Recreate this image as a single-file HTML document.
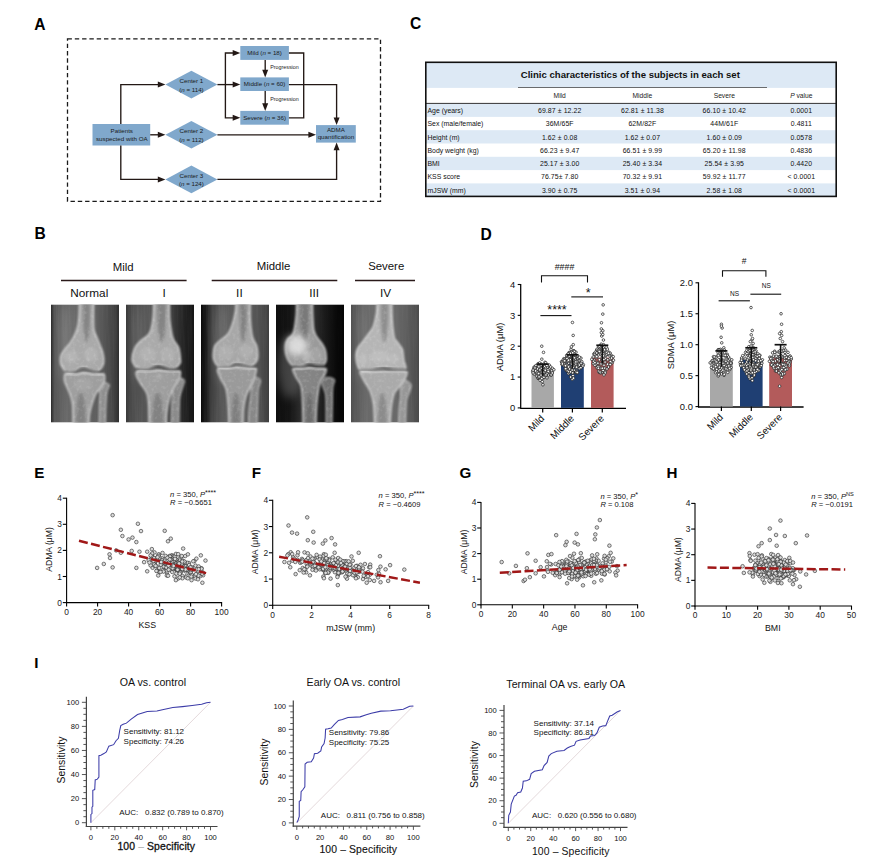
<!DOCTYPE html>
<html><head><meta charset="utf-8"><style>
html,body{margin:0;padding:0;background:#fff;}
svg{display:block;font-family:"Liberation Sans",sans-serif;}
</style></head><body>
<svg width="874" height="868" viewBox="0 0 874 868">
<text x="34.20" y="29.77" font-size="15.6" text-anchor="start" font-weight="bold" fill="#000" >A</text>
<text x="410.00" y="29.37" font-size="15.6" text-anchor="start" font-weight="bold" fill="#000" >C</text>
<text x="34.60" y="239.47" font-size="15.6" text-anchor="start" font-weight="bold" fill="#000" >B</text>
<text x="480.40" y="239.57" font-size="15.6" text-anchor="start" font-weight="bold" fill="#000" >D</text>
<rect x="67.5" y="38.8" width="313" height="162.5" fill="none" stroke="#1a1a1a" stroke-width="1.3" stroke-dasharray="4.4 2.9"/>
<rect x="92.5" y="124" width="57.69999999999999" height="21.5" fill="#80a8cc"/>
<polygon points="165.4,84.6 191.4,70.8 217.4,84.6 191.4,98.39999999999999" fill="#80a8cc"/>
<polygon points="165.4,134.8 191.4,121.00000000000001 217.4,134.8 191.4,148.60000000000002" fill="#80a8cc"/>
<polygon points="165.4,179.4 191.4,165.6 217.4,179.4 191.4,193.20000000000002" fill="#80a8cc"/>
<rect x="240.3" y="46" width="48.599999999999966" height="13.899999999999999" fill="#80a8cc"/>
<rect x="240.3" y="77.4" width="48.599999999999966" height="13.599999999999994" fill="#80a8cc"/>
<rect x="240.3" y="110.9" width="48.599999999999966" height="13.799999999999997" fill="#80a8cc"/>
<rect x="316" y="125.1" width="39.80000000000001" height="17.5" fill="#80a8cc"/>
<polyline points="120.8,124 120.8,84.6 160,84.6" fill="none" stroke="#231815" stroke-width="1.35"/>
<polygon points="165.40,84.60 157.80,81.60 157.80,87.60" fill="#231815"/>
<polyline points="150.2,134.8 160,134.8" fill="none" stroke="#231815" stroke-width="1.35"/>
<polygon points="165.40,134.80 157.80,131.80 157.80,137.80" fill="#231815"/>
<polyline points="120.8,145.5 120.8,179.4 160,179.4" fill="none" stroke="#231815" stroke-width="1.35"/>
<polygon points="165.40,179.40 157.80,176.40 157.80,182.40" fill="#231815"/>
<polyline points="217.4,84.6 235,84.6" fill="none" stroke="#231815" stroke-width="1.35"/>
<polygon points="240.30,84.60 232.70,81.60 232.70,87.60" fill="#231815"/>
<polyline points="225.4,84.6 225.4,53 235,53" fill="none" stroke="#231815" stroke-width="1.35"/>
<polygon points="240.30,53.00 232.70,50.00 232.70,56.00" fill="#231815"/>
<polyline points="225.4,84.6 225.4,117.8 235,117.8" fill="none" stroke="#231815" stroke-width="1.35"/>
<polygon points="240.30,117.80 232.70,114.80 232.70,120.80" fill="#231815"/>
<polyline points="265.2,59.9 265.2,72" fill="none" stroke="#231815" stroke-width="1.35"/>
<polygon points="265.20,77.40 262.20,69.80 268.20,69.80" fill="#231815"/>
<polyline points="265.2,91 265.2,105.5" fill="none" stroke="#231815" stroke-width="1.35"/>
<polygon points="265.20,110.90 262.20,103.30 268.20,103.30" fill="#231815"/>
<polyline points="288.9,53 303.7,53 303.7,117.8 288.9,117.8" fill="none" stroke="#231815" stroke-width="1.35"/>
<polyline points="288.9,84.6 336.6,84.6 336.6,119.5" fill="none" stroke="#231815" stroke-width="1.35"/>
<polygon points="336.60,125.10 333.60,117.50 339.60,117.50" fill="#231815"/>
<polyline points="217.4,134.8 310.5,134.8" fill="none" stroke="#231815" stroke-width="1.35"/>
<polygon points="316.00,134.80 308.40,131.80 308.40,137.80" fill="#231815"/>
<polyline points="217.4,179.4 336.6,179.4 336.6,148" fill="none" stroke="#231815" stroke-width="1.35"/>
<polygon points="336.60,142.60 333.60,150.20 339.60,150.20" fill="#231815"/>
<text x="121.80" y="133.10" font-size="6.2" text-anchor="middle" font-weight="normal" fill="#1a1a1a" >Patients</text>
<text x="121.80" y="141.00" font-size="6.2" text-anchor="middle" font-weight="normal" fill="#1a1a1a" >suspected with OA</text>
<text x="191.40" y="82.80" font-size="6.2" text-anchor="middle" font-weight="normal" fill="#1a1a1a" >Center 1</text>
<text x="191.40" y="91.60" font-size="6.2" text-anchor="middle" font-weight="normal" fill="#1a1a1a" >(<tspan font-style="italic">n</tspan> = 114)</text>
<text x="191.40" y="133.00" font-size="6.2" text-anchor="middle" font-weight="normal" fill="#1a1a1a" >Center 2</text>
<text x="191.40" y="141.80" font-size="6.2" text-anchor="middle" font-weight="normal" fill="#1a1a1a" >(<tspan font-style="italic">n</tspan> = 112)</text>
<text x="191.40" y="177.60" font-size="6.2" text-anchor="middle" font-weight="normal" fill="#1a1a1a" >Center 3</text>
<text x="191.40" y="186.40" font-size="6.2" text-anchor="middle" font-weight="normal" fill="#1a1a1a" >(<tspan font-style="italic">n</tspan> = 124)</text>
<text x="264.60" y="54.80" font-size="6.2" text-anchor="middle" font-weight="normal" fill="#1a1a1a" >Mild (<tspan font-style="italic">n</tspan> = 18)</text>
<text x="264.60" y="86.00" font-size="6.2" text-anchor="middle" font-weight="normal" fill="#1a1a1a" >Middle (<tspan font-style="italic">n</tspan> = 60)</text>
<text x="264.60" y="119.60" font-size="6.2" text-anchor="middle" font-weight="normal" fill="#1a1a1a" >Severe (<tspan font-style="italic">n</tspan> = 36)</text>
<text x="270.20" y="68.90" font-size="5.35" text-anchor="start" font-weight="normal" fill="#1a1a1a" >Progression</text>
<text x="270.20" y="101.20" font-size="5.35" text-anchor="start" font-weight="normal" fill="#1a1a1a" >Progression</text>
<text x="335.90" y="131.80" font-size="6.2" text-anchor="middle" font-weight="normal" fill="#1a1a1a" >ADMA</text>
<text x="335.90" y="139.40" font-size="6.2" text-anchor="middle" font-weight="normal" fill="#1a1a1a" >quantification</text>
<rect x="425.8" y="62.3" width="410.40000000000003" height="25.6" fill="#dde9f5"/>
<rect x="425.8" y="103.60" width="410.40000000000003" height="13.30" fill="#dde9f5"/>
<text x="427.50" y="112.95" font-size="6.9" text-anchor="start" font-weight="normal" fill="#111" >Age (years)</text>
<text x="559.70" y="112.95" font-size="6.9" text-anchor="middle" font-weight="normal" fill="#111" letter-spacing="0.1">69.87 ± 12.22</text>
<text x="642.40" y="112.95" font-size="6.9" text-anchor="middle" font-weight="normal" fill="#111" letter-spacing="0.1">62.81 ± 11.38</text>
<text x="724.30" y="112.95" font-size="6.9" text-anchor="middle" font-weight="normal" fill="#111" letter-spacing="0.1">66.10 ± 10.42</text>
<text x="801.30" y="112.95" font-size="6.9" text-anchor="middle" font-weight="normal" fill="#111" letter-spacing="0.1">0.0001</text>
<text x="427.50" y="126.25" font-size="6.9" text-anchor="start" font-weight="normal" fill="#111" >Sex (male/female)</text>
<text x="559.70" y="126.25" font-size="6.9" text-anchor="middle" font-weight="normal" fill="#111" letter-spacing="0.1">36M/65F</text>
<text x="642.40" y="126.25" font-size="6.9" text-anchor="middle" font-weight="normal" fill="#111" letter-spacing="0.1">62M/82F</text>
<text x="724.30" y="126.25" font-size="6.9" text-anchor="middle" font-weight="normal" fill="#111" letter-spacing="0.1">44M/61F</text>
<text x="801.30" y="126.25" font-size="6.9" text-anchor="middle" font-weight="normal" fill="#111" letter-spacing="0.1">0.4811</text>
<rect x="425.8" y="130.20" width="410.40000000000003" height="13.30" fill="#dde9f5"/>
<text x="427.50" y="139.55" font-size="6.9" text-anchor="start" font-weight="normal" fill="#111" >Height (m)</text>
<text x="559.70" y="139.55" font-size="6.9" text-anchor="middle" font-weight="normal" fill="#111" letter-spacing="0.1">1.62 ± 0.08</text>
<text x="642.40" y="139.55" font-size="6.9" text-anchor="middle" font-weight="normal" fill="#111" letter-spacing="0.1">1.62 ± 0.07</text>
<text x="724.30" y="139.55" font-size="6.9" text-anchor="middle" font-weight="normal" fill="#111" letter-spacing="0.1">1.60 ± 0.09</text>
<text x="801.30" y="139.55" font-size="6.9" text-anchor="middle" font-weight="normal" fill="#111" letter-spacing="0.1">0.0578</text>
<text x="427.50" y="152.85" font-size="6.9" text-anchor="start" font-weight="normal" fill="#111" >Body weight (kg)</text>
<text x="559.70" y="152.85" font-size="6.9" text-anchor="middle" font-weight="normal" fill="#111" letter-spacing="0.1">66.23 ± 9.47</text>
<text x="642.40" y="152.85" font-size="6.9" text-anchor="middle" font-weight="normal" fill="#111" letter-spacing="0.1">66.51 ± 9.99</text>
<text x="724.30" y="152.85" font-size="6.9" text-anchor="middle" font-weight="normal" fill="#111" letter-spacing="0.1">65.20 ± 11.98</text>
<text x="801.30" y="152.85" font-size="6.9" text-anchor="middle" font-weight="normal" fill="#111" letter-spacing="0.1">0.4836</text>
<rect x="425.8" y="156.80" width="410.40000000000003" height="13.30" fill="#dde9f5"/>
<text x="427.50" y="166.15" font-size="6.9" text-anchor="start" font-weight="normal" fill="#111" >BMI</text>
<text x="559.70" y="166.15" font-size="6.9" text-anchor="middle" font-weight="normal" fill="#111" letter-spacing="0.1">25.17 ± 3.00</text>
<text x="642.40" y="166.15" font-size="6.9" text-anchor="middle" font-weight="normal" fill="#111" letter-spacing="0.1">25.40 ± 3.34</text>
<text x="724.30" y="166.15" font-size="6.9" text-anchor="middle" font-weight="normal" fill="#111" letter-spacing="0.1">25.54 ± 3.95</text>
<text x="801.30" y="166.15" font-size="6.9" text-anchor="middle" font-weight="normal" fill="#111" letter-spacing="0.1">0.4420</text>
<text x="427.50" y="179.45" font-size="6.9" text-anchor="start" font-weight="normal" fill="#111" >KSS score</text>
<text x="559.70" y="179.45" font-size="6.9" text-anchor="middle" font-weight="normal" fill="#111" letter-spacing="0.1">76.75± 7.80</text>
<text x="642.40" y="179.45" font-size="6.9" text-anchor="middle" font-weight="normal" fill="#111" letter-spacing="0.1">70.32 ± 9.91</text>
<text x="724.30" y="179.45" font-size="6.9" text-anchor="middle" font-weight="normal" fill="#111" letter-spacing="0.1">59.92 ± 11.77</text>
<text x="801.30" y="179.45" font-size="6.9" text-anchor="middle" font-weight="normal" fill="#111" letter-spacing="0.1">&lt; 0.0001</text>
<rect x="425.8" y="183.40" width="410.40000000000003" height="13.30" fill="#dde9f5"/>
<text x="427.50" y="192.75" font-size="6.9" text-anchor="start" font-weight="normal" fill="#111" >mJSW (mm)</text>
<text x="559.70" y="192.75" font-size="6.9" text-anchor="middle" font-weight="normal" fill="#111" letter-spacing="0.1">3.90 ± 0.75</text>
<text x="642.40" y="192.75" font-size="6.9" text-anchor="middle" font-weight="normal" fill="#111" letter-spacing="0.1">3.51 ± 0.94</text>
<text x="724.30" y="192.75" font-size="6.9" text-anchor="middle" font-weight="normal" fill="#111" letter-spacing="0.1">2.58 ± 1.08</text>
<text x="801.30" y="192.75" font-size="6.9" text-anchor="middle" font-weight="normal" fill="#111" letter-spacing="0.1">&lt; 0.0001</text>
<line x1="425.8" y1="103.4" x2="836.2" y2="103.4" stroke="#333" stroke-width="1"/>
<line x1="518" y1="87.5" x2="767" y2="87.5" stroke="#4a4a4a" stroke-width="0.8"/>
<text x="630.30" y="77.80" font-size="9.6" text-anchor="middle" font-weight="bold" fill="#111" >Clinic characteristics of the subjects in each set</text>
<text x="559.70" y="98.20" font-size="6.7" text-anchor="middle" font-weight="normal" fill="#222" >Mild</text>
<text x="642.40" y="98.20" font-size="6.7" text-anchor="middle" font-weight="normal" fill="#222" >Middle</text>
<text x="724.30" y="98.20" font-size="6.7" text-anchor="middle" font-weight="normal" fill="#222" >Severe</text>
<text x="801.30" y="98.20" font-size="6.7" text-anchor="middle" font-weight="normal" fill="#222" ><tspan font-style="italic">P</tspan> value</text>
<rect x="425.8" y="62.3" width="410.40000000000003" height="134.10000000000002" fill="none" stroke="#111" stroke-width="1.6"/>
<defs><filter id="xb" x="-10%" y="-10%" width="120%" height="120%"><feGaussianBlur stdDeviation="0.9"/></filter><filter id="xb2" x="-50%" y="-50%" width="200%" height="200%"><feGaussianBlur stdDeviation="3"/></filter></defs>
<defs><filter id="xb3" x="-50%" y="-50%" width="200%" height="200%"><feGaussianBlur stdDeviation="1.6"/></filter><filter id="xb4" x="-50%" y="-50%" width="200%" height="200%"><feGaussianBlur stdDeviation="5"/></filter><filter id="xb5" x="-50%" y="-50%" width="200%" height="200%"><feGaussianBlur stdDeviation="3"/></filter><filter id="xnoise" x="0" y="0" width="100%" height="100%"><feTurbulence type="fractalNoise" baseFrequency="0.28" numOctaves="2" seed="4" result="n"/><feColorMatrix in="n" type="matrix" values="0 0 0 0 1  0 0 0 0 1  0 0 0 0 1  0 0 0 1.6 -0.75" result="m"/><feComposite in="m" in2="SourceGraphic" operator="in" result="c"/><feGaussianBlur in="c" stdDeviation="0.5"/></filter><filter id="xnoise2" x="0" y="0" width="100%" height="100%"><feTurbulence type="fractalNoise" baseFrequency="0.45 0.02" numOctaves="2" seed="9" result="n"/><feColorMatrix in="n" type="matrix" values="0 0 0 0 1  0 0 0 0 1  0 0 0 0 1  0 0 0 1.2 -0.45" result="m"/><feComposite in="m" in2="SourceGraphic" operator="in" result="c"/><feGaussianBlur in="c" stdDeviation="0.6"/></filter></defs>
<defs><linearGradient id="xg0" x1="0" y1="0" x2="1" y2="0"><stop offset="0" stop-color="#2a2a2a"/><stop offset="0.05" stop-color="#555555"/><stop offset="0.2" stop-color="#666666"/><stop offset="0.45" stop-color="#6a6a6a"/><stop offset="0.75" stop-color="#585858"/><stop offset="0.92" stop-color="#444444"/><stop offset="1" stop-color="#2e2e2e"/></linearGradient><clipPath id="xc0"><rect x="0" y="0" width="68.0" height="118.2"/></clipPath><clipPath id="xbc0"><path d="M28.40,-3.00 C28.33,-0.83 28.28,5.83 28.00,10.00 C27.72,14.17 27.60,18.22 26.70,22.00 C25.80,25.78 23.93,29.88 22.60,32.70 C21.27,35.52 20.13,36.95 18.70,38.90 C17.27,40.85 15.43,42.45 14.00,44.40 C12.57,46.35 10.88,48.67 10.10,50.60 C9.32,52.53 9.28,54.27 9.30,56.00 C9.32,57.73 9.25,59.20 10.20,61.00 C11.15,62.80 12.87,65.75 15.00,66.80 C17.13,67.85 20.67,67.85 23.00,67.30 C25.33,66.75 27.33,64.25 29.00,63.50 C30.67,62.75 31.50,62.63 33.00,62.80 C34.50,62.97 35.67,63.83 38.00,64.50 C40.33,65.17 44.70,67.35 47.00,66.80 C49.30,66.25 50.82,63.00 51.80,61.20 C52.78,59.40 52.90,58.17 52.90,56.00 C52.90,53.83 52.45,50.78 51.80,48.20 C51.15,45.62 49.98,43.08 49.00,40.50 C48.02,37.92 46.87,35.17 45.90,32.70 C44.93,30.23 43.75,29.15 43.20,25.70 C42.65,22.25 42.67,16.78 42.60,12.00 C42.53,7.22 42.77,-0.50 42.80,-3.00Z"/><path d="M22.00,121.00 C21.92,117.50 22.00,105.17 21.50,100.00 C21.00,94.83 20.00,93.00 19.00,90.00 C18.00,87.00 16.43,84.33 15.50,82.00 C14.57,79.67 13.72,77.83 13.40,76.00 C13.08,74.17 13.33,72.13 13.60,71.00 C13.87,69.87 13.10,69.43 15.00,69.20 C16.90,68.97 22.00,69.80 25.00,69.60 C28.00,69.40 30.17,68.00 33.00,68.00 C35.83,68.00 38.83,69.35 42.00,69.60 C45.17,69.85 50.07,69.27 52.00,69.50 C53.93,69.73 53.37,69.72 53.60,71.00 C53.83,72.28 54.10,75.10 53.40,77.20 C52.70,79.30 50.88,81.47 49.40,83.60 C47.92,85.73 45.90,87.27 44.50,90.00 C43.10,92.73 42.00,96.67 41.00,100.00 C40.00,103.33 39.05,106.50 38.50,110.00 C37.95,113.50 37.83,119.17 37.70,121.00Z"/><path d="M48.00,121.00 C48.05,117.50 48.17,105.50 48.30,100.00 C48.43,94.50 49.18,91.17 48.80,88.00 C48.42,84.83 46.05,82.58 46.00,81.00 C45.95,79.42 47.25,79.00 48.50,78.50 C49.75,78.00 51.87,77.68 53.50,78.00 C55.13,78.32 57.80,79.07 58.30,80.40 C58.80,81.73 56.97,84.07 56.50,86.00 C56.03,87.93 55.78,88.83 55.50,92.00 C55.22,95.17 54.97,100.17 54.80,105.00 C54.63,109.83 54.55,118.33 54.50,121.00Z"/></clipPath></defs>
<g transform="translate(51.0,304.4)"><g clip-path="url(#xc0)">
<rect x="0" y="0" width="68.0" height="118.2" fill="url(#xg0)"/>
<rect x="0" y="0" width="68.0" height="118.2" fill="#fff" opacity="0.08" filter="url(#xnoise2)"/>
<ellipse cx="14" cy="40" rx="6" ry="40" fill="#fff" opacity="0.12" filter="url(#xb4)"/>
<g filter="url(#xb)" opacity="0.92">
<path d="M48.00,121.00 C48.05,117.50 48.17,105.50 48.30,100.00 C48.43,94.50 49.18,91.17 48.80,88.00 C48.42,84.83 46.05,82.58 46.00,81.00 C45.95,79.42 47.25,79.00 48.50,78.50 C49.75,78.00 51.87,77.68 53.50,78.00 C55.13,78.32 57.80,79.07 58.30,80.40 C58.80,81.73 56.97,84.07 56.50,86.00 C56.03,87.93 55.78,88.83 55.50,92.00 C55.22,95.17 54.97,100.17 54.80,105.00 C54.63,109.83 54.55,118.33 54.50,121.00Z" fill="#949494" stroke="#d0d0d0" stroke-width="1.0"/>
<path d="M22.00,121.00 C21.92,117.50 22.00,105.17 21.50,100.00 C21.00,94.83 20.00,93.00 19.00,90.00 C18.00,87.00 16.43,84.33 15.50,82.00 C14.57,79.67 13.72,77.83 13.40,76.00 C13.08,74.17 13.33,72.13 13.60,71.00 C13.87,69.87 13.10,69.43 15.00,69.20 C16.90,68.97 22.00,69.80 25.00,69.60 C28.00,69.40 30.17,68.00 33.00,68.00 C35.83,68.00 38.83,69.35 42.00,69.60 C45.17,69.85 50.07,69.27 52.00,69.50 C53.93,69.73 53.37,69.72 53.60,71.00 C53.83,72.28 54.10,75.10 53.40,77.20 C52.70,79.30 50.88,81.47 49.40,83.60 C47.92,85.73 45.90,87.27 44.50,90.00 C43.10,92.73 42.00,96.67 41.00,100.00 C40.00,103.33 39.05,106.50 38.50,110.00 C37.95,113.50 37.83,119.17 37.70,121.00Z" fill="#a4a4a4" stroke="#e4e4e4" stroke-width="1.15"/>
<path d="M28.40,-3.00 C28.33,-0.83 28.28,5.83 28.00,10.00 C27.72,14.17 27.60,18.22 26.70,22.00 C25.80,25.78 23.93,29.88 22.60,32.70 C21.27,35.52 20.13,36.95 18.70,38.90 C17.27,40.85 15.43,42.45 14.00,44.40 C12.57,46.35 10.88,48.67 10.10,50.60 C9.32,52.53 9.28,54.27 9.30,56.00 C9.32,57.73 9.25,59.20 10.20,61.00 C11.15,62.80 12.87,65.75 15.00,66.80 C17.13,67.85 20.67,67.85 23.00,67.30 C25.33,66.75 27.33,64.25 29.00,63.50 C30.67,62.75 31.50,62.63 33.00,62.80 C34.50,62.97 35.67,63.83 38.00,64.50 C40.33,65.17 44.70,67.35 47.00,66.80 C49.30,66.25 50.82,63.00 51.80,61.20 C52.78,59.40 52.90,58.17 52.90,56.00 C52.90,53.83 52.45,50.78 51.80,48.20 C51.15,45.62 49.98,43.08 49.00,40.50 C48.02,37.92 46.87,35.17 45.90,32.70 C44.93,30.23 43.75,29.15 43.20,25.70 C42.65,22.25 42.67,16.78 42.60,12.00 C42.53,7.22 42.77,-0.50 42.80,-3.00Z" fill="#b0b0b0" stroke="#e8e8e8" stroke-width="1.15"/>
</g>
<g clip-path="url(#xbc0)">
<ellipse cx="20" cy="52" rx="7" ry="6" fill="#fff" opacity="0.12" filter="url(#xb3)"/>
<ellipse cx="40" cy="50" rx="7" ry="7" fill="#fff" opacity="0.12" filter="url(#xb3)"/>
<ellipse cx="32" cy="80" rx="9" ry="6" fill="#fff" opacity="0.08" filter="url(#xb3)"/>
<ellipse cx="35.60" cy="6" rx="3.70" ry="32" fill="#000" opacity="0.22" filter="url(#xb3)"/>
<ellipse cx="29.85" cy="118" rx="4.85" ry="30" fill="#000" opacity="0.18" filter="url(#xb3)"/>
<rect x="0" y="0" width="68.0" height="118.2" fill="#fff" opacity="0.22" filter="url(#xnoise)"/>
</g>
<path d="M14.00,67.00 C15.67,67.10 21.17,68.18 24.00,67.60 C26.83,67.02 28.67,63.93 31.00,63.50 C33.33,63.07 35.33,64.37 38.00,65.00 C40.67,65.63 44.67,67.00 47.00,67.30 C49.33,67.60 51.17,66.88 52.00,66.80" fill="none" stroke="#505050" stroke-width="1.4" opacity="0.85" filter="url(#xb)"/>
<path d="M15.00,70.00 C16.67,70.07 22.00,70.65 25.00,70.40 C28.00,70.15 30.17,68.57 33.00,68.50 C35.83,68.43 38.67,69.70 42.00,70.00 C45.33,70.30 51.17,70.25 53.00,70.30" fill="none" stroke="#e6e6e6" stroke-width="1.0" opacity="0.8" filter="url(#xb)"/>
</g></g>
<defs><linearGradient id="xg1" x1="0" y1="0" x2="1" y2="0"><stop offset="0" stop-color="#3a3a3a"/><stop offset="0.1" stop-color="#4e4e4e"/><stop offset="0.35" stop-color="#585858"/><stop offset="0.7" stop-color="#3a3a3a"/><stop offset="0.88" stop-color="#202020"/><stop offset="1" stop-color="#141414"/></linearGradient><clipPath id="xc1"><rect x="0" y="0" width="68.0" height="118.2"/></clipPath><clipPath id="xbc1"><path d="M27.60,-3.00 C27.53,-0.83 27.52,5.83 27.20,10.00 C26.88,14.17 26.45,18.70 25.70,22.00 C24.95,25.30 24.65,27.30 22.70,29.80 C20.75,32.30 16.37,34.63 14.00,37.00 C11.63,39.37 9.83,41.00 8.50,44.00 C7.17,47.00 6.08,52.33 6.00,55.00 C5.92,57.67 7.17,58.57 8.00,60.00 C8.83,61.43 8.67,62.85 11.00,63.60 C13.33,64.35 19.00,64.93 22.00,64.50 C25.00,64.07 27.17,61.67 29.00,61.00 C30.83,60.33 31.50,60.33 33.00,60.50 C34.50,60.67 36.00,61.38 38.00,62.00 C40.00,62.62 43.00,63.93 45.00,64.20 C47.00,64.47 48.50,64.47 50.00,63.60 C51.50,62.73 53.23,60.17 54.00,59.00 C54.77,57.83 54.77,59.10 54.60,56.60 C54.43,54.10 54.10,47.43 53.00,44.00 C51.90,40.57 49.17,38.33 48.00,36.00 C46.83,33.67 46.70,33.50 46.00,30.00 C45.30,26.50 44.22,20.50 43.80,15.00 C43.38,9.50 43.55,0.00 43.50,-3.00Z"/><path d="M23.00,121.00 C22.92,117.50 22.87,105.33 22.50,100.00 C22.13,94.67 22.05,92.33 20.80,89.00 C19.55,85.67 16.72,82.83 15.00,80.00 C13.28,77.17 11.33,74.08 10.50,72.00 C9.67,69.92 9.75,68.43 10.00,67.50 C10.25,66.57 10.00,66.52 12.00,66.40 C14.00,66.28 18.67,67.00 22.00,66.80 C25.33,66.60 28.33,65.20 32.00,65.20 C35.67,65.20 40.50,66.60 44.00,66.80 C47.50,67.00 51.23,66.20 53.00,66.40 C54.77,66.60 54.52,66.73 54.60,68.00 C54.68,69.27 54.77,71.22 53.50,74.00 C52.23,76.78 48.75,81.03 47.00,84.70 C45.25,88.37 44.00,92.12 43.00,96.00 C42.00,99.88 41.42,103.83 41.00,108.00 C40.58,112.17 40.58,118.83 40.50,121.00Z"/><path d="M45.00,121.00 C45.08,117.50 45.25,105.50 45.50,100.00 C45.75,94.50 46.67,91.83 46.50,88.00 C46.33,84.17 44.17,79.42 44.50,77.00 C44.83,74.58 46.83,74.08 48.50,73.50 C50.17,72.92 52.83,73.08 54.50,73.50 C56.17,73.92 58.08,74.58 58.50,76.00 C58.92,77.42 57.75,79.33 57.00,82.00 C56.25,84.67 54.63,88.17 54.00,92.00 C53.37,95.83 53.37,100.17 53.20,105.00 C53.03,109.83 53.03,118.33 53.00,121.00Z"/></clipPath></defs>
<g transform="translate(126.0,304.4)"><g clip-path="url(#xc1)">
<rect x="0" y="0" width="68.0" height="118.2" fill="url(#xg1)"/>
<rect x="0" y="0" width="68.0" height="118.2" fill="#fff" opacity="0.08" filter="url(#xnoise2)"/>
<ellipse cx="12" cy="40" rx="7" ry="40" fill="#fff" opacity="0.08" filter="url(#xb4)"/>
<g filter="url(#xb)" opacity="0.92">
<path d="M45.00,121.00 C45.08,117.50 45.25,105.50 45.50,100.00 C45.75,94.50 46.67,91.83 46.50,88.00 C46.33,84.17 44.17,79.42 44.50,77.00 C44.83,74.58 46.83,74.08 48.50,73.50 C50.17,72.92 52.83,73.08 54.50,73.50 C56.17,73.92 58.08,74.58 58.50,76.00 C58.92,77.42 57.75,79.33 57.00,82.00 C56.25,84.67 54.63,88.17 54.00,92.00 C53.37,95.83 53.37,100.17 53.20,105.00 C53.03,109.83 53.03,118.33 53.00,121.00Z" fill="#929292" stroke="#d0d0d0" stroke-width="1.0"/>
<path d="M23.00,121.00 C22.92,117.50 22.87,105.33 22.50,100.00 C22.13,94.67 22.05,92.33 20.80,89.00 C19.55,85.67 16.72,82.83 15.00,80.00 C13.28,77.17 11.33,74.08 10.50,72.00 C9.67,69.92 9.75,68.43 10.00,67.50 C10.25,66.57 10.00,66.52 12.00,66.40 C14.00,66.28 18.67,67.00 22.00,66.80 C25.33,66.60 28.33,65.20 32.00,65.20 C35.67,65.20 40.50,66.60 44.00,66.80 C47.50,67.00 51.23,66.20 53.00,66.40 C54.77,66.60 54.52,66.73 54.60,68.00 C54.68,69.27 54.77,71.22 53.50,74.00 C52.23,76.78 48.75,81.03 47.00,84.70 C45.25,88.37 44.00,92.12 43.00,96.00 C42.00,99.88 41.42,103.83 41.00,108.00 C40.58,112.17 40.58,118.83 40.50,121.00Z" fill="#a6a6a6" stroke="#e4e4e4" stroke-width="1.15"/>
<path d="M27.60,-3.00 C27.53,-0.83 27.52,5.83 27.20,10.00 C26.88,14.17 26.45,18.70 25.70,22.00 C24.95,25.30 24.65,27.30 22.70,29.80 C20.75,32.30 16.37,34.63 14.00,37.00 C11.63,39.37 9.83,41.00 8.50,44.00 C7.17,47.00 6.08,52.33 6.00,55.00 C5.92,57.67 7.17,58.57 8.00,60.00 C8.83,61.43 8.67,62.85 11.00,63.60 C13.33,64.35 19.00,64.93 22.00,64.50 C25.00,64.07 27.17,61.67 29.00,61.00 C30.83,60.33 31.50,60.33 33.00,60.50 C34.50,60.67 36.00,61.38 38.00,62.00 C40.00,62.62 43.00,63.93 45.00,64.20 C47.00,64.47 48.50,64.47 50.00,63.60 C51.50,62.73 53.23,60.17 54.00,59.00 C54.77,57.83 54.77,59.10 54.60,56.60 C54.43,54.10 54.10,47.43 53.00,44.00 C51.90,40.57 49.17,38.33 48.00,36.00 C46.83,33.67 46.70,33.50 46.00,30.00 C45.30,26.50 44.22,20.50 43.80,15.00 C43.38,9.50 43.55,0.00 43.50,-3.00Z" fill="#b2b2b2" stroke="#e8e8e8" stroke-width="1.15"/>
</g>
<g clip-path="url(#xbc1)">
<ellipse cx="22" cy="50" rx="8" ry="7" fill="#fff" opacity="0.1" filter="url(#xb3)"/>
<ellipse cx="42" cy="50" rx="7" ry="7" fill="#fff" opacity="0.1" filter="url(#xb3)"/>
<ellipse cx="33" cy="72" rx="4" ry="2" fill="#fff" opacity="0.15" filter="url(#xb3)"/>
<ellipse cx="35.55" cy="6" rx="4.45" ry="32" fill="#000" opacity="0.22" filter="url(#xb3)"/>
<ellipse cx="31.75" cy="118" rx="5.75" ry="30" fill="#000" opacity="0.18" filter="url(#xb3)"/>
<rect x="0" y="0" width="68.0" height="118.2" fill="#fff" opacity="0.22" filter="url(#xnoise)"/>
</g>
<path d="M10.00,64.50 C12.00,64.58 18.67,65.50 22.00,65.00 C25.33,64.50 27.50,61.92 30.00,61.50 C32.50,61.08 34.33,61.95 37.00,62.50 C39.67,63.05 43.17,64.52 46.00,64.80 C48.83,65.08 52.67,64.30 54.00,64.20" fill="none" stroke="#505050" stroke-width="1.4" opacity="0.85" filter="url(#xb)"/>
<path d="M11.00,67.50 C12.83,67.52 18.50,67.85 22.00,67.60 C25.50,67.35 28.33,66.03 32.00,66.00 C35.67,65.97 40.33,67.15 44.00,67.40 C47.67,67.65 52.33,67.48 54.00,67.50" fill="none" stroke="#e6e6e6" stroke-width="1.0" opacity="0.8" filter="url(#xb)"/>
</g></g>
<defs><linearGradient id="xg2" x1="0" y1="0" x2="1" y2="0"><stop offset="0" stop-color="#0a0a0a"/><stop offset="0.08" stop-color="#1c1c1c"/><stop offset="0.15" stop-color="#3e3e3e"/><stop offset="0.3" stop-color="#585858"/><stop offset="0.6" stop-color="#5e5e5e"/><stop offset="0.85" stop-color="#525252"/><stop offset="1" stop-color="#3e3e3e"/></linearGradient><clipPath id="xc2"><rect x="0" y="0" width="68.0" height="118.2"/></clipPath><clipPath id="xbc2"><path d="M35.20,-3.00 C35.03,-1.17 34.87,4.17 34.20,8.00 C33.53,11.83 32.48,16.33 31.20,20.00 C29.92,23.67 28.53,27.33 26.50,30.00 C24.47,32.67 21.08,34.17 19.00,36.00 C16.92,37.83 15.10,39.00 14.00,41.00 C12.90,43.00 12.67,45.83 12.40,48.00 C12.13,50.17 12.05,52.17 12.40,54.00 C12.75,55.83 13.57,57.67 14.50,59.00 C15.43,60.33 15.92,61.45 18.00,62.00 C20.08,62.55 24.50,62.80 27.00,62.30 C29.50,61.80 31.33,59.63 33.00,59.00 C34.67,58.37 35.50,58.33 37.00,58.50 C38.50,58.67 39.83,59.50 42.00,60.00 C44.17,60.50 48.00,61.67 50.00,61.50 C52.00,61.33 52.88,60.30 54.00,59.00 C55.12,57.70 56.37,56.45 56.70,53.70 C57.03,50.95 56.62,45.45 56.00,42.50 C55.38,39.55 53.83,38.08 53.00,36.00 C52.17,33.92 51.60,33.50 51.00,30.00 C50.40,26.50 49.70,20.50 49.40,15.00 C49.10,9.50 49.23,0.00 49.20,-3.00Z"/><path d="M27.90,121.00 C27.75,117.50 27.48,106.05 27.00,100.00 C26.52,93.95 26.17,88.87 25.00,84.70 C23.83,80.53 21.42,77.95 20.00,75.00 C18.58,72.05 17.00,68.83 16.50,67.00 C16.00,65.17 16.67,64.67 17.00,64.00 C17.33,63.33 16.67,63.08 18.50,63.00 C20.33,62.92 25.08,63.63 28.00,63.50 C30.92,63.37 33.00,62.20 36.00,62.20 C39.00,62.20 43.00,63.27 46.00,63.50 C49.00,63.73 52.42,63.35 54.00,63.60 C55.58,63.85 55.42,63.93 55.50,65.00 C55.58,66.07 54.92,68.33 54.50,70.00 C54.08,71.67 54.08,72.50 53.00,75.00 C51.92,77.50 49.38,82.00 48.00,85.00 C46.62,88.00 45.62,89.67 44.70,93.00 C43.78,96.33 42.95,100.33 42.50,105.00 C42.05,109.67 42.08,118.33 42.00,121.00Z"/><path d="M47.50,121.00 C47.58,118.33 47.58,110.17 48.00,105.00 C48.42,99.83 49.67,94.17 50.00,90.00 C50.33,85.83 49.75,82.67 50.00,80.00 C50.25,77.33 50.58,75.17 51.50,74.00 C52.42,72.83 54.17,72.67 55.50,73.00 C56.83,73.33 59.17,74.17 59.50,76.00 C59.83,77.83 57.95,80.83 57.50,84.00 C57.05,87.17 57.05,88.83 56.80,95.00 C56.55,101.17 56.13,116.67 56.00,121.00Z"/></clipPath></defs>
<g transform="translate(201.0,304.4)"><g clip-path="url(#xc2)">
<rect x="0" y="0" width="68.0" height="118.2" fill="url(#xg2)"/>
<rect x="0" y="0" width="68.0" height="118.2" fill="#fff" opacity="0.08" filter="url(#xnoise2)"/>
<ellipse cx="20" cy="40" rx="8" ry="40" fill="#fff" opacity="0.1" filter="url(#xb4)"/>
<g filter="url(#xb)" opacity="0.92">
<path d="M47.50,121.00 C47.58,118.33 47.58,110.17 48.00,105.00 C48.42,99.83 49.67,94.17 50.00,90.00 C50.33,85.83 49.75,82.67 50.00,80.00 C50.25,77.33 50.58,75.17 51.50,74.00 C52.42,72.83 54.17,72.67 55.50,73.00 C56.83,73.33 59.17,74.17 59.50,76.00 C59.83,77.83 57.95,80.83 57.50,84.00 C57.05,87.17 57.05,88.83 56.80,95.00 C56.55,101.17 56.13,116.67 56.00,121.00Z" fill="#8c8c8c" stroke="#d0d0d0" stroke-width="1.0"/>
<path d="M27.90,121.00 C27.75,117.50 27.48,106.05 27.00,100.00 C26.52,93.95 26.17,88.87 25.00,84.70 C23.83,80.53 21.42,77.95 20.00,75.00 C18.58,72.05 17.00,68.83 16.50,67.00 C16.00,65.17 16.67,64.67 17.00,64.00 C17.33,63.33 16.67,63.08 18.50,63.00 C20.33,62.92 25.08,63.63 28.00,63.50 C30.92,63.37 33.00,62.20 36.00,62.20 C39.00,62.20 43.00,63.27 46.00,63.50 C49.00,63.73 52.42,63.35 54.00,63.60 C55.58,63.85 55.42,63.93 55.50,65.00 C55.58,66.07 54.92,68.33 54.50,70.00 C54.08,71.67 54.08,72.50 53.00,75.00 C51.92,77.50 49.38,82.00 48.00,85.00 C46.62,88.00 45.62,89.67 44.70,93.00 C43.78,96.33 42.95,100.33 42.50,105.00 C42.05,109.67 42.08,118.33 42.00,121.00Z" fill="#a0a0a0" stroke="#e4e4e4" stroke-width="1.15"/>
<path d="M35.20,-3.00 C35.03,-1.17 34.87,4.17 34.20,8.00 C33.53,11.83 32.48,16.33 31.20,20.00 C29.92,23.67 28.53,27.33 26.50,30.00 C24.47,32.67 21.08,34.17 19.00,36.00 C16.92,37.83 15.10,39.00 14.00,41.00 C12.90,43.00 12.67,45.83 12.40,48.00 C12.13,50.17 12.05,52.17 12.40,54.00 C12.75,55.83 13.57,57.67 14.50,59.00 C15.43,60.33 15.92,61.45 18.00,62.00 C20.08,62.55 24.50,62.80 27.00,62.30 C29.50,61.80 31.33,59.63 33.00,59.00 C34.67,58.37 35.50,58.33 37.00,58.50 C38.50,58.67 39.83,59.50 42.00,60.00 C44.17,60.50 48.00,61.67 50.00,61.50 C52.00,61.33 52.88,60.30 54.00,59.00 C55.12,57.70 56.37,56.45 56.70,53.70 C57.03,50.95 56.62,45.45 56.00,42.50 C55.38,39.55 53.83,38.08 53.00,36.00 C52.17,33.92 51.60,33.50 51.00,30.00 C50.40,26.50 49.70,20.50 49.40,15.00 C49.10,9.50 49.23,0.00 49.20,-3.00Z" fill="#aeaeae" stroke="#e8e8e8" stroke-width="1.15"/>
</g>
<g clip-path="url(#xbc2)">
<ellipse cx="25" cy="48" rx="8" ry="7" fill="#fff" opacity="0.1" filter="url(#xb3)"/>
<ellipse cx="45" cy="47" rx="7" ry="7" fill="#fff" opacity="0.1" filter="url(#xb3)"/>
<ellipse cx="42.20" cy="6" rx="3.50" ry="32" fill="#000" opacity="0.22" filter="url(#xb3)"/>
<ellipse cx="34.95" cy="118" rx="4.05" ry="30" fill="#000" opacity="0.18" filter="url(#xb3)"/>
<rect x="0" y="0" width="68.0" height="118.2" fill="#fff" opacity="0.22" filter="url(#xnoise)"/>
</g>
<path d="M17.00,62.50 C18.83,62.52 25.00,63.10 28.00,62.60 C31.00,62.10 32.67,59.85 35.00,59.50 C37.33,59.15 39.50,60.00 42.00,60.50 C44.50,61.00 47.67,62.25 50.00,62.50 C52.33,62.75 55.00,62.08 56.00,62.00" fill="none" stroke="#505050" stroke-width="1.4" opacity="0.85" filter="url(#xb)"/>
<path d="M18.00,64.20 C19.67,64.22 25.00,64.50 28.00,64.30 C31.00,64.10 33.00,63.00 36.00,63.00 C39.00,63.00 42.83,64.00 46.00,64.30 C49.17,64.60 53.50,64.72 55.00,64.80" fill="none" stroke="#e6e6e6" stroke-width="1.0" opacity="0.8" filter="url(#xb)"/>
</g></g>
<defs><linearGradient id="xg3" x1="0" y1="0" x2="1" y2="0"><stop offset="0" stop-color="#0e0e0e"/><stop offset="0.2" stop-color="#141414"/><stop offset="0.45" stop-color="#3a3a3a"/><stop offset="0.7" stop-color="#1c1c1c"/><stop offset="0.9" stop-color="#080808"/><stop offset="1" stop-color="#050505"/></linearGradient><clipPath id="xc3"><rect x="0" y="0" width="68.0" height="118.2"/></clipPath><clipPath id="xbc3"><path d="M20.60,-3.00 C20.53,-0.83 20.52,5.83 20.20,10.00 C19.88,14.17 19.30,18.67 18.70,22.00 C18.10,25.33 17.72,28.00 16.60,30.00 C15.48,32.00 13.18,32.33 12.00,34.00 C10.82,35.67 9.92,37.67 9.50,40.00 C9.08,42.33 9.25,45.72 9.50,48.00 C9.75,50.28 10.33,52.03 11.00,53.70 C11.67,55.37 12.57,56.82 13.50,58.00 C14.43,59.18 14.52,60.20 16.60,60.80 C18.68,61.40 23.60,61.90 26.00,61.60 C28.40,61.30 29.50,59.47 31.00,59.00 C32.50,58.53 33.50,58.63 35.00,58.80 C36.50,58.97 37.92,59.72 40.00,60.00 C42.08,60.28 45.83,61.00 47.50,60.50 C49.17,60.00 49.52,58.13 50.00,57.00 C50.48,55.87 50.48,55.53 50.40,53.70 C50.32,51.87 50.23,48.45 49.50,46.00 C48.77,43.55 47.50,41.33 46.00,39.00 C44.50,36.67 41.87,34.33 40.50,32.00 C39.13,29.67 38.42,28.67 37.80,25.00 C37.18,21.33 37.02,14.67 36.80,10.00 C36.58,5.33 36.55,-0.83 36.50,-3.00Z"/><path d="M27.00,121.00 C26.92,117.50 26.83,106.50 26.50,100.00 C26.17,93.50 26.08,86.50 25.00,82.00 C23.92,77.50 21.33,75.58 20.00,73.00 C18.67,70.42 17.42,67.97 17.00,66.50 C16.58,65.03 16.00,64.58 17.50,64.20 C19.00,63.82 23.42,64.40 26.00,64.20 C28.58,64.00 30.33,63.00 33.00,63.00 C35.67,63.00 39.25,64.03 42.00,64.20 C44.75,64.37 48.10,63.70 49.50,64.00 C50.90,64.30 50.57,64.83 50.40,66.00 C50.23,67.17 49.45,69.33 48.50,71.00 C47.55,72.67 45.78,73.00 44.70,76.00 C43.62,79.00 42.70,84.17 42.00,89.00 C41.30,93.83 40.83,99.67 40.50,105.00 C40.17,110.33 40.08,118.33 40.00,121.00Z"/><path d="M50.00,121.00 C50.00,118.33 50.08,110.17 50.00,105.00 C49.92,99.83 50.17,94.17 49.50,90.00 C48.83,85.83 46.42,82.50 46.00,80.00 C45.58,77.50 46.08,76.17 47.00,75.00 C47.92,73.83 49.58,73.00 51.50,73.00 C53.42,73.00 57.58,73.50 58.50,75.00 C59.42,76.50 57.33,79.17 57.00,82.00 C56.67,84.83 56.67,85.50 56.50,92.00 C56.33,98.50 56.08,116.17 56.00,121.00Z"/></clipPath></defs>
<g transform="translate(276.0,304.4)"><g clip-path="url(#xc3)">
<rect x="0" y="0" width="68.0" height="118.2" fill="url(#xg3)"/>
<rect x="0" y="0" width="68.0" height="118.2" fill="#fff" opacity="0.03" filter="url(#xnoise2)"/>
<ellipse cx="14" cy="62" rx="12" ry="32" fill="#fff" opacity="0.2" filter="url(#xb4)"/>
<g filter="url(#xb)" opacity="0.92">
<path d="M50.00,121.00 C50.00,118.33 50.08,110.17 50.00,105.00 C49.92,99.83 50.17,94.17 49.50,90.00 C48.83,85.83 46.42,82.50 46.00,80.00 C45.58,77.50 46.08,76.17 47.00,75.00 C47.92,73.83 49.58,73.00 51.50,73.00 C53.42,73.00 57.58,73.50 58.50,75.00 C59.42,76.50 57.33,79.17 57.00,82.00 C56.67,84.83 56.67,85.50 56.50,92.00 C56.33,98.50 56.08,116.17 56.00,121.00Z" fill="#7a7a7a" stroke="#d0d0d0" stroke-width="1.0"/>
<path d="M27.00,121.00 C26.92,117.50 26.83,106.50 26.50,100.00 C26.17,93.50 26.08,86.50 25.00,82.00 C23.92,77.50 21.33,75.58 20.00,73.00 C18.67,70.42 17.42,67.97 17.00,66.50 C16.58,65.03 16.00,64.58 17.50,64.20 C19.00,63.82 23.42,64.40 26.00,64.20 C28.58,64.00 30.33,63.00 33.00,63.00 C35.67,63.00 39.25,64.03 42.00,64.20 C44.75,64.37 48.10,63.70 49.50,64.00 C50.90,64.30 50.57,64.83 50.40,66.00 C50.23,67.17 49.45,69.33 48.50,71.00 C47.55,72.67 45.78,73.00 44.70,76.00 C43.62,79.00 42.70,84.17 42.00,89.00 C41.30,93.83 40.83,99.67 40.50,105.00 C40.17,110.33 40.08,118.33 40.00,121.00Z" fill="#8c8c8c" stroke="#e4e4e4" stroke-width="1.15"/>
<path d="M20.60,-3.00 C20.53,-0.83 20.52,5.83 20.20,10.00 C19.88,14.17 19.30,18.67 18.70,22.00 C18.10,25.33 17.72,28.00 16.60,30.00 C15.48,32.00 13.18,32.33 12.00,34.00 C10.82,35.67 9.92,37.67 9.50,40.00 C9.08,42.33 9.25,45.72 9.50,48.00 C9.75,50.28 10.33,52.03 11.00,53.70 C11.67,55.37 12.57,56.82 13.50,58.00 C14.43,59.18 14.52,60.20 16.60,60.80 C18.68,61.40 23.60,61.90 26.00,61.60 C28.40,61.30 29.50,59.47 31.00,59.00 C32.50,58.53 33.50,58.63 35.00,58.80 C36.50,58.97 37.92,59.72 40.00,60.00 C42.08,60.28 45.83,61.00 47.50,60.50 C49.17,60.00 49.52,58.13 50.00,57.00 C50.48,55.87 50.48,55.53 50.40,53.70 C50.32,51.87 50.23,48.45 49.50,46.00 C48.77,43.55 47.50,41.33 46.00,39.00 C44.50,36.67 41.87,34.33 40.50,32.00 C39.13,29.67 38.42,28.67 37.80,25.00 C37.18,21.33 37.02,14.67 36.80,10.00 C36.58,5.33 36.55,-0.83 36.50,-3.00Z" fill="#a4a4a4" stroke="#e8e8e8" stroke-width="1.15"/>
</g>
<g clip-path="url(#xbc3)">
<ellipse cx="40" cy="50" rx="7" ry="7" fill="#fff" opacity="0.1" filter="url(#xb3)"/>
<ellipse cx="31" cy="52" rx="4" ry="6" fill="#fff" opacity="0.25" filter="url(#xb3)"/>
<ellipse cx="28.55" cy="6" rx="4.45" ry="32" fill="#000" opacity="0.22" filter="url(#xb3)"/>
<ellipse cx="33.50" cy="118" rx="3.50" ry="30" fill="#000" opacity="0.18" filter="url(#xb3)"/>
<rect x="0" y="0" width="68.0" height="118.2" fill="#fff" opacity="0.22" filter="url(#xnoise)"/>
</g>
<path d="M17.00,62.00 C18.50,62.03 23.50,62.62 26.00,62.20 C28.50,61.78 29.83,59.87 32.00,59.50 C34.17,59.13 36.33,59.75 39.00,60.00 C41.67,60.25 46.50,60.83 48.00,61.00" fill="none" stroke="#505050" stroke-width="1.4" opacity="0.85" filter="url(#xb)"/>
<path d="M18.00,64.50 C19.67,64.52 25.00,64.77 28.00,64.60 C31.00,64.43 32.67,63.52 36.00,63.50 C39.33,63.48 46.00,64.33 48.00,64.50" fill="none" stroke="#e6e6e6" stroke-width="1.0" opacity="0.8" filter="url(#xb)"/>
<circle cx="21" cy="41" r="10.5" fill="#f2f2f2" opacity="0.72" filter="url(#xb5)"/>
</g></g>
<defs><linearGradient id="xg4" x1="0" y1="0" x2="1" y2="0"><stop offset="0" stop-color="#505050"/><stop offset="0.2" stop-color="#686868"/><stop offset="0.5" stop-color="#6e6e6e"/><stop offset="0.8" stop-color="#606060"/><stop offset="1" stop-color="#4a4a4a"/></linearGradient><clipPath id="xc4"><rect x="0" y="0" width="68.0" height="118.2"/></clipPath><clipPath id="xbc4"><path d="M26.20,-3.00 C26.03,-0.83 25.87,5.83 25.20,10.00 C24.53,14.17 23.57,18.67 22.20,22.00 C20.83,25.33 18.87,27.33 17.00,30.00 C15.13,32.67 12.75,35.67 11.00,38.00 C9.25,40.33 7.50,42.00 6.50,44.00 C5.50,46.00 5.20,47.92 5.00,50.00 C4.80,52.08 5.05,54.67 5.30,56.50 C5.55,58.33 5.90,59.58 6.50,61.00 C7.10,62.42 6.65,64.30 8.90,65.00 C11.15,65.70 16.82,65.53 20.00,65.20 C23.18,64.87 25.67,63.45 28.00,63.00 C30.33,62.55 31.67,62.33 34.00,62.50 C36.33,62.67 38.67,63.65 42.00,64.00 C45.33,64.35 51.97,65.27 54.00,64.60 C56.03,63.93 54.37,61.35 54.20,60.00 C54.03,58.65 53.37,58.50 53.00,56.50 C52.63,54.50 52.33,50.08 52.00,48.00 C51.67,45.92 52.00,45.83 51.00,44.00 C50.00,42.17 47.28,38.90 46.00,37.00 C44.72,35.10 44.08,36.27 43.30,32.60 C42.52,28.93 41.72,20.93 41.30,15.00 C40.88,9.07 40.88,0.00 40.80,-3.00Z"/><path d="M23.60,121.00 C23.42,117.50 23.20,105.58 22.50,100.00 C21.80,94.42 20.82,91.17 19.40,87.50 C17.98,83.83 15.63,80.92 14.00,78.00 C12.37,75.08 10.30,71.83 9.60,70.00 C8.90,68.17 8.07,67.42 9.80,67.00 C11.53,66.58 16.63,67.53 20.00,67.50 C23.37,67.47 26.33,66.83 30.00,66.80 C33.67,66.77 37.83,67.18 42.00,67.30 C46.17,67.42 52.67,67.22 55.00,67.50 C57.33,67.78 56.00,68.17 56.00,69.00 C56.00,69.83 55.50,71.33 55.00,72.50 C54.50,73.67 54.33,74.08 53.00,76.00 C51.67,77.92 48.62,81.83 47.00,84.00 C45.38,86.17 44.38,86.00 43.30,89.00 C42.22,92.00 41.22,96.67 40.50,102.00 C39.78,107.33 39.25,117.83 39.00,121.00Z"/><path d="M47.50,121.00 C47.58,118.33 47.67,109.83 48.00,105.00 C48.33,100.17 49.25,95.50 49.50,92.00 C49.75,88.50 49.17,86.50 49.50,84.00 C49.83,81.50 50.42,78.25 51.50,77.00 C52.58,75.75 54.57,75.92 56.00,76.50 C57.43,77.08 59.68,78.58 60.10,80.50 C60.52,82.42 59.27,85.25 58.50,88.00 C57.73,90.75 56.15,91.50 55.50,97.00 C54.85,102.50 54.75,117.00 54.60,121.00Z"/></clipPath></defs>
<g transform="translate(351.0,304.4)"><g clip-path="url(#xc4)">
<rect x="0" y="0" width="68.0" height="118.2" fill="url(#xg4)"/>
<rect x="0" y="0" width="68.0" height="118.2" fill="#fff" opacity="0.08" filter="url(#xnoise2)"/>
<ellipse cx="10" cy="40" rx="6" ry="40" fill="#fff" opacity="0.08" filter="url(#xb4)"/>
<g filter="url(#xb)" opacity="0.92">
<path d="M47.50,121.00 C47.58,118.33 47.67,109.83 48.00,105.00 C48.33,100.17 49.25,95.50 49.50,92.00 C49.75,88.50 49.17,86.50 49.50,84.00 C49.83,81.50 50.42,78.25 51.50,77.00 C52.58,75.75 54.57,75.92 56.00,76.50 C57.43,77.08 59.68,78.58 60.10,80.50 C60.52,82.42 59.27,85.25 58.50,88.00 C57.73,90.75 56.15,91.50 55.50,97.00 C54.85,102.50 54.75,117.00 54.60,121.00Z" fill="#9c9c9c" stroke="#d0d0d0" stroke-width="1.0"/>
<path d="M23.60,121.00 C23.42,117.50 23.20,105.58 22.50,100.00 C21.80,94.42 20.82,91.17 19.40,87.50 C17.98,83.83 15.63,80.92 14.00,78.00 C12.37,75.08 10.30,71.83 9.60,70.00 C8.90,68.17 8.07,67.42 9.80,67.00 C11.53,66.58 16.63,67.53 20.00,67.50 C23.37,67.47 26.33,66.83 30.00,66.80 C33.67,66.77 37.83,67.18 42.00,67.30 C46.17,67.42 52.67,67.22 55.00,67.50 C57.33,67.78 56.00,68.17 56.00,69.00 C56.00,69.83 55.50,71.33 55.00,72.50 C54.50,73.67 54.33,74.08 53.00,76.00 C51.67,77.92 48.62,81.83 47.00,84.00 C45.38,86.17 44.38,86.00 43.30,89.00 C42.22,92.00 41.22,96.67 40.50,102.00 C39.78,107.33 39.25,117.83 39.00,121.00Z" fill="#b0b0b0" stroke="#e4e4e4" stroke-width="1.15"/>
<path d="M26.20,-3.00 C26.03,-0.83 25.87,5.83 25.20,10.00 C24.53,14.17 23.57,18.67 22.20,22.00 C20.83,25.33 18.87,27.33 17.00,30.00 C15.13,32.67 12.75,35.67 11.00,38.00 C9.25,40.33 7.50,42.00 6.50,44.00 C5.50,46.00 5.20,47.92 5.00,50.00 C4.80,52.08 5.05,54.67 5.30,56.50 C5.55,58.33 5.90,59.58 6.50,61.00 C7.10,62.42 6.65,64.30 8.90,65.00 C11.15,65.70 16.82,65.53 20.00,65.20 C23.18,64.87 25.67,63.45 28.00,63.00 C30.33,62.55 31.67,62.33 34.00,62.50 C36.33,62.67 38.67,63.65 42.00,64.00 C45.33,64.35 51.97,65.27 54.00,64.60 C56.03,63.93 54.37,61.35 54.20,60.00 C54.03,58.65 53.37,58.50 53.00,56.50 C52.63,54.50 52.33,50.08 52.00,48.00 C51.67,45.92 52.00,45.83 51.00,44.00 C50.00,42.17 47.28,38.90 46.00,37.00 C44.72,35.10 44.08,36.27 43.30,32.60 C42.52,28.93 41.72,20.93 41.30,15.00 C40.88,9.07 40.88,0.00 40.80,-3.00Z" fill="#bcbcbc" stroke="#e8e8e8" stroke-width="1.15"/>
</g>
<g clip-path="url(#xbc4)">
<ellipse cx="28" cy="52" rx="9" ry="6" fill="#fff" opacity="0.12" filter="url(#xb3)"/>
<ellipse cx="42" cy="54" rx="6" ry="5" fill="#fff" opacity="0.1" filter="url(#xb3)"/>
<ellipse cx="12" cy="55" rx="4" ry="6" fill="#fff" opacity="0.12" filter="url(#xb3)"/>
<ellipse cx="33.50" cy="6" rx="3.80" ry="32" fill="#000" opacity="0.22" filter="url(#xb3)"/>
<ellipse cx="31.30" cy="118" rx="4.70" ry="30" fill="#000" opacity="0.18" filter="url(#xb3)"/>
<rect x="0" y="0" width="68.0" height="118.2" fill="#fff" opacity="0.22" filter="url(#xnoise)"/>
</g>
<path d="M9.00,65.50 C10.83,65.47 16.50,65.68 20.00,65.30 C23.50,64.92 26.67,63.42 30.00,63.20 C33.33,62.98 36.00,63.70 40.00,64.00 C44.00,64.30 51.67,64.83 54.00,65.00" fill="none" stroke="#505050" stroke-width="1.4" opacity="0.85" filter="url(#xb)"/>
<path d="M10.00,67.60 C12.33,67.67 20.00,68.10 24.00,68.00 C28.00,67.90 30.33,67.08 34.00,67.00 C37.67,66.92 42.33,67.30 46.00,67.50 C49.67,67.70 54.33,68.08 56.00,68.20" fill="none" stroke="#e6e6e6" stroke-width="1.0" opacity="0.8" filter="url(#xb)"/>
</g></g>
<text x="123.20" y="271.10" font-size="11.4" text-anchor="middle" font-weight="normal" fill="#111" >Mild</text>
<text x="273.50" y="269.70" font-size="11.4" text-anchor="middle" font-weight="normal" fill="#111" >Middle</text>
<text x="386.20" y="269.70" font-size="11.4" text-anchor="middle" font-weight="normal" fill="#111" >Severe</text>
<line x1="61" y1="280.5" x2="186.6" y2="280.5" stroke="#2a1a1a" stroke-width="1.4"/>
<line x1="211.7" y1="280.5" x2="337.3" y2="280.5" stroke="#2a1a1a" stroke-width="1.4"/>
<line x1="355" y1="280.5" x2="415" y2="280.5" stroke="#2a1a1a" stroke-width="1.4"/>
<text x="89.30" y="296.80" font-size="11.8" text-anchor="middle" font-weight="normal" fill="#111" >Normal</text>
<text x="164.20" y="296.80" font-size="11.8" text-anchor="middle" font-weight="normal" fill="#111" >I</text>
<text x="239.40" y="296.80" font-size="11.8" text-anchor="middle" font-weight="normal" fill="#111" >II</text>
<text x="314.20" y="296.80" font-size="11.8" text-anchor="middle" font-weight="normal" fill="#111" >III</text>
<text x="385.60" y="296.80" font-size="11.8" text-anchor="middle" font-weight="normal" fill="#111" >IV</text>
<line x1="520.7" y1="284.00" x2="520.7" y2="408.50" stroke="#000" stroke-width="1.25"/>
<line x1="520.2" y1="408.29999999999995" x2="626" y2="408.29999999999995" stroke="#000" stroke-width="1.3"/>
<line x1="517.7" y1="407.90" x2="520.7" y2="407.90" stroke="#000" stroke-width="1.1"/>
<text x="515.10" y="411.20" font-size="9.4" text-anchor="end" font-weight="normal" fill="#111" >0</text>
<line x1="517.7" y1="377.05" x2="520.7" y2="377.05" stroke="#000" stroke-width="1.1"/>
<text x="515.10" y="380.35" font-size="9.4" text-anchor="end" font-weight="normal" fill="#111" >1</text>
<line x1="517.7" y1="346.20" x2="520.7" y2="346.20" stroke="#000" stroke-width="1.1"/>
<text x="515.10" y="349.50" font-size="9.4" text-anchor="end" font-weight="normal" fill="#111" >2</text>
<line x1="517.7" y1="315.35" x2="520.7" y2="315.35" stroke="#000" stroke-width="1.1"/>
<text x="515.10" y="318.65" font-size="9.4" text-anchor="end" font-weight="normal" fill="#111" >3</text>
<line x1="517.7" y1="284.50" x2="520.7" y2="284.50" stroke="#000" stroke-width="1.1"/>
<text x="515.10" y="287.80" font-size="9.4" text-anchor="end" font-weight="normal" fill="#111" >4</text>
<rect x="531.5" y="369.95" width="22.399999999999977" height="37.95" fill="#a8a8a8"/>
<line x1="542.7" y1="407.9" x2="542.7" y2="412.4" stroke="#000" stroke-width="1.2"/>
<circle cx="550.94" cy="369.95" r="1.3" fill="#fff" stroke="#1a1a1a" stroke-width="0.7"/>
<circle cx="543.79" cy="365.79" r="1.3" fill="#fff" stroke="#1a1a1a" stroke-width="0.7"/>
<circle cx="545.55" cy="370.14" r="1.3" fill="#fff" stroke="#1a1a1a" stroke-width="0.7"/>
<circle cx="541.13" cy="365.12" r="1.3" fill="#fff" stroke="#1a1a1a" stroke-width="0.7"/>
<circle cx="533.64" cy="368.94" r="1.3" fill="#fff" stroke="#1a1a1a" stroke-width="0.7"/>
<circle cx="549.20" cy="365.05" r="1.3" fill="#fff" stroke="#1a1a1a" stroke-width="0.7"/>
<circle cx="547.94" cy="371.21" r="1.3" fill="#fff" stroke="#1a1a1a" stroke-width="0.7"/>
<circle cx="546.20" cy="365.76" r="1.3" fill="#fff" stroke="#1a1a1a" stroke-width="0.7"/>
<circle cx="544.49" cy="372.39" r="1.3" fill="#fff" stroke="#1a1a1a" stroke-width="0.7"/>
<circle cx="541.36" cy="369.79" r="1.3" fill="#fff" stroke="#1a1a1a" stroke-width="0.7"/>
<circle cx="548.59" cy="374.96" r="1.3" fill="#fff" stroke="#1a1a1a" stroke-width="0.7"/>
<circle cx="536.70" cy="376.20" r="1.3" fill="#fff" stroke="#1a1a1a" stroke-width="0.7"/>
<circle cx="535.80" cy="365.66" r="1.3" fill="#fff" stroke="#1a1a1a" stroke-width="0.7"/>
<circle cx="543.81" cy="377.66" r="1.3" fill="#fff" stroke="#1a1a1a" stroke-width="0.7"/>
<circle cx="536.54" cy="370.21" r="1.3" fill="#fff" stroke="#1a1a1a" stroke-width="0.7"/>
<circle cx="546.75" cy="373.53" r="1.3" fill="#fff" stroke="#1a1a1a" stroke-width="0.7"/>
<circle cx="551.90" cy="372.60" r="1.3" fill="#fff" stroke="#1a1a1a" stroke-width="0.7"/>
<circle cx="538.74" cy="366.30" r="1.3" fill="#fff" stroke="#1a1a1a" stroke-width="0.7"/>
<circle cx="538.05" cy="378.33" r="1.3" fill="#fff" stroke="#1a1a1a" stroke-width="0.7"/>
<circle cx="540.14" cy="376.84" r="1.3" fill="#fff" stroke="#1a1a1a" stroke-width="0.7"/>
<circle cx="545.57" cy="375.52" r="1.3" fill="#fff" stroke="#1a1a1a" stroke-width="0.7"/>
<circle cx="550.68" cy="366.93" r="1.3" fill="#fff" stroke="#1a1a1a" stroke-width="0.7"/>
<circle cx="537.91" cy="367.16" r="1.3" fill="#fff" stroke="#1a1a1a" stroke-width="0.7"/>
<circle cx="544.94" cy="367.78" r="1.3" fill="#fff" stroke="#1a1a1a" stroke-width="0.7"/>
<circle cx="548.11" cy="367.28" r="1.3" fill="#fff" stroke="#1a1a1a" stroke-width="0.7"/>
<circle cx="546.98" cy="377.85" r="1.3" fill="#fff" stroke="#1a1a1a" stroke-width="0.7"/>
<circle cx="539.03" cy="368.22" r="1.3" fill="#fff" stroke="#1a1a1a" stroke-width="0.7"/>
<circle cx="541.59" cy="367.41" r="1.3" fill="#fff" stroke="#1a1a1a" stroke-width="0.7"/>
<circle cx="542.46" cy="374.02" r="1.3" fill="#fff" stroke="#1a1a1a" stroke-width="0.7"/>
<circle cx="541.76" cy="346.20" r="1.3" fill="#fff" stroke="#1a1a1a" stroke-width="0.7"/>
<circle cx="544.96" cy="362.27" r="1.3" fill="#fff" stroke="#1a1a1a" stroke-width="0.7"/>
<circle cx="532.71" cy="371.37" r="1.3" fill="#fff" stroke="#1a1a1a" stroke-width="0.7"/>
<circle cx="538.91" cy="371.13" r="1.3" fill="#fff" stroke="#1a1a1a" stroke-width="0.7"/>
<circle cx="552.43" cy="368.42" r="1.3" fill="#fff" stroke="#1a1a1a" stroke-width="0.7"/>
<circle cx="542.18" cy="372.39" r="1.3" fill="#fff" stroke="#1a1a1a" stroke-width="0.7"/>
<circle cx="538.40" cy="376.16" r="1.3" fill="#fff" stroke="#1a1a1a" stroke-width="0.7"/>
<circle cx="541.60" cy="364.25" r="1.3" fill="#fff" stroke="#1a1a1a" stroke-width="0.7"/>
<circle cx="538.06" cy="377.82" r="1.3" fill="#fff" stroke="#1a1a1a" stroke-width="0.7"/>
<circle cx="543.87" cy="377.30" r="1.3" fill="#fff" stroke="#1a1a1a" stroke-width="0.7"/>
<circle cx="546.38" cy="369.40" r="1.3" fill="#fff" stroke="#1a1a1a" stroke-width="0.7"/>
<circle cx="541.71" cy="378.61" r="1.3" fill="#fff" stroke="#1a1a1a" stroke-width="0.7"/>
<circle cx="547.45" cy="367.20" r="1.3" fill="#fff" stroke="#1a1a1a" stroke-width="0.7"/>
<circle cx="538.05" cy="363.77" r="1.3" fill="#fff" stroke="#1a1a1a" stroke-width="0.7"/>
<circle cx="546.38" cy="365.73" r="1.3" fill="#fff" stroke="#1a1a1a" stroke-width="0.7"/>
<circle cx="541.78" cy="368.37" r="1.3" fill="#fff" stroke="#1a1a1a" stroke-width="0.7"/>
<circle cx="541.83" cy="359.16" r="1.3" fill="#fff" stroke="#1a1a1a" stroke-width="0.7"/>
<circle cx="542.91" cy="384.76" r="1.3" fill="#fff" stroke="#1a1a1a" stroke-width="0.7"/>
<circle cx="538.51" cy="367.18" r="1.3" fill="#fff" stroke="#1a1a1a" stroke-width="0.7"/>
<circle cx="546.11" cy="369.45" r="1.3" fill="#fff" stroke="#1a1a1a" stroke-width="0.7"/>
<circle cx="536.46" cy="372.69" r="1.3" fill="#fff" stroke="#1a1a1a" stroke-width="0.7"/>
<circle cx="540.73" cy="365.64" r="1.3" fill="#fff" stroke="#1a1a1a" stroke-width="0.7"/>
<circle cx="548.11" cy="371.53" r="1.3" fill="#fff" stroke="#1a1a1a" stroke-width="0.7"/>
<circle cx="543.51" cy="352.37" r="1.3" fill="#fff" stroke="#1a1a1a" stroke-width="0.7"/>
<circle cx="551.59" cy="370.34" r="1.3" fill="#fff" stroke="#1a1a1a" stroke-width="0.7"/>
<circle cx="534.13" cy="374.04" r="1.3" fill="#fff" stroke="#1a1a1a" stroke-width="0.7"/>
<circle cx="537.22" cy="371.47" r="1.3" fill="#fff" stroke="#1a1a1a" stroke-width="0.7"/>
<circle cx="539.63" cy="366.72" r="1.3" fill="#fff" stroke="#1a1a1a" stroke-width="0.7"/>
<circle cx="550.38" cy="374.52" r="1.3" fill="#fff" stroke="#1a1a1a" stroke-width="0.7"/>
<circle cx="543.93" cy="367.61" r="1.3" fill="#fff" stroke="#1a1a1a" stroke-width="0.7"/>
<circle cx="545.03" cy="365.03" r="1.3" fill="#fff" stroke="#1a1a1a" stroke-width="0.7"/>
<circle cx="545.14" cy="365.88" r="1.3" fill="#fff" stroke="#1a1a1a" stroke-width="0.7"/>
<circle cx="544.81" cy="366.46" r="1.3" fill="#fff" stroke="#1a1a1a" stroke-width="0.7"/>
<circle cx="536.82" cy="371.78" r="1.3" fill="#fff" stroke="#1a1a1a" stroke-width="0.7"/>
<circle cx="544.22" cy="369.60" r="1.3" fill="#fff" stroke="#1a1a1a" stroke-width="0.7"/>
<circle cx="538.84" cy="368.92" r="1.3" fill="#fff" stroke="#1a1a1a" stroke-width="0.7"/>
<circle cx="541.07" cy="368.39" r="1.3" fill="#fff" stroke="#1a1a1a" stroke-width="0.7"/>
<circle cx="538.61" cy="373.57" r="1.3" fill="#fff" stroke="#1a1a1a" stroke-width="0.7"/>
<circle cx="551.29" cy="375.00" r="1.3" fill="#fff" stroke="#1a1a1a" stroke-width="0.7"/>
<circle cx="545.93" cy="367.97" r="1.3" fill="#fff" stroke="#1a1a1a" stroke-width="0.7"/>
<circle cx="551.83" cy="370.87" r="1.3" fill="#fff" stroke="#1a1a1a" stroke-width="0.7"/>
<circle cx="547.49" cy="366.85" r="1.3" fill="#fff" stroke="#1a1a1a" stroke-width="0.7"/>
<circle cx="538.11" cy="366.83" r="1.3" fill="#fff" stroke="#1a1a1a" stroke-width="0.7"/>
<circle cx="539.66" cy="362.95" r="1.3" fill="#fff" stroke="#1a1a1a" stroke-width="0.7"/>
<circle cx="541.05" cy="375.14" r="1.3" fill="#fff" stroke="#1a1a1a" stroke-width="0.7"/>
<circle cx="538.75" cy="365.13" r="1.3" fill="#fff" stroke="#1a1a1a" stroke-width="0.7"/>
<circle cx="540.10" cy="380.27" r="1.3" fill="#fff" stroke="#1a1a1a" stroke-width="0.7"/>
<circle cx="533.12" cy="372.86" r="1.3" fill="#fff" stroke="#1a1a1a" stroke-width="0.7"/>
<circle cx="542.23" cy="381.68" r="1.3" fill="#fff" stroke="#1a1a1a" stroke-width="0.7"/>
<circle cx="533.96" cy="367.22" r="1.3" fill="#fff" stroke="#1a1a1a" stroke-width="0.7"/>
<circle cx="538.74" cy="377.26" r="1.3" fill="#fff" stroke="#1a1a1a" stroke-width="0.7"/>
<circle cx="537.57" cy="368.90" r="1.3" fill="#fff" stroke="#1a1a1a" stroke-width="0.7"/>
<circle cx="535.63" cy="370.87" r="1.3" fill="#fff" stroke="#1a1a1a" stroke-width="0.7"/>
<circle cx="542.49" cy="371.22" r="1.3" fill="#fff" stroke="#1a1a1a" stroke-width="0.7"/>
<circle cx="546.83" cy="365.36" r="1.3" fill="#fff" stroke="#1a1a1a" stroke-width="0.7"/>
<circle cx="545.96" cy="374.97" r="1.3" fill="#fff" stroke="#1a1a1a" stroke-width="0.7"/>
<circle cx="551.18" cy="374.87" r="1.3" fill="#fff" stroke="#1a1a1a" stroke-width="0.7"/>
<circle cx="533.10" cy="370.12" r="1.3" fill="#fff" stroke="#1a1a1a" stroke-width="0.7"/>
<circle cx="539.51" cy="369.92" r="1.3" fill="#fff" stroke="#1a1a1a" stroke-width="0.7"/>
<circle cx="540.14" cy="370.57" r="1.3" fill="#fff" stroke="#1a1a1a" stroke-width="0.7"/>
<circle cx="543.52" cy="372.32" r="1.3" fill="#fff" stroke="#1a1a1a" stroke-width="0.7"/>
<circle cx="545.36" cy="370.38" r="1.3" fill="#fff" stroke="#1a1a1a" stroke-width="0.7"/>
<circle cx="548.06" cy="369.78" r="1.3" fill="#fff" stroke="#1a1a1a" stroke-width="0.7"/>
<circle cx="538.86" cy="366.80" r="1.3" fill="#fff" stroke="#1a1a1a" stroke-width="0.7"/>
<circle cx="534.80" cy="367.25" r="1.3" fill="#fff" stroke="#1a1a1a" stroke-width="0.7"/>
<circle cx="553.84" cy="369.76" r="1.3" fill="#fff" stroke="#1a1a1a" stroke-width="0.7"/>
<circle cx="548.27" cy="371.41" r="1.3" fill="#fff" stroke="#1a1a1a" stroke-width="0.7"/>
<circle cx="539.86" cy="369.92" r="1.3" fill="#fff" stroke="#1a1a1a" stroke-width="0.7"/>
<circle cx="539.08" cy="376.85" r="1.3" fill="#fff" stroke="#1a1a1a" stroke-width="0.7"/>
<circle cx="534.98" cy="367.92" r="1.3" fill="#fff" stroke="#1a1a1a" stroke-width="0.7"/>
<circle cx="545.73" cy="362.84" r="1.3" fill="#fff" stroke="#1a1a1a" stroke-width="0.7"/>
<circle cx="552.25" cy="372.96" r="1.3" fill="#fff" stroke="#1a1a1a" stroke-width="0.7"/>
<line x1="542.7" y1="375.95" x2="542.7" y2="364.09" stroke="#111" stroke-width="1.6"/>
<line x1="536.7" y1="364.09" x2="548.7" y2="364.09" stroke="#111" stroke-width="1.7"/>
<text transform="translate(545.00,419.09999999999997) rotate(-45)" font-size="9.9" text-anchor="end" fill="#111">Mild</text>
<rect x="561" y="362.55" width="22.799999999999955" height="45.35" fill="#1f3f73"/>
<line x1="572.4" y1="407.9" x2="572.4" y2="412.4" stroke="#000" stroke-width="1.2"/>
<circle cx="573.99" cy="350.83" r="1.3" fill="#fff" stroke="#1a1a1a" stroke-width="0.7"/>
<circle cx="580.47" cy="364.66" r="1.3" fill="#fff" stroke="#1a1a1a" stroke-width="0.7"/>
<circle cx="568.42" cy="366.13" r="1.3" fill="#fff" stroke="#1a1a1a" stroke-width="0.7"/>
<circle cx="577.35" cy="355.68" r="1.3" fill="#fff" stroke="#1a1a1a" stroke-width="0.7"/>
<circle cx="578.63" cy="357.84" r="1.3" fill="#fff" stroke="#1a1a1a" stroke-width="0.7"/>
<circle cx="573.62" cy="360.99" r="1.3" fill="#fff" stroke="#1a1a1a" stroke-width="0.7"/>
<circle cx="562.06" cy="364.49" r="1.3" fill="#fff" stroke="#1a1a1a" stroke-width="0.7"/>
<circle cx="579.09" cy="360.62" r="1.3" fill="#fff" stroke="#1a1a1a" stroke-width="0.7"/>
<circle cx="571.03" cy="349.28" r="1.3" fill="#fff" stroke="#1a1a1a" stroke-width="0.7"/>
<circle cx="569.68" cy="353.18" r="1.3" fill="#fff" stroke="#1a1a1a" stroke-width="0.7"/>
<circle cx="580.96" cy="358.09" r="1.3" fill="#fff" stroke="#1a1a1a" stroke-width="0.7"/>
<circle cx="561.57" cy="361.92" r="1.3" fill="#fff" stroke="#1a1a1a" stroke-width="0.7"/>
<circle cx="569.92" cy="358.39" r="1.3" fill="#fff" stroke="#1a1a1a" stroke-width="0.7"/>
<circle cx="572.37" cy="368.42" r="1.3" fill="#fff" stroke="#1a1a1a" stroke-width="0.7"/>
<circle cx="572.27" cy="353.75" r="1.3" fill="#fff" stroke="#1a1a1a" stroke-width="0.7"/>
<circle cx="570.06" cy="371.74" r="1.3" fill="#fff" stroke="#1a1a1a" stroke-width="0.7"/>
<circle cx="573.52" cy="350.93" r="1.3" fill="#fff" stroke="#1a1a1a" stroke-width="0.7"/>
<circle cx="575.99" cy="352.18" r="1.3" fill="#fff" stroke="#1a1a1a" stroke-width="0.7"/>
<circle cx="573.75" cy="356.31" r="1.3" fill="#fff" stroke="#1a1a1a" stroke-width="0.7"/>
<circle cx="573.25" cy="372.62" r="1.3" fill="#fff" stroke="#1a1a1a" stroke-width="0.7"/>
<circle cx="576.46" cy="370.60" r="1.3" fill="#fff" stroke="#1a1a1a" stroke-width="0.7"/>
<circle cx="575.02" cy="366.71" r="1.3" fill="#fff" stroke="#1a1a1a" stroke-width="0.7"/>
<circle cx="575.24" cy="358.76" r="1.3" fill="#fff" stroke="#1a1a1a" stroke-width="0.7"/>
<circle cx="566.49" cy="370.60" r="1.3" fill="#fff" stroke="#1a1a1a" stroke-width="0.7"/>
<circle cx="576.61" cy="364.30" r="1.3" fill="#fff" stroke="#1a1a1a" stroke-width="0.7"/>
<circle cx="583.37" cy="364.65" r="1.3" fill="#fff" stroke="#1a1a1a" stroke-width="0.7"/>
<circle cx="566.50" cy="357.38" r="1.3" fill="#fff" stroke="#1a1a1a" stroke-width="0.7"/>
<circle cx="568.91" cy="357.02" r="1.3" fill="#fff" stroke="#1a1a1a" stroke-width="0.7"/>
<circle cx="564.17" cy="365.65" r="1.3" fill="#fff" stroke="#1a1a1a" stroke-width="0.7"/>
<circle cx="574.40" cy="363.33" r="1.3" fill="#fff" stroke="#1a1a1a" stroke-width="0.7"/>
<circle cx="570.23" cy="369.32" r="1.3" fill="#fff" stroke="#1a1a1a" stroke-width="0.7"/>
<circle cx="579.47" cy="368.47" r="1.3" fill="#fff" stroke="#1a1a1a" stroke-width="0.7"/>
<circle cx="581.73" cy="361.59" r="1.3" fill="#fff" stroke="#1a1a1a" stroke-width="0.7"/>
<circle cx="574.16" cy="370.21" r="1.3" fill="#fff" stroke="#1a1a1a" stroke-width="0.7"/>
<circle cx="563.84" cy="358.64" r="1.3" fill="#fff" stroke="#1a1a1a" stroke-width="0.7"/>
<circle cx="572.95" cy="365.66" r="1.3" fill="#fff" stroke="#1a1a1a" stroke-width="0.7"/>
<circle cx="564.75" cy="362.10" r="1.3" fill="#fff" stroke="#1a1a1a" stroke-width="0.7"/>
<circle cx="566.76" cy="359.99" r="1.3" fill="#fff" stroke="#1a1a1a" stroke-width="0.7"/>
<circle cx="568.99" cy="352.55" r="1.3" fill="#fff" stroke="#1a1a1a" stroke-width="0.7"/>
<circle cx="566.19" cy="366.76" r="1.3" fill="#fff" stroke="#1a1a1a" stroke-width="0.7"/>
<circle cx="573.24" cy="344.66" r="1.3" fill="#fff" stroke="#1a1a1a" stroke-width="0.7"/>
<circle cx="573.05" cy="356.11" r="1.3" fill="#fff" stroke="#1a1a1a" stroke-width="0.7"/>
<circle cx="577.69" cy="366.52" r="1.3" fill="#fff" stroke="#1a1a1a" stroke-width="0.7"/>
<circle cx="565.68" cy="369.53" r="1.3" fill="#fff" stroke="#1a1a1a" stroke-width="0.7"/>
<circle cx="566.79" cy="364.49" r="1.3" fill="#fff" stroke="#1a1a1a" stroke-width="0.7"/>
<circle cx="581.14" cy="365.03" r="1.3" fill="#fff" stroke="#1a1a1a" stroke-width="0.7"/>
<circle cx="568.73" cy="363.12" r="1.3" fill="#fff" stroke="#1a1a1a" stroke-width="0.7"/>
<circle cx="576.90" cy="372.98" r="1.3" fill="#fff" stroke="#1a1a1a" stroke-width="0.7"/>
<circle cx="567.79" cy="367.59" r="1.3" fill="#fff" stroke="#1a1a1a" stroke-width="0.7"/>
<circle cx="582.86" cy="366.05" r="1.3" fill="#fff" stroke="#1a1a1a" stroke-width="0.7"/>
<circle cx="576.06" cy="365.97" r="1.3" fill="#fff" stroke="#1a1a1a" stroke-width="0.7"/>
<circle cx="568.40" cy="373.59" r="1.3" fill="#fff" stroke="#1a1a1a" stroke-width="0.7"/>
<circle cx="572.60" cy="358.59" r="1.3" fill="#fff" stroke="#1a1a1a" stroke-width="0.7"/>
<circle cx="569.41" cy="357.85" r="1.3" fill="#fff" stroke="#1a1a1a" stroke-width="0.7"/>
<circle cx="567.08" cy="355.15" r="1.3" fill="#fff" stroke="#1a1a1a" stroke-width="0.7"/>
<circle cx="573.18" cy="335.40" r="1.3" fill="#fff" stroke="#1a1a1a" stroke-width="0.7"/>
<circle cx="571.23" cy="363.31" r="1.3" fill="#fff" stroke="#1a1a1a" stroke-width="0.7"/>
<circle cx="578.78" cy="362.02" r="1.3" fill="#fff" stroke="#1a1a1a" stroke-width="0.7"/>
<circle cx="577.88" cy="362.71" r="1.3" fill="#fff" stroke="#1a1a1a" stroke-width="0.7"/>
<circle cx="572.36" cy="366.74" r="1.3" fill="#fff" stroke="#1a1a1a" stroke-width="0.7"/>
<circle cx="568.92" cy="354.03" r="1.3" fill="#fff" stroke="#1a1a1a" stroke-width="0.7"/>
<circle cx="572.40" cy="358.54" r="1.3" fill="#fff" stroke="#1a1a1a" stroke-width="0.7"/>
<circle cx="576.73" cy="367.42" r="1.3" fill="#fff" stroke="#1a1a1a" stroke-width="0.7"/>
<circle cx="576.75" cy="362.72" r="1.3" fill="#fff" stroke="#1a1a1a" stroke-width="0.7"/>
<circle cx="572.27" cy="355.63" r="1.3" fill="#fff" stroke="#1a1a1a" stroke-width="0.7"/>
<circle cx="569.95" cy="352.44" r="1.3" fill="#fff" stroke="#1a1a1a" stroke-width="0.7"/>
<circle cx="568.41" cy="357.83" r="1.3" fill="#fff" stroke="#1a1a1a" stroke-width="0.7"/>
<circle cx="572.12" cy="362.05" r="1.3" fill="#fff" stroke="#1a1a1a" stroke-width="0.7"/>
<circle cx="570.61" cy="353.26" r="1.3" fill="#fff" stroke="#1a1a1a" stroke-width="0.7"/>
<circle cx="572.68" cy="362.45" r="1.3" fill="#fff" stroke="#1a1a1a" stroke-width="0.7"/>
<circle cx="572.30" cy="379.21" r="1.3" fill="#fff" stroke="#1a1a1a" stroke-width="0.7"/>
<circle cx="566.49" cy="358.01" r="1.3" fill="#fff" stroke="#1a1a1a" stroke-width="0.7"/>
<circle cx="572.24" cy="362.28" r="1.3" fill="#fff" stroke="#1a1a1a" stroke-width="0.7"/>
<circle cx="572.97" cy="375.57" r="1.3" fill="#fff" stroke="#1a1a1a" stroke-width="0.7"/>
<circle cx="565.65" cy="368.56" r="1.3" fill="#fff" stroke="#1a1a1a" stroke-width="0.7"/>
<circle cx="562.25" cy="364.43" r="1.3" fill="#fff" stroke="#1a1a1a" stroke-width="0.7"/>
<circle cx="563.70" cy="359.91" r="1.3" fill="#fff" stroke="#1a1a1a" stroke-width="0.7"/>
<circle cx="569.01" cy="360.75" r="1.3" fill="#fff" stroke="#1a1a1a" stroke-width="0.7"/>
<circle cx="576.80" cy="358.70" r="1.3" fill="#fff" stroke="#1a1a1a" stroke-width="0.7"/>
<circle cx="573.97" cy="353.59" r="1.3" fill="#fff" stroke="#1a1a1a" stroke-width="0.7"/>
<circle cx="567.89" cy="360.95" r="1.3" fill="#fff" stroke="#1a1a1a" stroke-width="0.7"/>
<circle cx="572.48" cy="372.71" r="1.3" fill="#fff" stroke="#1a1a1a" stroke-width="0.7"/>
<circle cx="570.15" cy="359.68" r="1.3" fill="#fff" stroke="#1a1a1a" stroke-width="0.7"/>
<circle cx="564.67" cy="362.94" r="1.3" fill="#fff" stroke="#1a1a1a" stroke-width="0.7"/>
<circle cx="567.03" cy="359.28" r="1.3" fill="#fff" stroke="#1a1a1a" stroke-width="0.7"/>
<circle cx="579.74" cy="364.48" r="1.3" fill="#fff" stroke="#1a1a1a" stroke-width="0.7"/>
<circle cx="575.83" cy="363.94" r="1.3" fill="#fff" stroke="#1a1a1a" stroke-width="0.7"/>
<circle cx="575.24" cy="357.75" r="1.3" fill="#fff" stroke="#1a1a1a" stroke-width="0.7"/>
<circle cx="571.73" cy="364.16" r="1.3" fill="#fff" stroke="#1a1a1a" stroke-width="0.7"/>
<circle cx="577.07" cy="361.82" r="1.3" fill="#fff" stroke="#1a1a1a" stroke-width="0.7"/>
<circle cx="572.45" cy="322.45" r="1.3" fill="#fff" stroke="#1a1a1a" stroke-width="0.7"/>
<circle cx="567.62" cy="357.26" r="1.3" fill="#fff" stroke="#1a1a1a" stroke-width="0.7"/>
<circle cx="572.91" cy="356.61" r="1.3" fill="#fff" stroke="#1a1a1a" stroke-width="0.7"/>
<circle cx="567.42" cy="370.87" r="1.3" fill="#fff" stroke="#1a1a1a" stroke-width="0.7"/>
<circle cx="578.85" cy="364.27" r="1.3" fill="#fff" stroke="#1a1a1a" stroke-width="0.7"/>
<circle cx="573.34" cy="359.42" r="1.3" fill="#fff" stroke="#1a1a1a" stroke-width="0.7"/>
<circle cx="579.43" cy="357.24" r="1.3" fill="#fff" stroke="#1a1a1a" stroke-width="0.7"/>
<circle cx="575.85" cy="361.91" r="1.3" fill="#fff" stroke="#1a1a1a" stroke-width="0.7"/>
<circle cx="566.70" cy="355.53" r="1.3" fill="#fff" stroke="#1a1a1a" stroke-width="0.7"/>
<circle cx="570.62" cy="377.05" r="1.3" fill="#fff" stroke="#1a1a1a" stroke-width="0.7"/>
<circle cx="569.53" cy="372.60" r="1.3" fill="#fff" stroke="#1a1a1a" stroke-width="0.7"/>
<circle cx="576.23" cy="372.00" r="1.3" fill="#fff" stroke="#1a1a1a" stroke-width="0.7"/>
<circle cx="571.94" cy="366.90" r="1.3" fill="#fff" stroke="#1a1a1a" stroke-width="0.7"/>
<circle cx="576.10" cy="371.84" r="1.3" fill="#fff" stroke="#1a1a1a" stroke-width="0.7"/>
<circle cx="568.76" cy="371.54" r="1.3" fill="#fff" stroke="#1a1a1a" stroke-width="0.7"/>
<circle cx="567.01" cy="358.49" r="1.3" fill="#fff" stroke="#1a1a1a" stroke-width="0.7"/>
<circle cx="571.33" cy="346.82" r="1.3" fill="#fff" stroke="#1a1a1a" stroke-width="0.7"/>
<circle cx="569.26" cy="355.44" r="1.3" fill="#fff" stroke="#1a1a1a" stroke-width="0.7"/>
<circle cx="575.40" cy="359.03" r="1.3" fill="#fff" stroke="#1a1a1a" stroke-width="0.7"/>
<circle cx="572.87" cy="358.11" r="1.3" fill="#fff" stroke="#1a1a1a" stroke-width="0.7"/>
<circle cx="561.58" cy="361.75" r="1.3" fill="#fff" stroke="#1a1a1a" stroke-width="0.7"/>
<circle cx="565.04" cy="361.15" r="1.3" fill="#fff" stroke="#1a1a1a" stroke-width="0.7"/>
<circle cx="573.97" cy="366.06" r="1.3" fill="#fff" stroke="#1a1a1a" stroke-width="0.7"/>
<circle cx="570.64" cy="371.87" r="1.3" fill="#fff" stroke="#1a1a1a" stroke-width="0.7"/>
<circle cx="574.30" cy="351.47" r="1.3" fill="#fff" stroke="#1a1a1a" stroke-width="0.7"/>
<circle cx="573.46" cy="378.13" r="1.3" fill="#fff" stroke="#1a1a1a" stroke-width="0.7"/>
<circle cx="580.88" cy="367.69" r="1.3" fill="#fff" stroke="#1a1a1a" stroke-width="0.7"/>
<circle cx="567.05" cy="366.10" r="1.3" fill="#fff" stroke="#1a1a1a" stroke-width="0.7"/>
<circle cx="562.47" cy="362.36" r="1.3" fill="#fff" stroke="#1a1a1a" stroke-width="0.7"/>
<circle cx="569.06" cy="366.42" r="1.3" fill="#fff" stroke="#1a1a1a" stroke-width="0.7"/>
<circle cx="572.64" cy="352.74" r="1.3" fill="#fff" stroke="#1a1a1a" stroke-width="0.7"/>
<circle cx="573.32" cy="366.66" r="1.3" fill="#fff" stroke="#1a1a1a" stroke-width="0.7"/>
<circle cx="565.05" cy="365.25" r="1.3" fill="#fff" stroke="#1a1a1a" stroke-width="0.7"/>
<circle cx="563.18" cy="359.86" r="1.3" fill="#fff" stroke="#1a1a1a" stroke-width="0.7"/>
<circle cx="579.38" cy="365.06" r="1.3" fill="#fff" stroke="#1a1a1a" stroke-width="0.7"/>
<circle cx="562.42" cy="363.89" r="1.3" fill="#fff" stroke="#1a1a1a" stroke-width="0.7"/>
<circle cx="569.48" cy="368.90" r="1.3" fill="#fff" stroke="#1a1a1a" stroke-width="0.7"/>
<circle cx="576.34" cy="371.60" r="1.3" fill="#fff" stroke="#1a1a1a" stroke-width="0.7"/>
<circle cx="572.19" cy="370.06" r="1.3" fill="#fff" stroke="#1a1a1a" stroke-width="0.7"/>
<circle cx="568.43" cy="360.22" r="1.3" fill="#fff" stroke="#1a1a1a" stroke-width="0.7"/>
<circle cx="581.07" cy="363.20" r="1.3" fill="#fff" stroke="#1a1a1a" stroke-width="0.7"/>
<circle cx="576.58" cy="367.16" r="1.3" fill="#fff" stroke="#1a1a1a" stroke-width="0.7"/>
<circle cx="575.21" cy="357.55" r="1.3" fill="#fff" stroke="#1a1a1a" stroke-width="0.7"/>
<circle cx="563.76" cy="360.75" r="1.3" fill="#fff" stroke="#1a1a1a" stroke-width="0.7"/>
<circle cx="576.17" cy="372.08" r="1.3" fill="#fff" stroke="#1a1a1a" stroke-width="0.7"/>
<circle cx="569.25" cy="356.04" r="1.3" fill="#fff" stroke="#1a1a1a" stroke-width="0.7"/>
<circle cx="573.14" cy="367.55" r="1.3" fill="#fff" stroke="#1a1a1a" stroke-width="0.7"/>
<circle cx="574.27" cy="357.81" r="1.3" fill="#fff" stroke="#1a1a1a" stroke-width="0.7"/>
<circle cx="568.23" cy="353.94" r="1.3" fill="#fff" stroke="#1a1a1a" stroke-width="0.7"/>
<circle cx="564.71" cy="360.82" r="1.3" fill="#fff" stroke="#1a1a1a" stroke-width="0.7"/>
<circle cx="565.53" cy="365.80" r="1.3" fill="#fff" stroke="#1a1a1a" stroke-width="0.7"/>
<circle cx="568.53" cy="366.91" r="1.3" fill="#fff" stroke="#1a1a1a" stroke-width="0.7"/>
<circle cx="575.17" cy="354.93" r="1.3" fill="#fff" stroke="#1a1a1a" stroke-width="0.7"/>
<circle cx="577.24" cy="372.49" r="1.3" fill="#fff" stroke="#1a1a1a" stroke-width="0.7"/>
<line x1="572.4" y1="368.55" x2="572.4" y2="354.84" stroke="#111" stroke-width="1.6"/>
<line x1="566.4" y1="354.84" x2="578.4" y2="354.84" stroke="#111" stroke-width="1.7"/>
<text transform="translate(574.70,419.09999999999997) rotate(-45)" font-size="9.9" text-anchor="end" fill="#111">Middle</text>
<rect x="591" y="357.61" width="22.600000000000023" height="50.29" fill="#b35b5b"/>
<line x1="602.3" y1="407.9" x2="602.3" y2="412.4" stroke="#000" stroke-width="1.2"/>
<circle cx="596.43" cy="353.27" r="1.3" fill="#fff" stroke="#1a1a1a" stroke-width="0.7"/>
<circle cx="605.20" cy="371.66" r="1.3" fill="#fff" stroke="#1a1a1a" stroke-width="0.7"/>
<circle cx="607.79" cy="359.82" r="1.3" fill="#fff" stroke="#1a1a1a" stroke-width="0.7"/>
<circle cx="607.53" cy="350.47" r="1.3" fill="#fff" stroke="#1a1a1a" stroke-width="0.7"/>
<circle cx="603.45" cy="340.03" r="1.3" fill="#fff" stroke="#1a1a1a" stroke-width="0.7"/>
<circle cx="604.14" cy="348.66" r="1.3" fill="#fff" stroke="#1a1a1a" stroke-width="0.7"/>
<circle cx="593.21" cy="356.96" r="1.3" fill="#fff" stroke="#1a1a1a" stroke-width="0.7"/>
<circle cx="608.48" cy="367.05" r="1.3" fill="#fff" stroke="#1a1a1a" stroke-width="0.7"/>
<circle cx="593.73" cy="363.44" r="1.3" fill="#fff" stroke="#1a1a1a" stroke-width="0.7"/>
<circle cx="608.66" cy="354.76" r="1.3" fill="#fff" stroke="#1a1a1a" stroke-width="0.7"/>
<circle cx="596.62" cy="350.19" r="1.3" fill="#fff" stroke="#1a1a1a" stroke-width="0.7"/>
<circle cx="601.72" cy="336.02" r="1.3" fill="#fff" stroke="#1a1a1a" stroke-width="0.7"/>
<circle cx="600.77" cy="351.28" r="1.3" fill="#fff" stroke="#1a1a1a" stroke-width="0.7"/>
<circle cx="594.13" cy="353.74" r="1.3" fill="#fff" stroke="#1a1a1a" stroke-width="0.7"/>
<circle cx="599.71" cy="349.11" r="1.3" fill="#fff" stroke="#1a1a1a" stroke-width="0.7"/>
<circle cx="599.38" cy="359.79" r="1.3" fill="#fff" stroke="#1a1a1a" stroke-width="0.7"/>
<circle cx="611.01" cy="355.05" r="1.3" fill="#fff" stroke="#1a1a1a" stroke-width="0.7"/>
<circle cx="604.24" cy="351.82" r="1.3" fill="#fff" stroke="#1a1a1a" stroke-width="0.7"/>
<circle cx="612.32" cy="362.66" r="1.3" fill="#fff" stroke="#1a1a1a" stroke-width="0.7"/>
<circle cx="605.93" cy="355.58" r="1.3" fill="#fff" stroke="#1a1a1a" stroke-width="0.7"/>
<circle cx="604.80" cy="368.17" r="1.3" fill="#fff" stroke="#1a1a1a" stroke-width="0.7"/>
<circle cx="606.97" cy="368.99" r="1.3" fill="#fff" stroke="#1a1a1a" stroke-width="0.7"/>
<circle cx="602.75" cy="334.48" r="1.3" fill="#fff" stroke="#1a1a1a" stroke-width="0.7"/>
<circle cx="601.92" cy="355.61" r="1.3" fill="#fff" stroke="#1a1a1a" stroke-width="0.7"/>
<circle cx="598.25" cy="354.96" r="1.3" fill="#fff" stroke="#1a1a1a" stroke-width="0.7"/>
<circle cx="601.82" cy="372.45" r="1.3" fill="#fff" stroke="#1a1a1a" stroke-width="0.7"/>
<circle cx="602.80" cy="314.12" r="1.3" fill="#fff" stroke="#1a1a1a" stroke-width="0.7"/>
<circle cx="598.98" cy="372.15" r="1.3" fill="#fff" stroke="#1a1a1a" stroke-width="0.7"/>
<circle cx="597.00" cy="367.80" r="1.3" fill="#fff" stroke="#1a1a1a" stroke-width="0.7"/>
<circle cx="602.39" cy="360.66" r="1.3" fill="#fff" stroke="#1a1a1a" stroke-width="0.7"/>
<circle cx="606.87" cy="354.49" r="1.3" fill="#fff" stroke="#1a1a1a" stroke-width="0.7"/>
<circle cx="598.78" cy="371.23" r="1.3" fill="#fff" stroke="#1a1a1a" stroke-width="0.7"/>
<circle cx="596.68" cy="357.48" r="1.3" fill="#fff" stroke="#1a1a1a" stroke-width="0.7"/>
<circle cx="601.30" cy="328.92" r="1.3" fill="#fff" stroke="#1a1a1a" stroke-width="0.7"/>
<circle cx="613.48" cy="360.20" r="1.3" fill="#fff" stroke="#1a1a1a" stroke-width="0.7"/>
<circle cx="600.66" cy="353.63" r="1.3" fill="#fff" stroke="#1a1a1a" stroke-width="0.7"/>
<circle cx="602.04" cy="363.45" r="1.3" fill="#fff" stroke="#1a1a1a" stroke-width="0.7"/>
<circle cx="604.64" cy="354.04" r="1.3" fill="#fff" stroke="#1a1a1a" stroke-width="0.7"/>
<circle cx="602.14" cy="358.01" r="1.3" fill="#fff" stroke="#1a1a1a" stroke-width="0.7"/>
<circle cx="604.01" cy="365.20" r="1.3" fill="#fff" stroke="#1a1a1a" stroke-width="0.7"/>
<circle cx="597.98" cy="351.13" r="1.3" fill="#fff" stroke="#1a1a1a" stroke-width="0.7"/>
<circle cx="609.27" cy="354.76" r="1.3" fill="#fff" stroke="#1a1a1a" stroke-width="0.7"/>
<circle cx="607.58" cy="364.18" r="1.3" fill="#fff" stroke="#1a1a1a" stroke-width="0.7"/>
<circle cx="591.80" cy="359.33" r="1.3" fill="#fff" stroke="#1a1a1a" stroke-width="0.7"/>
<circle cx="597.55" cy="362.65" r="1.3" fill="#fff" stroke="#1a1a1a" stroke-width="0.7"/>
<circle cx="601.35" cy="332.63" r="1.3" fill="#fff" stroke="#1a1a1a" stroke-width="0.7"/>
<circle cx="598.64" cy="346.71" r="1.3" fill="#fff" stroke="#1a1a1a" stroke-width="0.7"/>
<circle cx="600.97" cy="368.16" r="1.3" fill="#fff" stroke="#1a1a1a" stroke-width="0.7"/>
<circle cx="605.07" cy="362.08" r="1.3" fill="#fff" stroke="#1a1a1a" stroke-width="0.7"/>
<circle cx="601.46" cy="322.75" r="1.3" fill="#fff" stroke="#1a1a1a" stroke-width="0.7"/>
<circle cx="596.79" cy="353.53" r="1.3" fill="#fff" stroke="#1a1a1a" stroke-width="0.7"/>
<circle cx="604.97" cy="350.60" r="1.3" fill="#fff" stroke="#1a1a1a" stroke-width="0.7"/>
<circle cx="611.23" cy="362.36" r="1.3" fill="#fff" stroke="#1a1a1a" stroke-width="0.7"/>
<circle cx="605.15" cy="372.89" r="1.3" fill="#fff" stroke="#1a1a1a" stroke-width="0.7"/>
<circle cx="601.84" cy="353.05" r="1.3" fill="#fff" stroke="#1a1a1a" stroke-width="0.7"/>
<circle cx="597.14" cy="349.10" r="1.3" fill="#fff" stroke="#1a1a1a" stroke-width="0.7"/>
<circle cx="601.04" cy="363.92" r="1.3" fill="#fff" stroke="#1a1a1a" stroke-width="0.7"/>
<circle cx="594.13" cy="354.08" r="1.3" fill="#fff" stroke="#1a1a1a" stroke-width="0.7"/>
<circle cx="594.49" cy="360.22" r="1.3" fill="#fff" stroke="#1a1a1a" stroke-width="0.7"/>
<circle cx="610.44" cy="361.43" r="1.3" fill="#fff" stroke="#1a1a1a" stroke-width="0.7"/>
<circle cx="599.29" cy="349.54" r="1.3" fill="#fff" stroke="#1a1a1a" stroke-width="0.7"/>
<circle cx="602.27" cy="348.78" r="1.3" fill="#fff" stroke="#1a1a1a" stroke-width="0.7"/>
<circle cx="603.57" cy="354.18" r="1.3" fill="#fff" stroke="#1a1a1a" stroke-width="0.7"/>
<circle cx="612.30" cy="356.61" r="1.3" fill="#fff" stroke="#1a1a1a" stroke-width="0.7"/>
<circle cx="605.37" cy="358.60" r="1.3" fill="#fff" stroke="#1a1a1a" stroke-width="0.7"/>
<circle cx="593.36" cy="363.66" r="1.3" fill="#fff" stroke="#1a1a1a" stroke-width="0.7"/>
<circle cx="603.11" cy="370.46" r="1.3" fill="#fff" stroke="#1a1a1a" stroke-width="0.7"/>
<circle cx="603.79" cy="359.57" r="1.3" fill="#fff" stroke="#1a1a1a" stroke-width="0.7"/>
<circle cx="595.87" cy="364.40" r="1.3" fill="#fff" stroke="#1a1a1a" stroke-width="0.7"/>
<circle cx="610.17" cy="358.64" r="1.3" fill="#fff" stroke="#1a1a1a" stroke-width="0.7"/>
<circle cx="606.50" cy="347.39" r="1.3" fill="#fff" stroke="#1a1a1a" stroke-width="0.7"/>
<circle cx="603.53" cy="344.69" r="1.3" fill="#fff" stroke="#1a1a1a" stroke-width="0.7"/>
<circle cx="601.19" cy="344.15" r="1.3" fill="#fff" stroke="#1a1a1a" stroke-width="0.7"/>
<circle cx="609.64" cy="352.99" r="1.3" fill="#fff" stroke="#1a1a1a" stroke-width="0.7"/>
<circle cx="604.63" cy="349.72" r="1.3" fill="#fff" stroke="#1a1a1a" stroke-width="0.7"/>
<circle cx="600.42" cy="345.76" r="1.3" fill="#fff" stroke="#1a1a1a" stroke-width="0.7"/>
<circle cx="598.66" cy="350.48" r="1.3" fill="#fff" stroke="#1a1a1a" stroke-width="0.7"/>
<circle cx="607.32" cy="349.13" r="1.3" fill="#fff" stroke="#1a1a1a" stroke-width="0.7"/>
<circle cx="593.77" cy="361.36" r="1.3" fill="#fff" stroke="#1a1a1a" stroke-width="0.7"/>
<circle cx="596.88" cy="352.59" r="1.3" fill="#fff" stroke="#1a1a1a" stroke-width="0.7"/>
<circle cx="597.90" cy="363.21" r="1.3" fill="#fff" stroke="#1a1a1a" stroke-width="0.7"/>
<circle cx="610.27" cy="364.53" r="1.3" fill="#fff" stroke="#1a1a1a" stroke-width="0.7"/>
<circle cx="599.14" cy="366.67" r="1.3" fill="#fff" stroke="#1a1a1a" stroke-width="0.7"/>
<circle cx="610.08" cy="353.16" r="1.3" fill="#fff" stroke="#1a1a1a" stroke-width="0.7"/>
<circle cx="602.31" cy="368.22" r="1.3" fill="#fff" stroke="#1a1a1a" stroke-width="0.7"/>
<circle cx="608.53" cy="353.31" r="1.3" fill="#fff" stroke="#1a1a1a" stroke-width="0.7"/>
<circle cx="613.22" cy="356.64" r="1.3" fill="#fff" stroke="#1a1a1a" stroke-width="0.7"/>
<circle cx="594.90" cy="365.26" r="1.3" fill="#fff" stroke="#1a1a1a" stroke-width="0.7"/>
<circle cx="603.94" cy="374.89" r="1.3" fill="#fff" stroke="#1a1a1a" stroke-width="0.7"/>
<circle cx="598.12" cy="366.64" r="1.3" fill="#fff" stroke="#1a1a1a" stroke-width="0.7"/>
<circle cx="600.44" cy="372.97" r="1.3" fill="#fff" stroke="#1a1a1a" stroke-width="0.7"/>
<circle cx="594.89" cy="362.64" r="1.3" fill="#fff" stroke="#1a1a1a" stroke-width="0.7"/>
<circle cx="599.40" cy="346.14" r="1.3" fill="#fff" stroke="#1a1a1a" stroke-width="0.7"/>
<circle cx="600.03" cy="372.05" r="1.3" fill="#fff" stroke="#1a1a1a" stroke-width="0.7"/>
<circle cx="599.35" cy="351.48" r="1.3" fill="#fff" stroke="#1a1a1a" stroke-width="0.7"/>
<circle cx="594.86" cy="354.02" r="1.3" fill="#fff" stroke="#1a1a1a" stroke-width="0.7"/>
<circle cx="611.61" cy="358.08" r="1.3" fill="#fff" stroke="#1a1a1a" stroke-width="0.7"/>
<circle cx="603.43" cy="355.84" r="1.3" fill="#fff" stroke="#1a1a1a" stroke-width="0.7"/>
<circle cx="603.18" cy="304.86" r="1.3" fill="#fff" stroke="#1a1a1a" stroke-width="0.7"/>
<circle cx="595.39" cy="352.23" r="1.3" fill="#fff" stroke="#1a1a1a" stroke-width="0.7"/>
<circle cx="603.10" cy="347.45" r="1.3" fill="#fff" stroke="#1a1a1a" stroke-width="0.7"/>
<circle cx="598.41" cy="368.27" r="1.3" fill="#fff" stroke="#1a1a1a" stroke-width="0.7"/>
<circle cx="596.74" cy="353.00" r="1.3" fill="#fff" stroke="#1a1a1a" stroke-width="0.7"/>
<circle cx="596.73" cy="356.41" r="1.3" fill="#fff" stroke="#1a1a1a" stroke-width="0.7"/>
<circle cx="602.83" cy="330.77" r="1.3" fill="#fff" stroke="#1a1a1a" stroke-width="0.7"/>
<line x1="602.3" y1="363.61" x2="602.3" y2="345.27" stroke="#111" stroke-width="1.6"/>
<line x1="596.3" y1="345.27" x2="608.3" y2="345.27" stroke="#111" stroke-width="1.7"/>
<text transform="translate(604.60,419.09999999999997) rotate(-45)" font-size="9.9" text-anchor="end" fill="#111">Severe</text>
<text transform="translate(502.5,347) rotate(-90)" font-size="9.4" text-anchor="middle" fill="#111">ADMA (μM)</text>
<polyline points="541.5,282.5 541.5,275.8 587.5,275.8 587.5,282.5" fill="none" stroke="#111" stroke-width="1.1"/>
<text x="564.50" y="269.80" font-size="8.9" text-anchor="middle" font-weight="normal" fill="#111" >####</text>
<line x1="571.3" y1="296.9" x2="603" y2="296.9" stroke="#111" stroke-width="1.1"/>
<text x="588.30" y="297.10" font-size="12.5" text-anchor="middle" font-weight="normal" fill="#111" >*</text>
<line x1="540.4" y1="315.6" x2="571.5" y2="315.6" stroke="#111" stroke-width="1.1"/>
<text x="557.00" y="313.60" font-size="12.5" text-anchor="middle" font-weight="normal" fill="#111" >****</text>
<line x1="698.5" y1="282.30" x2="698.5" y2="407.20" stroke="#000" stroke-width="1.25"/>
<line x1="698.0" y1="407.0" x2="803.6" y2="407.0" stroke="#000" stroke-width="1.3"/>
<line x1="695.5" y1="406.60" x2="698.5" y2="406.60" stroke="#000" stroke-width="1.1"/>
<text x="692.90" y="409.90" font-size="9.4" text-anchor="end" font-weight="normal" fill="#111" >0.0</text>
<line x1="695.5" y1="375.65" x2="698.5" y2="375.65" stroke="#000" stroke-width="1.1"/>
<text x="692.90" y="378.95" font-size="9.4" text-anchor="end" font-weight="normal" fill="#111" >0.5</text>
<line x1="695.5" y1="344.70" x2="698.5" y2="344.70" stroke="#000" stroke-width="1.1"/>
<text x="692.90" y="348.00" font-size="9.4" text-anchor="end" font-weight="normal" fill="#111" >1.0</text>
<line x1="695.5" y1="313.75" x2="698.5" y2="313.75" stroke="#000" stroke-width="1.1"/>
<text x="692.90" y="317.05" font-size="9.4" text-anchor="end" font-weight="normal" fill="#111" >1.5</text>
<line x1="695.5" y1="282.80" x2="698.5" y2="282.80" stroke="#000" stroke-width="1.1"/>
<text x="692.90" y="286.10" font-size="9.4" text-anchor="end" font-weight="normal" fill="#111" >2.0</text>
<rect x="710" y="360.79" width="22.799999999999955" height="45.81" fill="#a8a8a8"/>
<line x1="721.4" y1="406.6" x2="721.4" y2="411.1" stroke="#000" stroke-width="1.2"/>
<circle cx="714.31" cy="359.35" r="1.3" fill="#fff" stroke="#1a1a1a" stroke-width="0.7"/>
<circle cx="726.00" cy="359.14" r="1.3" fill="#fff" stroke="#1a1a1a" stroke-width="0.7"/>
<circle cx="727.71" cy="372.41" r="1.3" fill="#fff" stroke="#1a1a1a" stroke-width="0.7"/>
<circle cx="721.25" cy="371.08" r="1.3" fill="#fff" stroke="#1a1a1a" stroke-width="0.7"/>
<circle cx="722.97" cy="360.25" r="1.3" fill="#fff" stroke="#1a1a1a" stroke-width="0.7"/>
<circle cx="713.50" cy="369.17" r="1.3" fill="#fff" stroke="#1a1a1a" stroke-width="0.7"/>
<circle cx="717.40" cy="361.95" r="1.3" fill="#fff" stroke="#1a1a1a" stroke-width="0.7"/>
<circle cx="721.57" cy="352.41" r="1.3" fill="#fff" stroke="#1a1a1a" stroke-width="0.7"/>
<circle cx="719.72" cy="359.76" r="1.3" fill="#fff" stroke="#1a1a1a" stroke-width="0.7"/>
<circle cx="722.14" cy="327.99" r="1.3" fill="#fff" stroke="#1a1a1a" stroke-width="0.7"/>
<circle cx="724.30" cy="368.38" r="1.3" fill="#fff" stroke="#1a1a1a" stroke-width="0.7"/>
<circle cx="728.20" cy="360.92" r="1.3" fill="#fff" stroke="#1a1a1a" stroke-width="0.7"/>
<circle cx="729.72" cy="369.53" r="1.3" fill="#fff" stroke="#1a1a1a" stroke-width="0.7"/>
<circle cx="723.75" cy="372.29" r="1.3" fill="#fff" stroke="#1a1a1a" stroke-width="0.7"/>
<circle cx="726.05" cy="361.74" r="1.3" fill="#fff" stroke="#1a1a1a" stroke-width="0.7"/>
<circle cx="721.19" cy="350.09" r="1.3" fill="#fff" stroke="#1a1a1a" stroke-width="0.7"/>
<circle cx="721.43" cy="324.27" r="1.3" fill="#fff" stroke="#1a1a1a" stroke-width="0.7"/>
<circle cx="728.01" cy="357.13" r="1.3" fill="#fff" stroke="#1a1a1a" stroke-width="0.7"/>
<circle cx="717.56" cy="369.74" r="1.3" fill="#fff" stroke="#1a1a1a" stroke-width="0.7"/>
<circle cx="719.44" cy="367.26" r="1.3" fill="#fff" stroke="#1a1a1a" stroke-width="0.7"/>
<circle cx="729.77" cy="359.00" r="1.3" fill="#fff" stroke="#1a1a1a" stroke-width="0.7"/>
<circle cx="718.17" cy="349.76" r="1.3" fill="#fff" stroke="#1a1a1a" stroke-width="0.7"/>
<circle cx="713.88" cy="363.01" r="1.3" fill="#fff" stroke="#1a1a1a" stroke-width="0.7"/>
<circle cx="715.71" cy="367.67" r="1.3" fill="#fff" stroke="#1a1a1a" stroke-width="0.7"/>
<circle cx="731.78" cy="359.84" r="1.3" fill="#fff" stroke="#1a1a1a" stroke-width="0.7"/>
<circle cx="721.69" cy="368.04" r="1.3" fill="#fff" stroke="#1a1a1a" stroke-width="0.7"/>
<circle cx="727.29" cy="354.36" r="1.3" fill="#fff" stroke="#1a1a1a" stroke-width="0.7"/>
<circle cx="723.82" cy="347.80" r="1.3" fill="#fff" stroke="#1a1a1a" stroke-width="0.7"/>
<circle cx="731.05" cy="367.43" r="1.3" fill="#fff" stroke="#1a1a1a" stroke-width="0.7"/>
<circle cx="718.01" cy="373.03" r="1.3" fill="#fff" stroke="#1a1a1a" stroke-width="0.7"/>
<circle cx="720.06" cy="362.42" r="1.3" fill="#fff" stroke="#1a1a1a" stroke-width="0.7"/>
<circle cx="711.39" cy="367.57" r="1.3" fill="#fff" stroke="#1a1a1a" stroke-width="0.7"/>
<circle cx="727.37" cy="369.46" r="1.3" fill="#fff" stroke="#1a1a1a" stroke-width="0.7"/>
<circle cx="711.97" cy="360.88" r="1.3" fill="#fff" stroke="#1a1a1a" stroke-width="0.7"/>
<circle cx="720.49" cy="354.91" r="1.3" fill="#fff" stroke="#1a1a1a" stroke-width="0.7"/>
<circle cx="721.37" cy="373.93" r="1.3" fill="#fff" stroke="#1a1a1a" stroke-width="0.7"/>
<circle cx="710.13" cy="362.86" r="1.3" fill="#fff" stroke="#1a1a1a" stroke-width="0.7"/>
<circle cx="724.06" cy="375.33" r="1.3" fill="#fff" stroke="#1a1a1a" stroke-width="0.7"/>
<circle cx="718.05" cy="352.67" r="1.3" fill="#fff" stroke="#1a1a1a" stroke-width="0.7"/>
<circle cx="718.62" cy="359.86" r="1.3" fill="#fff" stroke="#1a1a1a" stroke-width="0.7"/>
<circle cx="719.89" cy="369.60" r="1.3" fill="#fff" stroke="#1a1a1a" stroke-width="0.7"/>
<circle cx="716.96" cy="356.25" r="1.3" fill="#fff" stroke="#1a1a1a" stroke-width="0.7"/>
<circle cx="723.89" cy="370.85" r="1.3" fill="#fff" stroke="#1a1a1a" stroke-width="0.7"/>
<circle cx="715.64" cy="372.63" r="1.3" fill="#fff" stroke="#1a1a1a" stroke-width="0.7"/>
<circle cx="720.45" cy="349.32" r="1.3" fill="#fff" stroke="#1a1a1a" stroke-width="0.7"/>
<circle cx="721.30" cy="358.81" r="1.3" fill="#fff" stroke="#1a1a1a" stroke-width="0.7"/>
<circle cx="713.47" cy="356.70" r="1.3" fill="#fff" stroke="#1a1a1a" stroke-width="0.7"/>
<circle cx="724.33" cy="350.07" r="1.3" fill="#fff" stroke="#1a1a1a" stroke-width="0.7"/>
<circle cx="722.82" cy="370.16" r="1.3" fill="#fff" stroke="#1a1a1a" stroke-width="0.7"/>
<circle cx="725.48" cy="356.33" r="1.3" fill="#fff" stroke="#1a1a1a" stroke-width="0.7"/>
<circle cx="713.82" cy="365.85" r="1.3" fill="#fff" stroke="#1a1a1a" stroke-width="0.7"/>
<circle cx="729.63" cy="368.31" r="1.3" fill="#fff" stroke="#1a1a1a" stroke-width="0.7"/>
<circle cx="728.59" cy="363.47" r="1.3" fill="#fff" stroke="#1a1a1a" stroke-width="0.7"/>
<circle cx="724.74" cy="352.83" r="1.3" fill="#fff" stroke="#1a1a1a" stroke-width="0.7"/>
<circle cx="713.93" cy="367.17" r="1.3" fill="#fff" stroke="#1a1a1a" stroke-width="0.7"/>
<circle cx="723.28" cy="355.40" r="1.3" fill="#fff" stroke="#1a1a1a" stroke-width="0.7"/>
<circle cx="719.12" cy="373.80" r="1.3" fill="#fff" stroke="#1a1a1a" stroke-width="0.7"/>
<circle cx="714.97" cy="361.20" r="1.3" fill="#fff" stroke="#1a1a1a" stroke-width="0.7"/>
<circle cx="731.26" cy="363.46" r="1.3" fill="#fff" stroke="#1a1a1a" stroke-width="0.7"/>
<circle cx="727.16" cy="355.54" r="1.3" fill="#fff" stroke="#1a1a1a" stroke-width="0.7"/>
<circle cx="714.03" cy="361.68" r="1.3" fill="#fff" stroke="#1a1a1a" stroke-width="0.7"/>
<circle cx="726.32" cy="366.63" r="1.3" fill="#fff" stroke="#1a1a1a" stroke-width="0.7"/>
<circle cx="730.61" cy="362.67" r="1.3" fill="#fff" stroke="#1a1a1a" stroke-width="0.7"/>
<circle cx="722.66" cy="364.58" r="1.3" fill="#fff" stroke="#1a1a1a" stroke-width="0.7"/>
<circle cx="718.41" cy="355.52" r="1.3" fill="#fff" stroke="#1a1a1a" stroke-width="0.7"/>
<circle cx="715.66" cy="366.59" r="1.3" fill="#fff" stroke="#1a1a1a" stroke-width="0.7"/>
<circle cx="721.41" cy="326.13" r="1.3" fill="#fff" stroke="#1a1a1a" stroke-width="0.7"/>
<circle cx="722.06" cy="361.34" r="1.3" fill="#fff" stroke="#1a1a1a" stroke-width="0.7"/>
<circle cx="718.42" cy="351.00" r="1.3" fill="#fff" stroke="#1a1a1a" stroke-width="0.7"/>
<circle cx="718.24" cy="375.97" r="1.3" fill="#fff" stroke="#1a1a1a" stroke-width="0.7"/>
<circle cx="719.56" cy="349.93" r="1.3" fill="#fff" stroke="#1a1a1a" stroke-width="0.7"/>
<circle cx="713.14" cy="360.31" r="1.3" fill="#fff" stroke="#1a1a1a" stroke-width="0.7"/>
<circle cx="714.90" cy="359.75" r="1.3" fill="#fff" stroke="#1a1a1a" stroke-width="0.7"/>
<circle cx="726.98" cy="363.53" r="1.3" fill="#fff" stroke="#1a1a1a" stroke-width="0.7"/>
<circle cx="715.36" cy="360.76" r="1.3" fill="#fff" stroke="#1a1a1a" stroke-width="0.7"/>
<circle cx="713.40" cy="368.67" r="1.3" fill="#fff" stroke="#1a1a1a" stroke-width="0.7"/>
<circle cx="724.26" cy="374.31" r="1.3" fill="#fff" stroke="#1a1a1a" stroke-width="0.7"/>
<circle cx="722.74" cy="362.23" r="1.3" fill="#fff" stroke="#1a1a1a" stroke-width="0.7"/>
<circle cx="716.51" cy="371.14" r="1.3" fill="#fff" stroke="#1a1a1a" stroke-width="0.7"/>
<circle cx="721.09" cy="337.27" r="1.3" fill="#fff" stroke="#1a1a1a" stroke-width="0.7"/>
<circle cx="725.73" cy="368.18" r="1.3" fill="#fff" stroke="#1a1a1a" stroke-width="0.7"/>
<circle cx="727.77" cy="363.04" r="1.3" fill="#fff" stroke="#1a1a1a" stroke-width="0.7"/>
<circle cx="730.83" cy="363.12" r="1.3" fill="#fff" stroke="#1a1a1a" stroke-width="0.7"/>
<circle cx="721.54" cy="355.90" r="1.3" fill="#fff" stroke="#1a1a1a" stroke-width="0.7"/>
<circle cx="716.15" cy="361.89" r="1.3" fill="#fff" stroke="#1a1a1a" stroke-width="0.7"/>
<circle cx="725.20" cy="355.32" r="1.3" fill="#fff" stroke="#1a1a1a" stroke-width="0.7"/>
<circle cx="717.57" cy="364.83" r="1.3" fill="#fff" stroke="#1a1a1a" stroke-width="0.7"/>
<circle cx="728.81" cy="365.89" r="1.3" fill="#fff" stroke="#1a1a1a" stroke-width="0.7"/>
<circle cx="715.74" cy="357.36" r="1.3" fill="#fff" stroke="#1a1a1a" stroke-width="0.7"/>
<circle cx="725.88" cy="361.23" r="1.3" fill="#fff" stroke="#1a1a1a" stroke-width="0.7"/>
<circle cx="716.75" cy="369.35" r="1.3" fill="#fff" stroke="#1a1a1a" stroke-width="0.7"/>
<circle cx="718.75" cy="374.65" r="1.3" fill="#fff" stroke="#1a1a1a" stroke-width="0.7"/>
<circle cx="725.98" cy="368.90" r="1.3" fill="#fff" stroke="#1a1a1a" stroke-width="0.7"/>
<circle cx="722.88" cy="363.21" r="1.3" fill="#fff" stroke="#1a1a1a" stroke-width="0.7"/>
<circle cx="714.21" cy="356.90" r="1.3" fill="#fff" stroke="#1a1a1a" stroke-width="0.7"/>
<circle cx="721.75" cy="342.84" r="1.3" fill="#fff" stroke="#1a1a1a" stroke-width="0.7"/>
<circle cx="718.22" cy="350.23" r="1.3" fill="#fff" stroke="#1a1a1a" stroke-width="0.7"/>
<circle cx="718.78" cy="370.96" r="1.3" fill="#fff" stroke="#1a1a1a" stroke-width="0.7"/>
<circle cx="724.15" cy="365.56" r="1.3" fill="#fff" stroke="#1a1a1a" stroke-width="0.7"/>
<circle cx="728.60" cy="357.00" r="1.3" fill="#fff" stroke="#1a1a1a" stroke-width="0.7"/>
<circle cx="719.08" cy="350.21" r="1.3" fill="#fff" stroke="#1a1a1a" stroke-width="0.7"/>
<line x1="721.4" y1="366.79" x2="721.4" y2="350.89" stroke="#111" stroke-width="1.6"/>
<line x1="715.4" y1="350.89" x2="727.4" y2="350.89" stroke="#111" stroke-width="1.7"/>
<text transform="translate(723.70,417.8) rotate(-45)" font-size="9.9" text-anchor="end" fill="#111">Mild</text>
<rect x="740" y="359.56" width="22.600000000000023" height="47.04" fill="#1f3f73"/>
<line x1="751.3" y1="406.6" x2="751.3" y2="411.1" stroke="#000" stroke-width="1.2"/>
<circle cx="750.11" cy="365.20" r="1.3" fill="#fff" stroke="#1a1a1a" stroke-width="0.7"/>
<circle cx="749.42" cy="348.21" r="1.3" fill="#fff" stroke="#1a1a1a" stroke-width="0.7"/>
<circle cx="745.57" cy="364.13" r="1.3" fill="#fff" stroke="#1a1a1a" stroke-width="0.7"/>
<circle cx="745.47" cy="354.85" r="1.3" fill="#fff" stroke="#1a1a1a" stroke-width="0.7"/>
<circle cx="752.04" cy="351.89" r="1.3" fill="#fff" stroke="#1a1a1a" stroke-width="0.7"/>
<circle cx="755.14" cy="364.74" r="1.3" fill="#fff" stroke="#1a1a1a" stroke-width="0.7"/>
<circle cx="743.53" cy="365.75" r="1.3" fill="#fff" stroke="#1a1a1a" stroke-width="0.7"/>
<circle cx="754.43" cy="367.81" r="1.3" fill="#fff" stroke="#1a1a1a" stroke-width="0.7"/>
<circle cx="760.31" cy="360.87" r="1.3" fill="#fff" stroke="#1a1a1a" stroke-width="0.7"/>
<circle cx="750.16" cy="355.16" r="1.3" fill="#fff" stroke="#1a1a1a" stroke-width="0.7"/>
<circle cx="752.08" cy="366.62" r="1.3" fill="#fff" stroke="#1a1a1a" stroke-width="0.7"/>
<circle cx="749.34" cy="367.95" r="1.3" fill="#fff" stroke="#1a1a1a" stroke-width="0.7"/>
<circle cx="750.38" cy="360.02" r="1.3" fill="#fff" stroke="#1a1a1a" stroke-width="0.7"/>
<circle cx="758.84" cy="358.61" r="1.3" fill="#fff" stroke="#1a1a1a" stroke-width="0.7"/>
<circle cx="749.93" cy="362.68" r="1.3" fill="#fff" stroke="#1a1a1a" stroke-width="0.7"/>
<circle cx="746.13" cy="368.53" r="1.3" fill="#fff" stroke="#1a1a1a" stroke-width="0.7"/>
<circle cx="760.00" cy="366.85" r="1.3" fill="#fff" stroke="#1a1a1a" stroke-width="0.7"/>
<circle cx="742.48" cy="362.74" r="1.3" fill="#fff" stroke="#1a1a1a" stroke-width="0.7"/>
<circle cx="753.97" cy="375.80" r="1.3" fill="#fff" stroke="#1a1a1a" stroke-width="0.7"/>
<circle cx="751.99" cy="339.75" r="1.3" fill="#fff" stroke="#1a1a1a" stroke-width="0.7"/>
<circle cx="752.74" cy="363.27" r="1.3" fill="#fff" stroke="#1a1a1a" stroke-width="0.7"/>
<circle cx="757.53" cy="365.45" r="1.3" fill="#fff" stroke="#1a1a1a" stroke-width="0.7"/>
<circle cx="748.22" cy="352.44" r="1.3" fill="#fff" stroke="#1a1a1a" stroke-width="0.7"/>
<circle cx="753.20" cy="347.75" r="1.3" fill="#fff" stroke="#1a1a1a" stroke-width="0.7"/>
<circle cx="757.92" cy="362.36" r="1.3" fill="#fff" stroke="#1a1a1a" stroke-width="0.7"/>
<circle cx="752.03" cy="356.81" r="1.3" fill="#fff" stroke="#1a1a1a" stroke-width="0.7"/>
<circle cx="750.32" cy="341.61" r="1.3" fill="#fff" stroke="#1a1a1a" stroke-width="0.7"/>
<circle cx="755.58" cy="353.38" r="1.3" fill="#fff" stroke="#1a1a1a" stroke-width="0.7"/>
<circle cx="761.26" cy="365.45" r="1.3" fill="#fff" stroke="#1a1a1a" stroke-width="0.7"/>
<circle cx="740.57" cy="364.69" r="1.3" fill="#fff" stroke="#1a1a1a" stroke-width="0.7"/>
<circle cx="759.95" cy="355.31" r="1.3" fill="#fff" stroke="#1a1a1a" stroke-width="0.7"/>
<circle cx="757.54" cy="368.38" r="1.3" fill="#fff" stroke="#1a1a1a" stroke-width="0.7"/>
<circle cx="761.90" cy="363.18" r="1.3" fill="#fff" stroke="#1a1a1a" stroke-width="0.7"/>
<circle cx="751.00" cy="353.87" r="1.3" fill="#fff" stroke="#1a1a1a" stroke-width="0.7"/>
<circle cx="745.09" cy="358.87" r="1.3" fill="#fff" stroke="#1a1a1a" stroke-width="0.7"/>
<circle cx="749.76" cy="366.96" r="1.3" fill="#fff" stroke="#1a1a1a" stroke-width="0.7"/>
<circle cx="757.65" cy="363.75" r="1.3" fill="#fff" stroke="#1a1a1a" stroke-width="0.7"/>
<circle cx="758.13" cy="366.42" r="1.3" fill="#fff" stroke="#1a1a1a" stroke-width="0.7"/>
<circle cx="742.74" cy="355.61" r="1.3" fill="#fff" stroke="#1a1a1a" stroke-width="0.7"/>
<circle cx="753.90" cy="349.97" r="1.3" fill="#fff" stroke="#1a1a1a" stroke-width="0.7"/>
<circle cx="753.48" cy="366.67" r="1.3" fill="#fff" stroke="#1a1a1a" stroke-width="0.7"/>
<circle cx="747.88" cy="364.35" r="1.3" fill="#fff" stroke="#1a1a1a" stroke-width="0.7"/>
<circle cx="750.06" cy="366.06" r="1.3" fill="#fff" stroke="#1a1a1a" stroke-width="0.7"/>
<circle cx="740.05" cy="362.44" r="1.3" fill="#fff" stroke="#1a1a1a" stroke-width="0.7"/>
<circle cx="741.52" cy="365.28" r="1.3" fill="#fff" stroke="#1a1a1a" stroke-width="0.7"/>
<circle cx="745.67" cy="371.44" r="1.3" fill="#fff" stroke="#1a1a1a" stroke-width="0.7"/>
<circle cx="755.73" cy="358.16" r="1.3" fill="#fff" stroke="#1a1a1a" stroke-width="0.7"/>
<circle cx="752.54" cy="338.51" r="1.3" fill="#fff" stroke="#1a1a1a" stroke-width="0.7"/>
<circle cx="746.54" cy="365.88" r="1.3" fill="#fff" stroke="#1a1a1a" stroke-width="0.7"/>
<circle cx="748.95" cy="372.71" r="1.3" fill="#fff" stroke="#1a1a1a" stroke-width="0.7"/>
<circle cx="746.71" cy="361.99" r="1.3" fill="#fff" stroke="#1a1a1a" stroke-width="0.7"/>
<circle cx="746.75" cy="373.96" r="1.3" fill="#fff" stroke="#1a1a1a" stroke-width="0.7"/>
<circle cx="756.34" cy="371.52" r="1.3" fill="#fff" stroke="#1a1a1a" stroke-width="0.7"/>
<circle cx="742.48" cy="358.79" r="1.3" fill="#fff" stroke="#1a1a1a" stroke-width="0.7"/>
<circle cx="753.56" cy="359.28" r="1.3" fill="#fff" stroke="#1a1a1a" stroke-width="0.7"/>
<circle cx="752.76" cy="348.08" r="1.3" fill="#fff" stroke="#1a1a1a" stroke-width="0.7"/>
<circle cx="751.26" cy="373.34" r="1.3" fill="#fff" stroke="#1a1a1a" stroke-width="0.7"/>
<circle cx="753.01" cy="369.88" r="1.3" fill="#fff" stroke="#1a1a1a" stroke-width="0.7"/>
<circle cx="756.06" cy="350.88" r="1.3" fill="#fff" stroke="#1a1a1a" stroke-width="0.7"/>
<circle cx="745.51" cy="352.41" r="1.3" fill="#fff" stroke="#1a1a1a" stroke-width="0.7"/>
<circle cx="754.35" cy="364.50" r="1.3" fill="#fff" stroke="#1a1a1a" stroke-width="0.7"/>
<circle cx="762.44" cy="359.81" r="1.3" fill="#fff" stroke="#1a1a1a" stroke-width="0.7"/>
<circle cx="753.40" cy="359.68" r="1.3" fill="#fff" stroke="#1a1a1a" stroke-width="0.7"/>
<circle cx="743.62" cy="367.71" r="1.3" fill="#fff" stroke="#1a1a1a" stroke-width="0.7"/>
<circle cx="753.06" cy="347.39" r="1.3" fill="#fff" stroke="#1a1a1a" stroke-width="0.7"/>
<circle cx="745.26" cy="369.72" r="1.3" fill="#fff" stroke="#1a1a1a" stroke-width="0.7"/>
<circle cx="748.66" cy="357.38" r="1.3" fill="#fff" stroke="#1a1a1a" stroke-width="0.7"/>
<circle cx="752.31" cy="380.60" r="1.3" fill="#fff" stroke="#1a1a1a" stroke-width="0.7"/>
<circle cx="757.88" cy="353.83" r="1.3" fill="#fff" stroke="#1a1a1a" stroke-width="0.7"/>
<circle cx="756.81" cy="367.71" r="1.3" fill="#fff" stroke="#1a1a1a" stroke-width="0.7"/>
<circle cx="741.59" cy="358.01" r="1.3" fill="#fff" stroke="#1a1a1a" stroke-width="0.7"/>
<circle cx="750.32" cy="363.86" r="1.3" fill="#fff" stroke="#1a1a1a" stroke-width="0.7"/>
<circle cx="757.80" cy="365.57" r="1.3" fill="#fff" stroke="#1a1a1a" stroke-width="0.7"/>
<circle cx="747.04" cy="367.84" r="1.3" fill="#fff" stroke="#1a1a1a" stroke-width="0.7"/>
<circle cx="751.02" cy="307.56" r="1.3" fill="#fff" stroke="#1a1a1a" stroke-width="0.7"/>
<circle cx="756.89" cy="366.11" r="1.3" fill="#fff" stroke="#1a1a1a" stroke-width="0.7"/>
<circle cx="747.65" cy="352.49" r="1.3" fill="#fff" stroke="#1a1a1a" stroke-width="0.7"/>
<circle cx="748.04" cy="353.53" r="1.3" fill="#fff" stroke="#1a1a1a" stroke-width="0.7"/>
<circle cx="753.54" cy="354.67" r="1.3" fill="#fff" stroke="#1a1a1a" stroke-width="0.7"/>
<circle cx="754.98" cy="367.28" r="1.3" fill="#fff" stroke="#1a1a1a" stroke-width="0.7"/>
<circle cx="759.49" cy="359.12" r="1.3" fill="#fff" stroke="#1a1a1a" stroke-width="0.7"/>
<circle cx="753.76" cy="373.39" r="1.3" fill="#fff" stroke="#1a1a1a" stroke-width="0.7"/>
<circle cx="751.36" cy="371.31" r="1.3" fill="#fff" stroke="#1a1a1a" stroke-width="0.7"/>
<circle cx="753.48" cy="362.81" r="1.3" fill="#fff" stroke="#1a1a1a" stroke-width="0.7"/>
<circle cx="759.38" cy="358.06" r="1.3" fill="#fff" stroke="#1a1a1a" stroke-width="0.7"/>
<circle cx="753.14" cy="343.46" r="1.3" fill="#fff" stroke="#1a1a1a" stroke-width="0.7"/>
<circle cx="754.26" cy="370.03" r="1.3" fill="#fff" stroke="#1a1a1a" stroke-width="0.7"/>
<circle cx="756.10" cy="355.73" r="1.3" fill="#fff" stroke="#1a1a1a" stroke-width="0.7"/>
<circle cx="755.69" cy="360.73" r="1.3" fill="#fff" stroke="#1a1a1a" stroke-width="0.7"/>
<circle cx="746.86" cy="350.32" r="1.3" fill="#fff" stroke="#1a1a1a" stroke-width="0.7"/>
<circle cx="758.79" cy="363.01" r="1.3" fill="#fff" stroke="#1a1a1a" stroke-width="0.7"/>
<circle cx="748.81" cy="375.80" r="1.3" fill="#fff" stroke="#1a1a1a" stroke-width="0.7"/>
<circle cx="754.67" cy="372.48" r="1.3" fill="#fff" stroke="#1a1a1a" stroke-width="0.7"/>
<circle cx="749.88" cy="378.75" r="1.3" fill="#fff" stroke="#1a1a1a" stroke-width="0.7"/>
<circle cx="752.73" cy="349.42" r="1.3" fill="#fff" stroke="#1a1a1a" stroke-width="0.7"/>
<circle cx="752.35" cy="372.77" r="1.3" fill="#fff" stroke="#1a1a1a" stroke-width="0.7"/>
<circle cx="752.00" cy="377.71" r="1.3" fill="#fff" stroke="#1a1a1a" stroke-width="0.7"/>
<circle cx="752.96" cy="363.96" r="1.3" fill="#fff" stroke="#1a1a1a" stroke-width="0.7"/>
<circle cx="743.87" cy="365.11" r="1.3" fill="#fff" stroke="#1a1a1a" stroke-width="0.7"/>
<circle cx="753.72" cy="357.19" r="1.3" fill="#fff" stroke="#1a1a1a" stroke-width="0.7"/>
<circle cx="748.12" cy="369.91" r="1.3" fill="#fff" stroke="#1a1a1a" stroke-width="0.7"/>
<circle cx="757.29" cy="356.23" r="1.3" fill="#fff" stroke="#1a1a1a" stroke-width="0.7"/>
<circle cx="748.79" cy="346.72" r="1.3" fill="#fff" stroke="#1a1a1a" stroke-width="0.7"/>
<circle cx="759.34" cy="358.55" r="1.3" fill="#fff" stroke="#1a1a1a" stroke-width="0.7"/>
<circle cx="754.35" cy="375.08" r="1.3" fill="#fff" stroke="#1a1a1a" stroke-width="0.7"/>
<circle cx="758.59" cy="364.78" r="1.3" fill="#fff" stroke="#1a1a1a" stroke-width="0.7"/>
<circle cx="758.52" cy="363.95" r="1.3" fill="#fff" stroke="#1a1a1a" stroke-width="0.7"/>
<circle cx="752.36" cy="352.12" r="1.3" fill="#fff" stroke="#1a1a1a" stroke-width="0.7"/>
<circle cx="749.44" cy="355.76" r="1.3" fill="#fff" stroke="#1a1a1a" stroke-width="0.7"/>
<circle cx="753.28" cy="364.64" r="1.3" fill="#fff" stroke="#1a1a1a" stroke-width="0.7"/>
<circle cx="757.37" cy="364.67" r="1.3" fill="#fff" stroke="#1a1a1a" stroke-width="0.7"/>
<circle cx="748.87" cy="351.16" r="1.3" fill="#fff" stroke="#1a1a1a" stroke-width="0.7"/>
<circle cx="752.75" cy="354.78" r="1.3" fill="#fff" stroke="#1a1a1a" stroke-width="0.7"/>
<circle cx="750.80" cy="360.92" r="1.3" fill="#fff" stroke="#1a1a1a" stroke-width="0.7"/>
<circle cx="751.94" cy="350.31" r="1.3" fill="#fff" stroke="#1a1a1a" stroke-width="0.7"/>
<circle cx="753.84" cy="352.31" r="1.3" fill="#fff" stroke="#1a1a1a" stroke-width="0.7"/>
<circle cx="755.12" cy="351.86" r="1.3" fill="#fff" stroke="#1a1a1a" stroke-width="0.7"/>
<circle cx="755.86" cy="366.67" r="1.3" fill="#fff" stroke="#1a1a1a" stroke-width="0.7"/>
<circle cx="752.47" cy="364.60" r="1.3" fill="#fff" stroke="#1a1a1a" stroke-width="0.7"/>
<circle cx="748.96" cy="377.10" r="1.3" fill="#fff" stroke="#1a1a1a" stroke-width="0.7"/>
<circle cx="759.33" cy="355.53" r="1.3" fill="#fff" stroke="#1a1a1a" stroke-width="0.7"/>
<circle cx="748.05" cy="351.90" r="1.3" fill="#fff" stroke="#1a1a1a" stroke-width="0.7"/>
<circle cx="751.28" cy="368.32" r="1.3" fill="#fff" stroke="#1a1a1a" stroke-width="0.7"/>
<circle cx="744.42" cy="369.81" r="1.3" fill="#fff" stroke="#1a1a1a" stroke-width="0.7"/>
<circle cx="741.49" cy="360.27" r="1.3" fill="#fff" stroke="#1a1a1a" stroke-width="0.7"/>
<circle cx="742.26" cy="365.53" r="1.3" fill="#fff" stroke="#1a1a1a" stroke-width="0.7"/>
<circle cx="758.44" cy="361.17" r="1.3" fill="#fff" stroke="#1a1a1a" stroke-width="0.7"/>
<circle cx="755.83" cy="367.06" r="1.3" fill="#fff" stroke="#1a1a1a" stroke-width="0.7"/>
<circle cx="751.23" cy="334.80" r="1.3" fill="#fff" stroke="#1a1a1a" stroke-width="0.7"/>
<circle cx="750.08" cy="350.59" r="1.3" fill="#fff" stroke="#1a1a1a" stroke-width="0.7"/>
<circle cx="746.86" cy="353.56" r="1.3" fill="#fff" stroke="#1a1a1a" stroke-width="0.7"/>
<circle cx="758.65" cy="370.40" r="1.3" fill="#fff" stroke="#1a1a1a" stroke-width="0.7"/>
<circle cx="740.80" cy="365.83" r="1.3" fill="#fff" stroke="#1a1a1a" stroke-width="0.7"/>
<circle cx="749.51" cy="356.14" r="1.3" fill="#fff" stroke="#1a1a1a" stroke-width="0.7"/>
<circle cx="760.82" cy="360.64" r="1.3" fill="#fff" stroke="#1a1a1a" stroke-width="0.7"/>
<circle cx="746.94" cy="370.93" r="1.3" fill="#fff" stroke="#1a1a1a" stroke-width="0.7"/>
<circle cx="749.78" cy="358.38" r="1.3" fill="#fff" stroke="#1a1a1a" stroke-width="0.7"/>
<circle cx="750.88" cy="370.07" r="1.3" fill="#fff" stroke="#1a1a1a" stroke-width="0.7"/>
<circle cx="752.23" cy="330.46" r="1.3" fill="#fff" stroke="#1a1a1a" stroke-width="0.7"/>
<circle cx="747.59" cy="359.75" r="1.3" fill="#fff" stroke="#1a1a1a" stroke-width="0.7"/>
<circle cx="751.06" cy="345.94" r="1.3" fill="#fff" stroke="#1a1a1a" stroke-width="0.7"/>
<circle cx="757.43" cy="369.48" r="1.3" fill="#fff" stroke="#1a1a1a" stroke-width="0.7"/>
<circle cx="752.56" cy="357.43" r="1.3" fill="#fff" stroke="#1a1a1a" stroke-width="0.7"/>
<circle cx="748.20" cy="357.82" r="1.3" fill="#fff" stroke="#1a1a1a" stroke-width="0.7"/>
<line x1="751.3" y1="365.56" x2="751.3" y2="347.80" stroke="#111" stroke-width="1.6"/>
<line x1="745.3" y1="347.80" x2="757.3" y2="347.80" stroke="#111" stroke-width="1.7"/>
<text transform="translate(753.60,417.8) rotate(-45)" font-size="9.9" text-anchor="end" fill="#111">Middle</text>
<rect x="769.2" y="357.08" width="22.799999999999955" height="49.52" fill="#b35b5b"/>
<line x1="780.6" y1="406.6" x2="780.6" y2="411.1" stroke="#000" stroke-width="1.2"/>
<circle cx="782.49" cy="351.47" r="1.3" fill="#fff" stroke="#1a1a1a" stroke-width="0.7"/>
<circle cx="785.96" cy="365.03" r="1.3" fill="#fff" stroke="#1a1a1a" stroke-width="0.7"/>
<circle cx="774.52" cy="365.13" r="1.3" fill="#fff" stroke="#1a1a1a" stroke-width="0.7"/>
<circle cx="780.80" cy="362.05" r="1.3" fill="#fff" stroke="#1a1a1a" stroke-width="0.7"/>
<circle cx="782.29" cy="367.82" r="1.3" fill="#fff" stroke="#1a1a1a" stroke-width="0.7"/>
<circle cx="778.36" cy="351.92" r="1.3" fill="#fff" stroke="#1a1a1a" stroke-width="0.7"/>
<circle cx="789.43" cy="365.76" r="1.3" fill="#fff" stroke="#1a1a1a" stroke-width="0.7"/>
<circle cx="772.61" cy="352.80" r="1.3" fill="#fff" stroke="#1a1a1a" stroke-width="0.7"/>
<circle cx="771.93" cy="360.67" r="1.3" fill="#fff" stroke="#1a1a1a" stroke-width="0.7"/>
<circle cx="781.67" cy="377.51" r="1.3" fill="#fff" stroke="#1a1a1a" stroke-width="0.7"/>
<circle cx="787.03" cy="369.16" r="1.3" fill="#fff" stroke="#1a1a1a" stroke-width="0.7"/>
<circle cx="772.82" cy="362.99" r="1.3" fill="#fff" stroke="#1a1a1a" stroke-width="0.7"/>
<circle cx="784.79" cy="360.42" r="1.3" fill="#fff" stroke="#1a1a1a" stroke-width="0.7"/>
<circle cx="790.05" cy="356.69" r="1.3" fill="#fff" stroke="#1a1a1a" stroke-width="0.7"/>
<circle cx="778.89" cy="372.83" r="1.3" fill="#fff" stroke="#1a1a1a" stroke-width="0.7"/>
<circle cx="776.04" cy="357.25" r="1.3" fill="#fff" stroke="#1a1a1a" stroke-width="0.7"/>
<circle cx="777.50" cy="363.65" r="1.3" fill="#fff" stroke="#1a1a1a" stroke-width="0.7"/>
<circle cx="773.31" cy="356.18" r="1.3" fill="#fff" stroke="#1a1a1a" stroke-width="0.7"/>
<circle cx="786.13" cy="356.23" r="1.3" fill="#fff" stroke="#1a1a1a" stroke-width="0.7"/>
<circle cx="782.54" cy="357.24" r="1.3" fill="#fff" stroke="#1a1a1a" stroke-width="0.7"/>
<circle cx="776.55" cy="368.33" r="1.3" fill="#fff" stroke="#1a1a1a" stroke-width="0.7"/>
<circle cx="783.92" cy="363.60" r="1.3" fill="#fff" stroke="#1a1a1a" stroke-width="0.7"/>
<circle cx="778.88" cy="357.32" r="1.3" fill="#fff" stroke="#1a1a1a" stroke-width="0.7"/>
<circle cx="779.97" cy="359.73" r="1.3" fill="#fff" stroke="#1a1a1a" stroke-width="0.7"/>
<circle cx="790.20" cy="361.82" r="1.3" fill="#fff" stroke="#1a1a1a" stroke-width="0.7"/>
<circle cx="777.53" cy="359.77" r="1.3" fill="#fff" stroke="#1a1a1a" stroke-width="0.7"/>
<circle cx="781.69" cy="335.42" r="1.3" fill="#fff" stroke="#1a1a1a" stroke-width="0.7"/>
<circle cx="779.59" cy="386.17" r="1.3" fill="#fff" stroke="#1a1a1a" stroke-width="0.7"/>
<circle cx="769.86" cy="357.17" r="1.3" fill="#fff" stroke="#1a1a1a" stroke-width="0.7"/>
<circle cx="779.47" cy="365.27" r="1.3" fill="#fff" stroke="#1a1a1a" stroke-width="0.7"/>
<circle cx="785.01" cy="367.18" r="1.3" fill="#fff" stroke="#1a1a1a" stroke-width="0.7"/>
<circle cx="769.39" cy="361.33" r="1.3" fill="#fff" stroke="#1a1a1a" stroke-width="0.7"/>
<circle cx="781.69" cy="373.16" r="1.3" fill="#fff" stroke="#1a1a1a" stroke-width="0.7"/>
<circle cx="788.04" cy="352.38" r="1.3" fill="#fff" stroke="#1a1a1a" stroke-width="0.7"/>
<circle cx="771.45" cy="365.16" r="1.3" fill="#fff" stroke="#1a1a1a" stroke-width="0.7"/>
<circle cx="782.29" cy="363.84" r="1.3" fill="#fff" stroke="#1a1a1a" stroke-width="0.7"/>
<circle cx="781.29" cy="331.70" r="1.3" fill="#fff" stroke="#1a1a1a" stroke-width="0.7"/>
<circle cx="786.21" cy="356.53" r="1.3" fill="#fff" stroke="#1a1a1a" stroke-width="0.7"/>
<circle cx="774.86" cy="365.18" r="1.3" fill="#fff" stroke="#1a1a1a" stroke-width="0.7"/>
<circle cx="780.97" cy="374.83" r="1.3" fill="#fff" stroke="#1a1a1a" stroke-width="0.7"/>
<circle cx="783.30" cy="365.04" r="1.3" fill="#fff" stroke="#1a1a1a" stroke-width="0.7"/>
<circle cx="772.54" cy="358.36" r="1.3" fill="#fff" stroke="#1a1a1a" stroke-width="0.7"/>
<circle cx="780.85" cy="355.44" r="1.3" fill="#fff" stroke="#1a1a1a" stroke-width="0.7"/>
<circle cx="775.06" cy="352.65" r="1.3" fill="#fff" stroke="#1a1a1a" stroke-width="0.7"/>
<circle cx="790.04" cy="355.93" r="1.3" fill="#fff" stroke="#1a1a1a" stroke-width="0.7"/>
<circle cx="777.62" cy="356.58" r="1.3" fill="#fff" stroke="#1a1a1a" stroke-width="0.7"/>
<circle cx="779.14" cy="368.54" r="1.3" fill="#fff" stroke="#1a1a1a" stroke-width="0.7"/>
<circle cx="780.30" cy="356.46" r="1.3" fill="#fff" stroke="#1a1a1a" stroke-width="0.7"/>
<circle cx="775.36" cy="361.00" r="1.3" fill="#fff" stroke="#1a1a1a" stroke-width="0.7"/>
<circle cx="780.44" cy="370.87" r="1.3" fill="#fff" stroke="#1a1a1a" stroke-width="0.7"/>
<circle cx="788.61" cy="359.61" r="1.3" fill="#fff" stroke="#1a1a1a" stroke-width="0.7"/>
<circle cx="781.59" cy="324.27" r="1.3" fill="#fff" stroke="#1a1a1a" stroke-width="0.7"/>
<circle cx="771.64" cy="364.79" r="1.3" fill="#fff" stroke="#1a1a1a" stroke-width="0.7"/>
<circle cx="784.33" cy="373.62" r="1.3" fill="#fff" stroke="#1a1a1a" stroke-width="0.7"/>
<circle cx="789.47" cy="363.85" r="1.3" fill="#fff" stroke="#1a1a1a" stroke-width="0.7"/>
<circle cx="781.50" cy="356.33" r="1.3" fill="#fff" stroke="#1a1a1a" stroke-width="0.7"/>
<circle cx="787.03" cy="360.51" r="1.3" fill="#fff" stroke="#1a1a1a" stroke-width="0.7"/>
<circle cx="780.27" cy="338.51" r="1.3" fill="#fff" stroke="#1a1a1a" stroke-width="0.7"/>
<circle cx="773.92" cy="368.17" r="1.3" fill="#fff" stroke="#1a1a1a" stroke-width="0.7"/>
<circle cx="776.27" cy="356.21" r="1.3" fill="#fff" stroke="#1a1a1a" stroke-width="0.7"/>
<circle cx="785.67" cy="350.17" r="1.3" fill="#fff" stroke="#1a1a1a" stroke-width="0.7"/>
<circle cx="774.65" cy="351.23" r="1.3" fill="#fff" stroke="#1a1a1a" stroke-width="0.7"/>
<circle cx="789.02" cy="361.06" r="1.3" fill="#fff" stroke="#1a1a1a" stroke-width="0.7"/>
<circle cx="782.52" cy="374.83" r="1.3" fill="#fff" stroke="#1a1a1a" stroke-width="0.7"/>
<circle cx="784.69" cy="370.33" r="1.3" fill="#fff" stroke="#1a1a1a" stroke-width="0.7"/>
<circle cx="778.38" cy="367.85" r="1.3" fill="#fff" stroke="#1a1a1a" stroke-width="0.7"/>
<circle cx="784.63" cy="357.87" r="1.3" fill="#fff" stroke="#1a1a1a" stroke-width="0.7"/>
<circle cx="784.15" cy="364.75" r="1.3" fill="#fff" stroke="#1a1a1a" stroke-width="0.7"/>
<circle cx="782.61" cy="373.97" r="1.3" fill="#fff" stroke="#1a1a1a" stroke-width="0.7"/>
<circle cx="781.82" cy="369.63" r="1.3" fill="#fff" stroke="#1a1a1a" stroke-width="0.7"/>
<circle cx="788.62" cy="361.81" r="1.3" fill="#fff" stroke="#1a1a1a" stroke-width="0.7"/>
<circle cx="784.96" cy="352.40" r="1.3" fill="#fff" stroke="#1a1a1a" stroke-width="0.7"/>
<circle cx="773.13" cy="361.44" r="1.3" fill="#fff" stroke="#1a1a1a" stroke-width="0.7"/>
<circle cx="789.40" cy="356.96" r="1.3" fill="#fff" stroke="#1a1a1a" stroke-width="0.7"/>
<circle cx="771.12" cy="357.83" r="1.3" fill="#fff" stroke="#1a1a1a" stroke-width="0.7"/>
<circle cx="779.74" cy="352.38" r="1.3" fill="#fff" stroke="#1a1a1a" stroke-width="0.7"/>
<circle cx="786.28" cy="357.26" r="1.3" fill="#fff" stroke="#1a1a1a" stroke-width="0.7"/>
<circle cx="784.85" cy="355.60" r="1.3" fill="#fff" stroke="#1a1a1a" stroke-width="0.7"/>
<circle cx="781.06" cy="313.75" r="1.3" fill="#fff" stroke="#1a1a1a" stroke-width="0.7"/>
<circle cx="791.28" cy="359.05" r="1.3" fill="#fff" stroke="#1a1a1a" stroke-width="0.7"/>
<circle cx="774.75" cy="352.28" r="1.3" fill="#fff" stroke="#1a1a1a" stroke-width="0.7"/>
<circle cx="791.18" cy="357.67" r="1.3" fill="#fff" stroke="#1a1a1a" stroke-width="0.7"/>
<circle cx="770.83" cy="358.70" r="1.3" fill="#fff" stroke="#1a1a1a" stroke-width="0.7"/>
<circle cx="785.94" cy="366.16" r="1.3" fill="#fff" stroke="#1a1a1a" stroke-width="0.7"/>
<circle cx="777.50" cy="364.05" r="1.3" fill="#fff" stroke="#1a1a1a" stroke-width="0.7"/>
<circle cx="775.50" cy="371.05" r="1.3" fill="#fff" stroke="#1a1a1a" stroke-width="0.7"/>
<circle cx="783.51" cy="350.49" r="1.3" fill="#fff" stroke="#1a1a1a" stroke-width="0.7"/>
<circle cx="784.46" cy="364.64" r="1.3" fill="#fff" stroke="#1a1a1a" stroke-width="0.7"/>
<circle cx="780.12" cy="356.73" r="1.3" fill="#fff" stroke="#1a1a1a" stroke-width="0.7"/>
<circle cx="788.76" cy="358.34" r="1.3" fill="#fff" stroke="#1a1a1a" stroke-width="0.7"/>
<circle cx="779.85" cy="358.99" r="1.3" fill="#fff" stroke="#1a1a1a" stroke-width="0.7"/>
<circle cx="785.46" cy="369.66" r="1.3" fill="#fff" stroke="#1a1a1a" stroke-width="0.7"/>
<circle cx="773.48" cy="366.65" r="1.3" fill="#fff" stroke="#1a1a1a" stroke-width="0.7"/>
<circle cx="777.53" cy="364.47" r="1.3" fill="#fff" stroke="#1a1a1a" stroke-width="0.7"/>
<circle cx="778.27" cy="367.51" r="1.3" fill="#fff" stroke="#1a1a1a" stroke-width="0.7"/>
<circle cx="779.89" cy="350.78" r="1.3" fill="#fff" stroke="#1a1a1a" stroke-width="0.7"/>
<circle cx="779.29" cy="360.91" r="1.3" fill="#fff" stroke="#1a1a1a" stroke-width="0.7"/>
<circle cx="779.62" cy="333.56" r="1.3" fill="#fff" stroke="#1a1a1a" stroke-width="0.7"/>
<circle cx="782.74" cy="364.53" r="1.3" fill="#fff" stroke="#1a1a1a" stroke-width="0.7"/>
<circle cx="776.45" cy="371.01" r="1.3" fill="#fff" stroke="#1a1a1a" stroke-width="0.7"/>
<circle cx="782.57" cy="341.61" r="1.3" fill="#fff" stroke="#1a1a1a" stroke-width="0.7"/>
<circle cx="784.17" cy="347.86" r="1.3" fill="#fff" stroke="#1a1a1a" stroke-width="0.7"/>
<circle cx="783.75" cy="367.54" r="1.3" fill="#fff" stroke="#1a1a1a" stroke-width="0.7"/>
<circle cx="781.68" cy="351.11" r="1.3" fill="#fff" stroke="#1a1a1a" stroke-width="0.7"/>
<circle cx="787.93" cy="362.96" r="1.3" fill="#fff" stroke="#1a1a1a" stroke-width="0.7"/>
<line x1="780.6" y1="363.08" x2="780.6" y2="344.70" stroke="#111" stroke-width="1.6"/>
<line x1="774.6" y1="344.70" x2="786.6" y2="344.70" stroke="#111" stroke-width="1.7"/>
<text transform="translate(782.90,417.8) rotate(-45)" font-size="9.9" text-anchor="end" fill="#111">Severe</text>
<text transform="translate(673.5,345) rotate(-90)" font-size="9.4" text-anchor="middle" fill="#111">SDMA (μM)</text>
<polyline points="722.5,276.7 722.5,270.8 765.9,270.8 765.9,276.7" fill="none" stroke="#111" stroke-width="1.1"/>
<text x="744.20" y="264.00" font-size="8.5" text-anchor="middle" font-weight="normal" fill="#111" >#</text>
<line x1="718.6" y1="300.8" x2="749.9" y2="300.8" stroke="#111" stroke-width="1.1"/>
<text x="734.60" y="295.50" font-size="6.5" text-anchor="middle" font-weight="normal" fill="#111" >NS</text>
<line x1="750.4" y1="294.2" x2="781.2" y2="294.2" stroke="#111" stroke-width="1.1"/>
<text x="766.30" y="288.00" font-size="6.5" text-anchor="middle" font-weight="normal" fill="#111" >NS</text>
<text x="34.30" y="478.08" font-size="15.2" text-anchor="start" font-weight="bold" fill="#000" >E</text>
<text x="251.80" y="478.08" font-size="15.2" text-anchor="start" font-weight="bold" fill="#000" >F</text>
<text x="459.60" y="478.48" font-size="15.2" text-anchor="start" font-weight="bold" fill="#000" >G</text>
<text x="666.60" y="478.28" font-size="15.2" text-anchor="start" font-weight="bold" fill="#000" >H</text>
<line x1="66.6" y1="497.70" x2="66.6" y2="603.10" stroke="#000" stroke-width="1.1"/>
<line x1="66.1" y1="602.6" x2="222.10" y2="602.6" stroke="#000" stroke-width="1.1"/>
<line x1="62.8" y1="602.60" x2="66.6" y2="602.60" stroke="#000" stroke-width="1.1"/>
<text x="62.00" y="605.60" font-size="8.4" text-anchor="end" font-weight="normal" fill="#222" >0</text>
<line x1="62.8" y1="576.50" x2="66.6" y2="576.50" stroke="#000" stroke-width="1.1"/>
<text x="62.00" y="579.50" font-size="8.4" text-anchor="end" font-weight="normal" fill="#222" >1</text>
<line x1="62.8" y1="550.40" x2="66.6" y2="550.40" stroke="#000" stroke-width="1.1"/>
<text x="62.00" y="553.40" font-size="8.4" text-anchor="end" font-weight="normal" fill="#222" >2</text>
<line x1="62.8" y1="524.30" x2="66.6" y2="524.30" stroke="#000" stroke-width="1.1"/>
<text x="62.00" y="527.30" font-size="8.4" text-anchor="end" font-weight="normal" fill="#222" >3</text>
<line x1="62.8" y1="498.20" x2="66.6" y2="498.20" stroke="#000" stroke-width="1.1"/>
<text x="62.00" y="501.20" font-size="8.4" text-anchor="end" font-weight="normal" fill="#222" >4</text>
<line x1="66.60" y1="602.6" x2="66.60" y2="606.4" stroke="#000" stroke-width="1.1"/>
<text x="66.60" y="614.80" font-size="8.4" text-anchor="middle" font-weight="normal" fill="#222" >0</text>
<line x1="97.60" y1="602.6" x2="97.60" y2="606.4" stroke="#000" stroke-width="1.1"/>
<text x="97.60" y="614.80" font-size="8.4" text-anchor="middle" font-weight="normal" fill="#222" >20</text>
<line x1="128.60" y1="602.6" x2="128.60" y2="606.4" stroke="#000" stroke-width="1.1"/>
<text x="128.60" y="614.80" font-size="8.4" text-anchor="middle" font-weight="normal" fill="#222" >40</text>
<line x1="159.60" y1="602.6" x2="159.60" y2="606.4" stroke="#000" stroke-width="1.1"/>
<text x="159.60" y="614.80" font-size="8.4" text-anchor="middle" font-weight="normal" fill="#222" >60</text>
<line x1="190.60" y1="602.6" x2="190.60" y2="606.4" stroke="#000" stroke-width="1.1"/>
<text x="190.60" y="614.80" font-size="8.4" text-anchor="middle" font-weight="normal" fill="#222" >80</text>
<line x1="221.60" y1="602.6" x2="221.60" y2="606.4" stroke="#000" stroke-width="1.1"/>
<text x="221.60" y="614.80" font-size="8.4" text-anchor="middle" font-weight="normal" fill="#222" >100</text>
<circle cx="165.31" cy="564.46" r="1.8" fill="#dadada" stroke="#2e2e2e" stroke-width="0.62"/>
<circle cx="174.71" cy="567.85" r="1.8" fill="#dadada" stroke="#2e2e2e" stroke-width="0.62"/>
<circle cx="168.97" cy="566.97" r="1.8" fill="#dadada" stroke="#2e2e2e" stroke-width="0.62"/>
<circle cx="177.59" cy="561.09" r="1.8" fill="#dadada" stroke="#2e2e2e" stroke-width="0.62"/>
<circle cx="170.93" cy="567.76" r="1.8" fill="#dadada" stroke="#2e2e2e" stroke-width="0.62"/>
<circle cx="181.51" cy="567.16" r="1.8" fill="#dadada" stroke="#2e2e2e" stroke-width="0.62"/>
<circle cx="177.67" cy="563.46" r="1.8" fill="#dadada" stroke="#2e2e2e" stroke-width="0.62"/>
<circle cx="177.13" cy="571.08" r="1.8" fill="#dadada" stroke="#2e2e2e" stroke-width="0.62"/>
<circle cx="160.19" cy="560.40" r="1.8" fill="#dadada" stroke="#2e2e2e" stroke-width="0.62"/>
<circle cx="163.83" cy="566.68" r="1.8" fill="#dadada" stroke="#2e2e2e" stroke-width="0.62"/>
<circle cx="179.79" cy="560.44" r="1.8" fill="#dadada" stroke="#2e2e2e" stroke-width="0.62"/>
<circle cx="172.34" cy="561.79" r="1.8" fill="#dadada" stroke="#2e2e2e" stroke-width="0.62"/>
<circle cx="186.55" cy="575.82" r="1.8" fill="#dadada" stroke="#2e2e2e" stroke-width="0.62"/>
<circle cx="157.10" cy="570.73" r="1.8" fill="#dadada" stroke="#2e2e2e" stroke-width="0.62"/>
<circle cx="161.97" cy="558.31" r="1.8" fill="#dadada" stroke="#2e2e2e" stroke-width="0.62"/>
<circle cx="159.73" cy="558.47" r="1.8" fill="#dadada" stroke="#2e2e2e" stroke-width="0.62"/>
<circle cx="174.15" cy="565.45" r="1.8" fill="#dadada" stroke="#2e2e2e" stroke-width="0.62"/>
<circle cx="154.53" cy="558.27" r="1.8" fill="#dadada" stroke="#2e2e2e" stroke-width="0.62"/>
<circle cx="173.08" cy="563.61" r="1.8" fill="#dadada" stroke="#2e2e2e" stroke-width="0.62"/>
<circle cx="174.44" cy="565.71" r="1.8" fill="#dadada" stroke="#2e2e2e" stroke-width="0.62"/>
<circle cx="166.06" cy="564.11" r="1.8" fill="#dadada" stroke="#2e2e2e" stroke-width="0.62"/>
<circle cx="185.62" cy="567.03" r="1.8" fill="#dadada" stroke="#2e2e2e" stroke-width="0.62"/>
<circle cx="184.03" cy="566.09" r="1.8" fill="#dadada" stroke="#2e2e2e" stroke-width="0.62"/>
<circle cx="164.15" cy="570.82" r="1.8" fill="#dadada" stroke="#2e2e2e" stroke-width="0.62"/>
<circle cx="158.97" cy="554.65" r="1.8" fill="#dadada" stroke="#2e2e2e" stroke-width="0.62"/>
<circle cx="155.31" cy="559.01" r="1.8" fill="#dadada" stroke="#2e2e2e" stroke-width="0.62"/>
<circle cx="185.57" cy="571.29" r="1.8" fill="#dadada" stroke="#2e2e2e" stroke-width="0.62"/>
<circle cx="192.99" cy="576.12" r="1.8" fill="#dadada" stroke="#2e2e2e" stroke-width="0.62"/>
<circle cx="174.34" cy="565.50" r="1.8" fill="#dadada" stroke="#2e2e2e" stroke-width="0.62"/>
<circle cx="178.86" cy="565.34" r="1.8" fill="#dadada" stroke="#2e2e2e" stroke-width="0.62"/>
<circle cx="151.77" cy="554.84" r="1.8" fill="#dadada" stroke="#2e2e2e" stroke-width="0.62"/>
<circle cx="179.63" cy="568.73" r="1.8" fill="#dadada" stroke="#2e2e2e" stroke-width="0.62"/>
<circle cx="167.02" cy="572.58" r="1.8" fill="#dadada" stroke="#2e2e2e" stroke-width="0.62"/>
<circle cx="186.10" cy="577.42" r="1.8" fill="#dadada" stroke="#2e2e2e" stroke-width="0.62"/>
<circle cx="181.91" cy="564.08" r="1.8" fill="#dadada" stroke="#2e2e2e" stroke-width="0.62"/>
<circle cx="182.48" cy="576.08" r="1.8" fill="#dadada" stroke="#2e2e2e" stroke-width="0.62"/>
<circle cx="189.57" cy="572.73" r="1.8" fill="#dadada" stroke="#2e2e2e" stroke-width="0.62"/>
<circle cx="182.28" cy="568.97" r="1.8" fill="#dadada" stroke="#2e2e2e" stroke-width="0.62"/>
<circle cx="167.08" cy="566.24" r="1.8" fill="#dadada" stroke="#2e2e2e" stroke-width="0.62"/>
<circle cx="194.69" cy="567.15" r="1.8" fill="#dadada" stroke="#2e2e2e" stroke-width="0.62"/>
<circle cx="169.20" cy="568.56" r="1.8" fill="#dadada" stroke="#2e2e2e" stroke-width="0.62"/>
<circle cx="187.99" cy="566.78" r="1.8" fill="#dadada" stroke="#2e2e2e" stroke-width="0.62"/>
<circle cx="178.45" cy="568.21" r="1.8" fill="#dadada" stroke="#2e2e2e" stroke-width="0.62"/>
<circle cx="187.04" cy="569.85" r="1.8" fill="#dadada" stroke="#2e2e2e" stroke-width="0.62"/>
<circle cx="177.45" cy="563.03" r="1.8" fill="#dadada" stroke="#2e2e2e" stroke-width="0.62"/>
<circle cx="166.00" cy="564.26" r="1.8" fill="#dadada" stroke="#2e2e2e" stroke-width="0.62"/>
<circle cx="195.57" cy="565.64" r="1.8" fill="#dadada" stroke="#2e2e2e" stroke-width="0.62"/>
<circle cx="177.12" cy="566.22" r="1.8" fill="#dadada" stroke="#2e2e2e" stroke-width="0.62"/>
<circle cx="152.57" cy="567.75" r="1.8" fill="#dadada" stroke="#2e2e2e" stroke-width="0.62"/>
<circle cx="153.70" cy="557.74" r="1.8" fill="#dadada" stroke="#2e2e2e" stroke-width="0.62"/>
<circle cx="179.31" cy="570.19" r="1.8" fill="#dadada" stroke="#2e2e2e" stroke-width="0.62"/>
<circle cx="171.45" cy="555.84" r="1.8" fill="#dadada" stroke="#2e2e2e" stroke-width="0.62"/>
<circle cx="155.12" cy="562.30" r="1.8" fill="#dadada" stroke="#2e2e2e" stroke-width="0.62"/>
<circle cx="154.83" cy="562.37" r="1.8" fill="#dadada" stroke="#2e2e2e" stroke-width="0.62"/>
<circle cx="159.49" cy="572.10" r="1.8" fill="#dadada" stroke="#2e2e2e" stroke-width="0.62"/>
<circle cx="170.47" cy="562.82" r="1.8" fill="#dadada" stroke="#2e2e2e" stroke-width="0.62"/>
<circle cx="176.27" cy="563.33" r="1.8" fill="#dadada" stroke="#2e2e2e" stroke-width="0.62"/>
<circle cx="180.26" cy="564.11" r="1.8" fill="#dadada" stroke="#2e2e2e" stroke-width="0.62"/>
<circle cx="166.10" cy="558.20" r="1.8" fill="#dadada" stroke="#2e2e2e" stroke-width="0.62"/>
<circle cx="151.25" cy="556.26" r="1.8" fill="#dadada" stroke="#2e2e2e" stroke-width="0.62"/>
<circle cx="163.55" cy="570.01" r="1.8" fill="#dadada" stroke="#2e2e2e" stroke-width="0.62"/>
<circle cx="158.55" cy="554.51" r="1.8" fill="#dadada" stroke="#2e2e2e" stroke-width="0.62"/>
<circle cx="166.63" cy="563.88" r="1.8" fill="#dadada" stroke="#2e2e2e" stroke-width="0.62"/>
<circle cx="160.79" cy="562.89" r="1.8" fill="#dadada" stroke="#2e2e2e" stroke-width="0.62"/>
<circle cx="162.63" cy="570.29" r="1.8" fill="#dadada" stroke="#2e2e2e" stroke-width="0.62"/>
<circle cx="176.16" cy="559.27" r="1.8" fill="#dadada" stroke="#2e2e2e" stroke-width="0.62"/>
<circle cx="161.36" cy="560.26" r="1.8" fill="#dadada" stroke="#2e2e2e" stroke-width="0.62"/>
<circle cx="180.36" cy="566.01" r="1.8" fill="#dadada" stroke="#2e2e2e" stroke-width="0.62"/>
<circle cx="203.05" cy="572.70" r="1.8" fill="#dadada" stroke="#2e2e2e" stroke-width="0.62"/>
<circle cx="151.67" cy="555.93" r="1.8" fill="#dadada" stroke="#2e2e2e" stroke-width="0.62"/>
<circle cx="171.91" cy="555.33" r="1.8" fill="#dadada" stroke="#2e2e2e" stroke-width="0.62"/>
<circle cx="203.08" cy="575.29" r="1.8" fill="#dadada" stroke="#2e2e2e" stroke-width="0.62"/>
<circle cx="201.51" cy="568.31" r="1.8" fill="#dadada" stroke="#2e2e2e" stroke-width="0.62"/>
<circle cx="191.50" cy="567.20" r="1.8" fill="#dadada" stroke="#2e2e2e" stroke-width="0.62"/>
<circle cx="162.07" cy="560.42" r="1.8" fill="#dadada" stroke="#2e2e2e" stroke-width="0.62"/>
<circle cx="168.04" cy="565.45" r="1.8" fill="#dadada" stroke="#2e2e2e" stroke-width="0.62"/>
<circle cx="174.50" cy="576.30" r="1.8" fill="#dadada" stroke="#2e2e2e" stroke-width="0.62"/>
<circle cx="199.34" cy="568.00" r="1.8" fill="#dadada" stroke="#2e2e2e" stroke-width="0.62"/>
<circle cx="172.66" cy="556.35" r="1.8" fill="#dadada" stroke="#2e2e2e" stroke-width="0.62"/>
<circle cx="158.22" cy="575.48" r="1.8" fill="#dadada" stroke="#2e2e2e" stroke-width="0.62"/>
<circle cx="179.71" cy="571.29" r="1.8" fill="#dadada" stroke="#2e2e2e" stroke-width="0.62"/>
<circle cx="173.90" cy="568.02" r="1.8" fill="#dadada" stroke="#2e2e2e" stroke-width="0.62"/>
<circle cx="171.09" cy="569.90" r="1.8" fill="#dadada" stroke="#2e2e2e" stroke-width="0.62"/>
<circle cx="173.90" cy="560.59" r="1.8" fill="#dadada" stroke="#2e2e2e" stroke-width="0.62"/>
<circle cx="181.40" cy="556.71" r="1.8" fill="#dadada" stroke="#2e2e2e" stroke-width="0.62"/>
<circle cx="185.31" cy="565.36" r="1.8" fill="#dadada" stroke="#2e2e2e" stroke-width="0.62"/>
<circle cx="178.65" cy="562.88" r="1.8" fill="#dadada" stroke="#2e2e2e" stroke-width="0.62"/>
<circle cx="172.26" cy="571.97" r="1.8" fill="#dadada" stroke="#2e2e2e" stroke-width="0.62"/>
<circle cx="156.42" cy="570.94" r="1.8" fill="#dadada" stroke="#2e2e2e" stroke-width="0.62"/>
<circle cx="170.61" cy="563.47" r="1.8" fill="#dadada" stroke="#2e2e2e" stroke-width="0.62"/>
<circle cx="182.75" cy="560.65" r="1.8" fill="#dadada" stroke="#2e2e2e" stroke-width="0.62"/>
<circle cx="166.84" cy="575.56" r="1.8" fill="#dadada" stroke="#2e2e2e" stroke-width="0.62"/>
<circle cx="162.90" cy="562.29" r="1.8" fill="#dadada" stroke="#2e2e2e" stroke-width="0.62"/>
<circle cx="166.81" cy="570.38" r="1.8" fill="#dadada" stroke="#2e2e2e" stroke-width="0.62"/>
<circle cx="181.18" cy="571.89" r="1.8" fill="#dadada" stroke="#2e2e2e" stroke-width="0.62"/>
<circle cx="166.21" cy="562.49" r="1.8" fill="#dadada" stroke="#2e2e2e" stroke-width="0.62"/>
<circle cx="178.89" cy="565.03" r="1.8" fill="#dadada" stroke="#2e2e2e" stroke-width="0.62"/>
<circle cx="154.50" cy="565.69" r="1.8" fill="#dadada" stroke="#2e2e2e" stroke-width="0.62"/>
<circle cx="198.24" cy="571.37" r="1.8" fill="#dadada" stroke="#2e2e2e" stroke-width="0.62"/>
<circle cx="192.40" cy="569.78" r="1.8" fill="#dadada" stroke="#2e2e2e" stroke-width="0.62"/>
<circle cx="179.08" cy="564.64" r="1.8" fill="#dadada" stroke="#2e2e2e" stroke-width="0.62"/>
<circle cx="170.11" cy="556.98" r="1.8" fill="#dadada" stroke="#2e2e2e" stroke-width="0.62"/>
<circle cx="189.37" cy="569.19" r="1.8" fill="#dadada" stroke="#2e2e2e" stroke-width="0.62"/>
<circle cx="177.64" cy="556.61" r="1.8" fill="#dadada" stroke="#2e2e2e" stroke-width="0.62"/>
<circle cx="158.44" cy="556.12" r="1.8" fill="#dadada" stroke="#2e2e2e" stroke-width="0.62"/>
<circle cx="194.49" cy="560.92" r="1.8" fill="#dadada" stroke="#2e2e2e" stroke-width="0.62"/>
<circle cx="200.11" cy="576.20" r="1.8" fill="#dadada" stroke="#2e2e2e" stroke-width="0.62"/>
<circle cx="189.20" cy="570.76" r="1.8" fill="#dadada" stroke="#2e2e2e" stroke-width="0.62"/>
<circle cx="189.34" cy="567.77" r="1.8" fill="#dadada" stroke="#2e2e2e" stroke-width="0.62"/>
<circle cx="190.47" cy="572.93" r="1.8" fill="#dadada" stroke="#2e2e2e" stroke-width="0.62"/>
<circle cx="178.09" cy="562.76" r="1.8" fill="#dadada" stroke="#2e2e2e" stroke-width="0.62"/>
<circle cx="184.51" cy="562.23" r="1.8" fill="#dadada" stroke="#2e2e2e" stroke-width="0.62"/>
<circle cx="191.83" cy="574.76" r="1.8" fill="#dadada" stroke="#2e2e2e" stroke-width="0.62"/>
<circle cx="175.53" cy="568.96" r="1.8" fill="#dadada" stroke="#2e2e2e" stroke-width="0.62"/>
<circle cx="177.19" cy="569.68" r="1.8" fill="#dadada" stroke="#2e2e2e" stroke-width="0.62"/>
<circle cx="170.71" cy="564.24" r="1.8" fill="#dadada" stroke="#2e2e2e" stroke-width="0.62"/>
<circle cx="182.07" cy="568.79" r="1.8" fill="#dadada" stroke="#2e2e2e" stroke-width="0.62"/>
<circle cx="154.12" cy="564.40" r="1.8" fill="#dadada" stroke="#2e2e2e" stroke-width="0.62"/>
<circle cx="159.14" cy="567.87" r="1.8" fill="#dadada" stroke="#2e2e2e" stroke-width="0.62"/>
<circle cx="154.50" cy="552.40" r="1.8" fill="#dadada" stroke="#2e2e2e" stroke-width="0.62"/>
<circle cx="196.98" cy="573.72" r="1.8" fill="#dadada" stroke="#2e2e2e" stroke-width="0.62"/>
<circle cx="150.47" cy="560.24" r="1.8" fill="#dadada" stroke="#2e2e2e" stroke-width="0.62"/>
<circle cx="171.57" cy="566.43" r="1.8" fill="#dadada" stroke="#2e2e2e" stroke-width="0.62"/>
<circle cx="166.41" cy="567.59" r="1.8" fill="#dadada" stroke="#2e2e2e" stroke-width="0.62"/>
<circle cx="178.25" cy="567.30" r="1.8" fill="#dadada" stroke="#2e2e2e" stroke-width="0.62"/>
<circle cx="179.90" cy="566.91" r="1.8" fill="#dadada" stroke="#2e2e2e" stroke-width="0.62"/>
<circle cx="176.25" cy="565.27" r="1.8" fill="#dadada" stroke="#2e2e2e" stroke-width="0.62"/>
<circle cx="196.39" cy="558.66" r="1.8" fill="#dadada" stroke="#2e2e2e" stroke-width="0.62"/>
<circle cx="184.59" cy="569.39" r="1.8" fill="#dadada" stroke="#2e2e2e" stroke-width="0.62"/>
<circle cx="163.51" cy="571.61" r="1.8" fill="#dadada" stroke="#2e2e2e" stroke-width="0.62"/>
<circle cx="173.15" cy="569.12" r="1.8" fill="#dadada" stroke="#2e2e2e" stroke-width="0.62"/>
<circle cx="202.16" cy="573.74" r="1.8" fill="#dadada" stroke="#2e2e2e" stroke-width="0.62"/>
<circle cx="169.51" cy="567.99" r="1.8" fill="#dadada" stroke="#2e2e2e" stroke-width="0.62"/>
<circle cx="152.15" cy="553.43" r="1.8" fill="#dadada" stroke="#2e2e2e" stroke-width="0.62"/>
<circle cx="155.48" cy="560.78" r="1.8" fill="#dadada" stroke="#2e2e2e" stroke-width="0.62"/>
<circle cx="190.69" cy="572.01" r="1.8" fill="#dadada" stroke="#2e2e2e" stroke-width="0.62"/>
<circle cx="178.44" cy="567.35" r="1.8" fill="#dadada" stroke="#2e2e2e" stroke-width="0.62"/>
<circle cx="148.65" cy="560.08" r="1.8" fill="#dadada" stroke="#2e2e2e" stroke-width="0.62"/>
<circle cx="201.36" cy="571.25" r="1.8" fill="#dadada" stroke="#2e2e2e" stroke-width="0.62"/>
<circle cx="169.74" cy="555.90" r="1.8" fill="#dadada" stroke="#2e2e2e" stroke-width="0.62"/>
<circle cx="168.50" cy="565.61" r="1.8" fill="#dadada" stroke="#2e2e2e" stroke-width="0.62"/>
<circle cx="187.03" cy="569.65" r="1.8" fill="#dadada" stroke="#2e2e2e" stroke-width="0.62"/>
<circle cx="187.17" cy="563.51" r="1.8" fill="#dadada" stroke="#2e2e2e" stroke-width="0.62"/>
<circle cx="182.35" cy="565.94" r="1.8" fill="#dadada" stroke="#2e2e2e" stroke-width="0.62"/>
<circle cx="175.66" cy="567.86" r="1.8" fill="#dadada" stroke="#2e2e2e" stroke-width="0.62"/>
<circle cx="173.93" cy="567.89" r="1.8" fill="#dadada" stroke="#2e2e2e" stroke-width="0.62"/>
<circle cx="187.75" cy="578.30" r="1.8" fill="#dadada" stroke="#2e2e2e" stroke-width="0.62"/>
<circle cx="178.58" cy="564.04" r="1.8" fill="#dadada" stroke="#2e2e2e" stroke-width="0.62"/>
<circle cx="182.40" cy="578.24" r="1.8" fill="#dadada" stroke="#2e2e2e" stroke-width="0.62"/>
<circle cx="191.36" cy="576.54" r="1.8" fill="#dadada" stroke="#2e2e2e" stroke-width="0.62"/>
<circle cx="190.78" cy="570.03" r="1.8" fill="#dadada" stroke="#2e2e2e" stroke-width="0.62"/>
<circle cx="178.15" cy="578.51" r="1.8" fill="#dadada" stroke="#2e2e2e" stroke-width="0.62"/>
<circle cx="201.51" cy="568.71" r="1.8" fill="#dadada" stroke="#2e2e2e" stroke-width="0.62"/>
<circle cx="172.75" cy="564.98" r="1.8" fill="#dadada" stroke="#2e2e2e" stroke-width="0.62"/>
<circle cx="174.19" cy="555.78" r="1.8" fill="#dadada" stroke="#2e2e2e" stroke-width="0.62"/>
<circle cx="153.55" cy="560.95" r="1.8" fill="#dadada" stroke="#2e2e2e" stroke-width="0.62"/>
<circle cx="169.98" cy="556.58" r="1.8" fill="#dadada" stroke="#2e2e2e" stroke-width="0.62"/>
<circle cx="179.73" cy="577.38" r="1.8" fill="#dadada" stroke="#2e2e2e" stroke-width="0.62"/>
<circle cx="174.24" cy="567.34" r="1.8" fill="#dadada" stroke="#2e2e2e" stroke-width="0.62"/>
<circle cx="188.98" cy="563.00" r="1.8" fill="#dadada" stroke="#2e2e2e" stroke-width="0.62"/>
<circle cx="179.07" cy="568.70" r="1.8" fill="#dadada" stroke="#2e2e2e" stroke-width="0.62"/>
<circle cx="187.16" cy="562.80" r="1.8" fill="#dadada" stroke="#2e2e2e" stroke-width="0.62"/>
<circle cx="171.92" cy="561.33" r="1.8" fill="#dadada" stroke="#2e2e2e" stroke-width="0.62"/>
<circle cx="184.84" cy="562.55" r="1.8" fill="#dadada" stroke="#2e2e2e" stroke-width="0.62"/>
<circle cx="177.87" cy="569.22" r="1.8" fill="#dadada" stroke="#2e2e2e" stroke-width="0.62"/>
<circle cx="177.41" cy="567.84" r="1.8" fill="#dadada" stroke="#2e2e2e" stroke-width="0.62"/>
<circle cx="174.97" cy="556.55" r="1.8" fill="#dadada" stroke="#2e2e2e" stroke-width="0.62"/>
<circle cx="190.12" cy="568.74" r="1.8" fill="#dadada" stroke="#2e2e2e" stroke-width="0.62"/>
<circle cx="182.07" cy="563.48" r="1.8" fill="#dadada" stroke="#2e2e2e" stroke-width="0.62"/>
<circle cx="182.71" cy="569.28" r="1.8" fill="#dadada" stroke="#2e2e2e" stroke-width="0.62"/>
<circle cx="168.08" cy="575.71" r="1.8" fill="#dadada" stroke="#2e2e2e" stroke-width="0.62"/>
<circle cx="175.94" cy="553.90" r="1.8" fill="#dadada" stroke="#2e2e2e" stroke-width="0.62"/>
<circle cx="162.52" cy="552.97" r="1.8" fill="#dadada" stroke="#2e2e2e" stroke-width="0.62"/>
<circle cx="161.26" cy="564.18" r="1.8" fill="#dadada" stroke="#2e2e2e" stroke-width="0.62"/>
<circle cx="194.95" cy="576.01" r="1.8" fill="#dadada" stroke="#2e2e2e" stroke-width="0.62"/>
<circle cx="165.73" cy="555.92" r="1.8" fill="#dadada" stroke="#2e2e2e" stroke-width="0.62"/>
<circle cx="171.25" cy="559.61" r="1.8" fill="#dadada" stroke="#2e2e2e" stroke-width="0.62"/>
<circle cx="156.50" cy="566.27" r="1.8" fill="#dadada" stroke="#2e2e2e" stroke-width="0.62"/>
<circle cx="198.44" cy="575.65" r="1.8" fill="#dadada" stroke="#2e2e2e" stroke-width="0.62"/>
<circle cx="183.24" cy="567.01" r="1.8" fill="#dadada" stroke="#2e2e2e" stroke-width="0.62"/>
<circle cx="198.65" cy="566.44" r="1.8" fill="#dadada" stroke="#2e2e2e" stroke-width="0.62"/>
<circle cx="175.00" cy="558.86" r="1.8" fill="#dadada" stroke="#2e2e2e" stroke-width="0.62"/>
<circle cx="185.53" cy="569.57" r="1.8" fill="#dadada" stroke="#2e2e2e" stroke-width="0.62"/>
<circle cx="189.07" cy="565.06" r="1.8" fill="#dadada" stroke="#2e2e2e" stroke-width="0.62"/>
<circle cx="160.49" cy="571.95" r="1.8" fill="#dadada" stroke="#2e2e2e" stroke-width="0.62"/>
<circle cx="176.96" cy="566.21" r="1.8" fill="#dadada" stroke="#2e2e2e" stroke-width="0.62"/>
<circle cx="179.13" cy="563.47" r="1.8" fill="#dadada" stroke="#2e2e2e" stroke-width="0.62"/>
<circle cx="160.76" cy="564.77" r="1.8" fill="#dadada" stroke="#2e2e2e" stroke-width="0.62"/>
<circle cx="195.92" cy="574.17" r="1.8" fill="#dadada" stroke="#2e2e2e" stroke-width="0.62"/>
<circle cx="155.58" cy="565.90" r="1.8" fill="#dadada" stroke="#2e2e2e" stroke-width="0.62"/>
<circle cx="185.22" cy="556.01" r="1.8" fill="#dadada" stroke="#2e2e2e" stroke-width="0.62"/>
<circle cx="195.49" cy="578.52" r="1.8" fill="#dadada" stroke="#2e2e2e" stroke-width="0.62"/>
<circle cx="177.23" cy="569.12" r="1.8" fill="#dadada" stroke="#2e2e2e" stroke-width="0.62"/>
<circle cx="190.45" cy="567.25" r="1.8" fill="#dadada" stroke="#2e2e2e" stroke-width="0.62"/>
<circle cx="172.74" cy="568.28" r="1.8" fill="#dadada" stroke="#2e2e2e" stroke-width="0.62"/>
<circle cx="197.97" cy="579.29" r="1.8" fill="#dadada" stroke="#2e2e2e" stroke-width="0.62"/>
<circle cx="168.65" cy="569.71" r="1.8" fill="#dadada" stroke="#2e2e2e" stroke-width="0.62"/>
<circle cx="193.28" cy="561.30" r="1.8" fill="#dadada" stroke="#2e2e2e" stroke-width="0.62"/>
<circle cx="184.42" cy="561.56" r="1.8" fill="#dadada" stroke="#2e2e2e" stroke-width="0.62"/>
<circle cx="176.38" cy="573.59" r="1.8" fill="#dadada" stroke="#2e2e2e" stroke-width="0.62"/>
<circle cx="178.20" cy="554.16" r="1.8" fill="#dadada" stroke="#2e2e2e" stroke-width="0.62"/>
<circle cx="167.46" cy="557.75" r="1.8" fill="#dadada" stroke="#2e2e2e" stroke-width="0.62"/>
<circle cx="150.55" cy="555.47" r="1.8" fill="#dadada" stroke="#2e2e2e" stroke-width="0.62"/>
<circle cx="198.70" cy="569.18" r="1.8" fill="#dadada" stroke="#2e2e2e" stroke-width="0.62"/>
<circle cx="168.75" cy="562.70" r="1.8" fill="#dadada" stroke="#2e2e2e" stroke-width="0.62"/>
<circle cx="150.63" cy="565.37" r="1.8" fill="#dadada" stroke="#2e2e2e" stroke-width="0.62"/>
<circle cx="180.11" cy="572.63" r="1.8" fill="#dadada" stroke="#2e2e2e" stroke-width="0.62"/>
<circle cx="170.89" cy="559.67" r="1.8" fill="#dadada" stroke="#2e2e2e" stroke-width="0.62"/>
<circle cx="181.74" cy="555.99" r="1.8" fill="#dadada" stroke="#2e2e2e" stroke-width="0.62"/>
<circle cx="187.91" cy="554.35" r="1.8" fill="#dadada" stroke="#2e2e2e" stroke-width="0.62"/>
<circle cx="161.21" cy="562.05" r="1.8" fill="#dadada" stroke="#2e2e2e" stroke-width="0.62"/>
<circle cx="179.75" cy="573.72" r="1.8" fill="#dadada" stroke="#2e2e2e" stroke-width="0.62"/>
<circle cx="182.21" cy="569.07" r="1.8" fill="#dadada" stroke="#2e2e2e" stroke-width="0.62"/>
<circle cx="173.66" cy="566.03" r="1.8" fill="#dadada" stroke="#2e2e2e" stroke-width="0.62"/>
<circle cx="182.25" cy="561.52" r="1.8" fill="#dadada" stroke="#2e2e2e" stroke-width="0.62"/>
<circle cx="169.73" cy="559.43" r="1.8" fill="#dadada" stroke="#2e2e2e" stroke-width="0.62"/>
<circle cx="149.47" cy="562.58" r="1.8" fill="#dadada" stroke="#2e2e2e" stroke-width="0.62"/>
<circle cx="157.54" cy="557.18" r="1.8" fill="#dadada" stroke="#2e2e2e" stroke-width="0.62"/>
<circle cx="177.53" cy="569.77" r="1.8" fill="#dadada" stroke="#2e2e2e" stroke-width="0.62"/>
<circle cx="112.63" cy="515.16" r="1.8" fill="#dadada" stroke="#2e2e2e" stroke-width="0.62"/>
<circle cx="137.90" cy="523.78" r="1.8" fill="#dadada" stroke="#2e2e2e" stroke-width="0.62"/>
<circle cx="120.85" cy="529.78" r="1.8" fill="#dadada" stroke="#2e2e2e" stroke-width="0.62"/>
<circle cx="141.00" cy="531.09" r="1.8" fill="#dadada" stroke="#2e2e2e" stroke-width="0.62"/>
<circle cx="122.40" cy="536.05" r="1.8" fill="#dadada" stroke="#2e2e2e" stroke-width="0.62"/>
<circle cx="128.60" cy="539.44" r="1.8" fill="#dadada" stroke="#2e2e2e" stroke-width="0.62"/>
<circle cx="132.47" cy="537.61" r="1.8" fill="#dadada" stroke="#2e2e2e" stroke-width="0.62"/>
<circle cx="136.35" cy="542.05" r="1.8" fill="#dadada" stroke="#2e2e2e" stroke-width="0.62"/>
<circle cx="164.71" cy="530.83" r="1.8" fill="#dadada" stroke="#2e2e2e" stroke-width="0.62"/>
<circle cx="170.76" cy="538.65" r="1.8" fill="#dadada" stroke="#2e2e2e" stroke-width="0.62"/>
<circle cx="167.97" cy="541.26" r="1.8" fill="#dadada" stroke="#2e2e2e" stroke-width="0.62"/>
<circle cx="97.13" cy="567.89" r="1.8" fill="#dadada" stroke="#2e2e2e" stroke-width="0.62"/>
<circle cx="103.80" cy="563.97" r="1.8" fill="#dadada" stroke="#2e2e2e" stroke-width="0.62"/>
<circle cx="109.53" cy="554.32" r="1.8" fill="#dadada" stroke="#2e2e2e" stroke-width="0.62"/>
<circle cx="110.00" cy="557.97" r="1.8" fill="#dadada" stroke="#2e2e2e" stroke-width="0.62"/>
<circle cx="112.63" cy="567.37" r="1.8" fill="#dadada" stroke="#2e2e2e" stroke-width="0.62"/>
<circle cx="120.85" cy="552.75" r="1.8" fill="#dadada" stroke="#2e2e2e" stroke-width="0.62"/>
<circle cx="136.35" cy="567.89" r="1.8" fill="#dadada" stroke="#2e2e2e" stroke-width="0.62"/>
<circle cx="183.16" cy="548.57" r="1.8" fill="#dadada" stroke="#2e2e2e" stroke-width="0.62"/>
<circle cx="200.83" cy="555.36" r="1.8" fill="#dadada" stroke="#2e2e2e" stroke-width="0.62"/>
<circle cx="205.48" cy="560.58" r="1.8" fill="#dadada" stroke="#2e2e2e" stroke-width="0.62"/>
<circle cx="175.88" cy="580.15" r="1.8" fill="#dadada" stroke="#2e2e2e" stroke-width="0.62"/>
<circle cx="191.53" cy="580.15" r="1.8" fill="#dadada" stroke="#2e2e2e" stroke-width="0.62"/>
<circle cx="202.38" cy="582.76" r="1.8" fill="#dadada" stroke="#2e2e2e" stroke-width="0.62"/>
<circle cx="131.70" cy="550.92" r="1.8" fill="#dadada" stroke="#2e2e2e" stroke-width="0.62"/>
<circle cx="139.45" cy="551.71" r="1.8" fill="#dadada" stroke="#2e2e2e" stroke-width="0.62"/>
<circle cx="147.20" cy="551.71" r="1.8" fill="#dadada" stroke="#2e2e2e" stroke-width="0.62"/>
<circle cx="151.85" cy="549.10" r="1.8" fill="#dadada" stroke="#2e2e2e" stroke-width="0.62"/>
<circle cx="144.10" cy="562.14" r="1.8" fill="#dadada" stroke="#2e2e2e" stroke-width="0.62"/>
<circle cx="147.20" cy="571.28" r="1.8" fill="#dadada" stroke="#2e2e2e" stroke-width="0.62"/>
<circle cx="116.20" cy="550.40" r="1.8" fill="#dadada" stroke="#2e2e2e" stroke-width="0.62"/>
<line x1="79.00" y1="540.74" x2="206.10" y2="573.11" stroke="#a01818" stroke-width="2.5" stroke-dasharray="9 3.4"/>
<text x="147.20" y="627.60" font-size="8.8" text-anchor="middle" font-weight="normal" fill="#111" >KSS</text>
<text transform="translate(51.6,549.5) rotate(-90)" font-size="8.6" text-anchor="middle" fill="#111">ADMA (μM)</text>
<text x="170.10" y="496.80" font-size="7.6" text-anchor="start" font-weight="normal" fill="#111" ><tspan font-style="italic">n</tspan> = 350, <tspan font-style="italic">P</tspan><tspan font-size="7.2" dy="-2.2">****</tspan></text>
<text x="170.10" y="505.10" font-size="7.6" text-anchor="start" font-weight="normal" fill="#111" ><tspan font-style="italic">R</tspan> = −0.5651</text>
<line x1="272.7" y1="499.80" x2="272.7" y2="605.80" stroke="#000" stroke-width="1.1"/>
<line x1="272.2" y1="605.3" x2="429.20" y2="605.3" stroke="#000" stroke-width="1.1"/>
<line x1="268.9" y1="605.30" x2="272.7" y2="605.30" stroke="#000" stroke-width="1.1"/>
<text x="268.10" y="608.30" font-size="8.4" text-anchor="end" font-weight="normal" fill="#222" >0</text>
<line x1="268.9" y1="579.05" x2="272.7" y2="579.05" stroke="#000" stroke-width="1.1"/>
<text x="268.10" y="582.05" font-size="8.4" text-anchor="end" font-weight="normal" fill="#222" >1</text>
<line x1="268.9" y1="552.80" x2="272.7" y2="552.80" stroke="#000" stroke-width="1.1"/>
<text x="268.10" y="555.80" font-size="8.4" text-anchor="end" font-weight="normal" fill="#222" >2</text>
<line x1="268.9" y1="526.55" x2="272.7" y2="526.55" stroke="#000" stroke-width="1.1"/>
<text x="268.10" y="529.55" font-size="8.4" text-anchor="end" font-weight="normal" fill="#222" >3</text>
<line x1="268.9" y1="500.30" x2="272.7" y2="500.30" stroke="#000" stroke-width="1.1"/>
<text x="268.10" y="503.30" font-size="8.4" text-anchor="end" font-weight="normal" fill="#222" >4</text>
<line x1="272.70" y1="605.3" x2="272.70" y2="609.0999999999999" stroke="#000" stroke-width="1.1"/>
<text x="272.70" y="617.50" font-size="8.4" text-anchor="middle" font-weight="normal" fill="#222" >0</text>
<line x1="311.70" y1="605.3" x2="311.70" y2="609.0999999999999" stroke="#000" stroke-width="1.1"/>
<text x="311.70" y="617.50" font-size="8.4" text-anchor="middle" font-weight="normal" fill="#222" >2</text>
<line x1="350.70" y1="605.3" x2="350.70" y2="609.0999999999999" stroke="#000" stroke-width="1.1"/>
<text x="350.70" y="617.50" font-size="8.4" text-anchor="middle" font-weight="normal" fill="#222" >4</text>
<line x1="389.70" y1="605.3" x2="389.70" y2="609.0999999999999" stroke="#000" stroke-width="1.1"/>
<text x="389.70" y="617.50" font-size="8.4" text-anchor="middle" font-weight="normal" fill="#222" >6</text>
<line x1="428.70" y1="605.3" x2="428.70" y2="609.0999999999999" stroke="#000" stroke-width="1.1"/>
<text x="428.70" y="617.50" font-size="8.4" text-anchor="middle" font-weight="normal" fill="#222" >8</text>
<circle cx="337.79" cy="575.33" r="1.8" fill="#dadada" stroke="#2e2e2e" stroke-width="0.62"/>
<circle cx="323.09" cy="562.75" r="1.8" fill="#dadada" stroke="#2e2e2e" stroke-width="0.62"/>
<circle cx="309.94" cy="575.33" r="1.8" fill="#dadada" stroke="#2e2e2e" stroke-width="0.62"/>
<circle cx="297.49" cy="555.28" r="1.8" fill="#dadada" stroke="#2e2e2e" stroke-width="0.62"/>
<circle cx="360.70" cy="570.14" r="1.8" fill="#dadada" stroke="#2e2e2e" stroke-width="0.62"/>
<circle cx="342.61" cy="562.18" r="1.8" fill="#dadada" stroke="#2e2e2e" stroke-width="0.62"/>
<circle cx="302.78" cy="567.95" r="1.8" fill="#dadada" stroke="#2e2e2e" stroke-width="0.62"/>
<circle cx="292.31" cy="560.64" r="1.8" fill="#dadada" stroke="#2e2e2e" stroke-width="0.62"/>
<circle cx="329.88" cy="563.41" r="1.8" fill="#dadada" stroke="#2e2e2e" stroke-width="0.62"/>
<circle cx="301.92" cy="558.91" r="1.8" fill="#dadada" stroke="#2e2e2e" stroke-width="0.62"/>
<circle cx="333.57" cy="568.11" r="1.8" fill="#dadada" stroke="#2e2e2e" stroke-width="0.62"/>
<circle cx="335.25" cy="562.74" r="1.8" fill="#dadada" stroke="#2e2e2e" stroke-width="0.62"/>
<circle cx="293.11" cy="557.24" r="1.8" fill="#dadada" stroke="#2e2e2e" stroke-width="0.62"/>
<circle cx="334.24" cy="565.10" r="1.8" fill="#dadada" stroke="#2e2e2e" stroke-width="0.62"/>
<circle cx="369.79" cy="579.98" r="1.8" fill="#dadada" stroke="#2e2e2e" stroke-width="0.62"/>
<circle cx="335.88" cy="568.61" r="1.8" fill="#dadada" stroke="#2e2e2e" stroke-width="0.62"/>
<circle cx="334.20" cy="563.34" r="1.8" fill="#dadada" stroke="#2e2e2e" stroke-width="0.62"/>
<circle cx="344.63" cy="570.14" r="1.8" fill="#dadada" stroke="#2e2e2e" stroke-width="0.62"/>
<circle cx="345.64" cy="566.08" r="1.8" fill="#dadada" stroke="#2e2e2e" stroke-width="0.62"/>
<circle cx="338.73" cy="571.14" r="1.8" fill="#dadada" stroke="#2e2e2e" stroke-width="0.62"/>
<circle cx="353.41" cy="570.80" r="1.8" fill="#dadada" stroke="#2e2e2e" stroke-width="0.62"/>
<circle cx="326.88" cy="568.33" r="1.8" fill="#dadada" stroke="#2e2e2e" stroke-width="0.62"/>
<circle cx="323.88" cy="554.21" r="1.8" fill="#dadada" stroke="#2e2e2e" stroke-width="0.62"/>
<circle cx="351.08" cy="569.94" r="1.8" fill="#dadada" stroke="#2e2e2e" stroke-width="0.62"/>
<circle cx="330.78" cy="564.60" r="1.8" fill="#dadada" stroke="#2e2e2e" stroke-width="0.62"/>
<circle cx="342.30" cy="563.16" r="1.8" fill="#dadada" stroke="#2e2e2e" stroke-width="0.62"/>
<circle cx="307.37" cy="562.77" r="1.8" fill="#dadada" stroke="#2e2e2e" stroke-width="0.62"/>
<circle cx="327.74" cy="562.95" r="1.8" fill="#dadada" stroke="#2e2e2e" stroke-width="0.62"/>
<circle cx="316.43" cy="565.24" r="1.8" fill="#dadada" stroke="#2e2e2e" stroke-width="0.62"/>
<circle cx="302.62" cy="559.98" r="1.8" fill="#dadada" stroke="#2e2e2e" stroke-width="0.62"/>
<circle cx="378.95" cy="573.71" r="1.8" fill="#dadada" stroke="#2e2e2e" stroke-width="0.62"/>
<circle cx="289.00" cy="562.78" r="1.8" fill="#dadada" stroke="#2e2e2e" stroke-width="0.62"/>
<circle cx="346.48" cy="570.67" r="1.8" fill="#dadada" stroke="#2e2e2e" stroke-width="0.62"/>
<circle cx="356.29" cy="577.09" r="1.8" fill="#dadada" stroke="#2e2e2e" stroke-width="0.62"/>
<circle cx="352.68" cy="571.39" r="1.8" fill="#dadada" stroke="#2e2e2e" stroke-width="0.62"/>
<circle cx="306.17" cy="572.38" r="1.8" fill="#dadada" stroke="#2e2e2e" stroke-width="0.62"/>
<circle cx="344.57" cy="566.13" r="1.8" fill="#dadada" stroke="#2e2e2e" stroke-width="0.62"/>
<circle cx="324.34" cy="565.98" r="1.8" fill="#dadada" stroke="#2e2e2e" stroke-width="0.62"/>
<circle cx="338.67" cy="567.26" r="1.8" fill="#dadada" stroke="#2e2e2e" stroke-width="0.62"/>
<circle cx="317.32" cy="557.10" r="1.8" fill="#dadada" stroke="#2e2e2e" stroke-width="0.62"/>
<circle cx="306.57" cy="560.07" r="1.8" fill="#dadada" stroke="#2e2e2e" stroke-width="0.62"/>
<circle cx="344.88" cy="568.32" r="1.8" fill="#dadada" stroke="#2e2e2e" stroke-width="0.62"/>
<circle cx="323.62" cy="566.10" r="1.8" fill="#dadada" stroke="#2e2e2e" stroke-width="0.62"/>
<circle cx="342.73" cy="568.18" r="1.8" fill="#dadada" stroke="#2e2e2e" stroke-width="0.62"/>
<circle cx="303.64" cy="572.54" r="1.8" fill="#dadada" stroke="#2e2e2e" stroke-width="0.62"/>
<circle cx="332.69" cy="566.47" r="1.8" fill="#dadada" stroke="#2e2e2e" stroke-width="0.62"/>
<circle cx="346.13" cy="561.13" r="1.8" fill="#dadada" stroke="#2e2e2e" stroke-width="0.62"/>
<circle cx="338.96" cy="571.26" r="1.8" fill="#dadada" stroke="#2e2e2e" stroke-width="0.62"/>
<circle cx="329.39" cy="565.58" r="1.8" fill="#dadada" stroke="#2e2e2e" stroke-width="0.62"/>
<circle cx="300.21" cy="562.82" r="1.8" fill="#dadada" stroke="#2e2e2e" stroke-width="0.62"/>
<circle cx="297.47" cy="559.97" r="1.8" fill="#dadada" stroke="#2e2e2e" stroke-width="0.62"/>
<circle cx="338.24" cy="559.39" r="1.8" fill="#dadada" stroke="#2e2e2e" stroke-width="0.62"/>
<circle cx="306.41" cy="560.27" r="1.8" fill="#dadada" stroke="#2e2e2e" stroke-width="0.62"/>
<circle cx="356.27" cy="568.16" r="1.8" fill="#dadada" stroke="#2e2e2e" stroke-width="0.62"/>
<circle cx="323.68" cy="567.58" r="1.8" fill="#dadada" stroke="#2e2e2e" stroke-width="0.62"/>
<circle cx="331.07" cy="566.55" r="1.8" fill="#dadada" stroke="#2e2e2e" stroke-width="0.62"/>
<circle cx="290.67" cy="552.27" r="1.8" fill="#dadada" stroke="#2e2e2e" stroke-width="0.62"/>
<circle cx="319.74" cy="569.33" r="1.8" fill="#dadada" stroke="#2e2e2e" stroke-width="0.62"/>
<circle cx="357.85" cy="577.27" r="1.8" fill="#dadada" stroke="#2e2e2e" stroke-width="0.62"/>
<circle cx="314.33" cy="563.40" r="1.8" fill="#dadada" stroke="#2e2e2e" stroke-width="0.62"/>
<circle cx="354.50" cy="575.57" r="1.8" fill="#dadada" stroke="#2e2e2e" stroke-width="0.62"/>
<circle cx="314.49" cy="562.72" r="1.8" fill="#dadada" stroke="#2e2e2e" stroke-width="0.62"/>
<circle cx="343.10" cy="565.47" r="1.8" fill="#dadada" stroke="#2e2e2e" stroke-width="0.62"/>
<circle cx="313.81" cy="567.12" r="1.8" fill="#dadada" stroke="#2e2e2e" stroke-width="0.62"/>
<circle cx="338.70" cy="573.55" r="1.8" fill="#dadada" stroke="#2e2e2e" stroke-width="0.62"/>
<circle cx="314.67" cy="558.51" r="1.8" fill="#dadada" stroke="#2e2e2e" stroke-width="0.62"/>
<circle cx="334.66" cy="552.78" r="1.8" fill="#dadada" stroke="#2e2e2e" stroke-width="0.62"/>
<circle cx="323.12" cy="568.23" r="1.8" fill="#dadada" stroke="#2e2e2e" stroke-width="0.62"/>
<circle cx="294.04" cy="558.81" r="1.8" fill="#dadada" stroke="#2e2e2e" stroke-width="0.62"/>
<circle cx="366.81" cy="575.38" r="1.8" fill="#dadada" stroke="#2e2e2e" stroke-width="0.62"/>
<circle cx="363.01" cy="579.04" r="1.8" fill="#dadada" stroke="#2e2e2e" stroke-width="0.62"/>
<circle cx="320.10" cy="559.92" r="1.8" fill="#dadada" stroke="#2e2e2e" stroke-width="0.62"/>
<circle cx="328.25" cy="565.28" r="1.8" fill="#dadada" stroke="#2e2e2e" stroke-width="0.62"/>
<circle cx="312.28" cy="566.52" r="1.8" fill="#dadada" stroke="#2e2e2e" stroke-width="0.62"/>
<circle cx="339.61" cy="572.65" r="1.8" fill="#dadada" stroke="#2e2e2e" stroke-width="0.62"/>
<circle cx="369.88" cy="574.64" r="1.8" fill="#dadada" stroke="#2e2e2e" stroke-width="0.62"/>
<circle cx="321.54" cy="566.32" r="1.8" fill="#dadada" stroke="#2e2e2e" stroke-width="0.62"/>
<circle cx="364.88" cy="575.79" r="1.8" fill="#dadada" stroke="#2e2e2e" stroke-width="0.62"/>
<circle cx="325.72" cy="567.90" r="1.8" fill="#dadada" stroke="#2e2e2e" stroke-width="0.62"/>
<circle cx="339.64" cy="564.32" r="1.8" fill="#dadada" stroke="#2e2e2e" stroke-width="0.62"/>
<circle cx="355.31" cy="573.59" r="1.8" fill="#dadada" stroke="#2e2e2e" stroke-width="0.62"/>
<circle cx="325.17" cy="573.16" r="1.8" fill="#dadada" stroke="#2e2e2e" stroke-width="0.62"/>
<circle cx="341.85" cy="572.39" r="1.8" fill="#dadada" stroke="#2e2e2e" stroke-width="0.62"/>
<circle cx="351.50" cy="556.45" r="1.8" fill="#dadada" stroke="#2e2e2e" stroke-width="0.62"/>
<circle cx="323.02" cy="569.98" r="1.8" fill="#dadada" stroke="#2e2e2e" stroke-width="0.62"/>
<circle cx="323.59" cy="555.89" r="1.8" fill="#dadada" stroke="#2e2e2e" stroke-width="0.62"/>
<circle cx="325.36" cy="563.44" r="1.8" fill="#dadada" stroke="#2e2e2e" stroke-width="0.62"/>
<circle cx="341.13" cy="567.22" r="1.8" fill="#dadada" stroke="#2e2e2e" stroke-width="0.62"/>
<circle cx="316.65" cy="565.83" r="1.8" fill="#dadada" stroke="#2e2e2e" stroke-width="0.62"/>
<circle cx="330.23" cy="568.61" r="1.8" fill="#dadada" stroke="#2e2e2e" stroke-width="0.62"/>
<circle cx="329.30" cy="559.02" r="1.8" fill="#dadada" stroke="#2e2e2e" stroke-width="0.62"/>
<circle cx="320.01" cy="556.60" r="1.8" fill="#dadada" stroke="#2e2e2e" stroke-width="0.62"/>
<circle cx="332.70" cy="557.32" r="1.8" fill="#dadada" stroke="#2e2e2e" stroke-width="0.62"/>
<circle cx="323.68" cy="569.70" r="1.8" fill="#dadada" stroke="#2e2e2e" stroke-width="0.62"/>
<circle cx="329.50" cy="570.78" r="1.8" fill="#dadada" stroke="#2e2e2e" stroke-width="0.62"/>
<circle cx="366.06" cy="576.99" r="1.8" fill="#dadada" stroke="#2e2e2e" stroke-width="0.62"/>
<circle cx="325.82" cy="554.75" r="1.8" fill="#dadada" stroke="#2e2e2e" stroke-width="0.62"/>
<circle cx="305.28" cy="569.34" r="1.8" fill="#dadada" stroke="#2e2e2e" stroke-width="0.62"/>
<circle cx="323.30" cy="576.59" r="1.8" fill="#dadada" stroke="#2e2e2e" stroke-width="0.62"/>
<circle cx="316.12" cy="564.80" r="1.8" fill="#dadada" stroke="#2e2e2e" stroke-width="0.62"/>
<circle cx="330.57" cy="578.63" r="1.8" fill="#dadada" stroke="#2e2e2e" stroke-width="0.62"/>
<circle cx="301.48" cy="562.10" r="1.8" fill="#dadada" stroke="#2e2e2e" stroke-width="0.62"/>
<circle cx="319.85" cy="567.16" r="1.8" fill="#dadada" stroke="#2e2e2e" stroke-width="0.62"/>
<circle cx="344.28" cy="561.30" r="1.8" fill="#dadada" stroke="#2e2e2e" stroke-width="0.62"/>
<circle cx="346.74" cy="563.88" r="1.8" fill="#dadada" stroke="#2e2e2e" stroke-width="0.62"/>
<circle cx="338.42" cy="572.88" r="1.8" fill="#dadada" stroke="#2e2e2e" stroke-width="0.62"/>
<circle cx="341.97" cy="562.35" r="1.8" fill="#dadada" stroke="#2e2e2e" stroke-width="0.62"/>
<circle cx="321.49" cy="565.34" r="1.8" fill="#dadada" stroke="#2e2e2e" stroke-width="0.62"/>
<circle cx="334.94" cy="572.19" r="1.8" fill="#dadada" stroke="#2e2e2e" stroke-width="0.62"/>
<circle cx="323.92" cy="578.23" r="1.8" fill="#dadada" stroke="#2e2e2e" stroke-width="0.62"/>
<circle cx="342.53" cy="571.70" r="1.8" fill="#dadada" stroke="#2e2e2e" stroke-width="0.62"/>
<circle cx="363.70" cy="575.75" r="1.8" fill="#dadada" stroke="#2e2e2e" stroke-width="0.62"/>
<circle cx="338.00" cy="566.00" r="1.8" fill="#dadada" stroke="#2e2e2e" stroke-width="0.62"/>
<circle cx="335.49" cy="559.70" r="1.8" fill="#dadada" stroke="#2e2e2e" stroke-width="0.62"/>
<circle cx="333.07" cy="566.51" r="1.8" fill="#dadada" stroke="#2e2e2e" stroke-width="0.62"/>
<circle cx="342.64" cy="568.97" r="1.8" fill="#dadada" stroke="#2e2e2e" stroke-width="0.62"/>
<circle cx="348.37" cy="574.86" r="1.8" fill="#dadada" stroke="#2e2e2e" stroke-width="0.62"/>
<circle cx="346.96" cy="578.69" r="1.8" fill="#dadada" stroke="#2e2e2e" stroke-width="0.62"/>
<circle cx="328.14" cy="570.71" r="1.8" fill="#dadada" stroke="#2e2e2e" stroke-width="0.62"/>
<circle cx="320.72" cy="564.71" r="1.8" fill="#dadada" stroke="#2e2e2e" stroke-width="0.62"/>
<circle cx="334.74" cy="565.70" r="1.8" fill="#dadada" stroke="#2e2e2e" stroke-width="0.62"/>
<circle cx="304.53" cy="552.40" r="1.8" fill="#dadada" stroke="#2e2e2e" stroke-width="0.62"/>
<circle cx="333.64" cy="568.61" r="1.8" fill="#dadada" stroke="#2e2e2e" stroke-width="0.62"/>
<circle cx="322.49" cy="559.67" r="1.8" fill="#dadada" stroke="#2e2e2e" stroke-width="0.62"/>
<circle cx="309.74" cy="563.19" r="1.8" fill="#dadada" stroke="#2e2e2e" stroke-width="0.62"/>
<circle cx="342.51" cy="571.40" r="1.8" fill="#dadada" stroke="#2e2e2e" stroke-width="0.62"/>
<circle cx="315.42" cy="569.45" r="1.8" fill="#dadada" stroke="#2e2e2e" stroke-width="0.62"/>
<circle cx="347.34" cy="568.86" r="1.8" fill="#dadada" stroke="#2e2e2e" stroke-width="0.62"/>
<circle cx="356.98" cy="565.81" r="1.8" fill="#dadada" stroke="#2e2e2e" stroke-width="0.62"/>
<circle cx="363.04" cy="568.36" r="1.8" fill="#dadada" stroke="#2e2e2e" stroke-width="0.62"/>
<circle cx="306.64" cy="563.97" r="1.8" fill="#dadada" stroke="#2e2e2e" stroke-width="0.62"/>
<circle cx="325.75" cy="569.18" r="1.8" fill="#dadada" stroke="#2e2e2e" stroke-width="0.62"/>
<circle cx="323.61" cy="564.52" r="1.8" fill="#dadada" stroke="#2e2e2e" stroke-width="0.62"/>
<circle cx="325.04" cy="560.50" r="1.8" fill="#dadada" stroke="#2e2e2e" stroke-width="0.62"/>
<circle cx="349.27" cy="570.56" r="1.8" fill="#dadada" stroke="#2e2e2e" stroke-width="0.62"/>
<circle cx="327.60" cy="565.41" r="1.8" fill="#dadada" stroke="#2e2e2e" stroke-width="0.62"/>
<circle cx="359.07" cy="568.87" r="1.8" fill="#dadada" stroke="#2e2e2e" stroke-width="0.62"/>
<circle cx="313.09" cy="566.50" r="1.8" fill="#dadada" stroke="#2e2e2e" stroke-width="0.62"/>
<circle cx="359.42" cy="571.88" r="1.8" fill="#dadada" stroke="#2e2e2e" stroke-width="0.62"/>
<circle cx="304.28" cy="569.26" r="1.8" fill="#dadada" stroke="#2e2e2e" stroke-width="0.62"/>
<circle cx="360.54" cy="564.81" r="1.8" fill="#dadada" stroke="#2e2e2e" stroke-width="0.62"/>
<circle cx="364.89" cy="564.02" r="1.8" fill="#dadada" stroke="#2e2e2e" stroke-width="0.62"/>
<circle cx="337.41" cy="576.95" r="1.8" fill="#dadada" stroke="#2e2e2e" stroke-width="0.62"/>
<circle cx="339.19" cy="568.98" r="1.8" fill="#dadada" stroke="#2e2e2e" stroke-width="0.62"/>
<circle cx="354.38" cy="567.60" r="1.8" fill="#dadada" stroke="#2e2e2e" stroke-width="0.62"/>
<circle cx="378.37" cy="570.07" r="1.8" fill="#dadada" stroke="#2e2e2e" stroke-width="0.62"/>
<circle cx="342.04" cy="564.63" r="1.8" fill="#dadada" stroke="#2e2e2e" stroke-width="0.62"/>
<circle cx="333.50" cy="569.25" r="1.8" fill="#dadada" stroke="#2e2e2e" stroke-width="0.62"/>
<circle cx="347.91" cy="573.23" r="1.8" fill="#dadada" stroke="#2e2e2e" stroke-width="0.62"/>
<circle cx="295.30" cy="561.92" r="1.8" fill="#dadada" stroke="#2e2e2e" stroke-width="0.62"/>
<circle cx="349.86" cy="567.79" r="1.8" fill="#dadada" stroke="#2e2e2e" stroke-width="0.62"/>
<circle cx="310.45" cy="556.50" r="1.8" fill="#dadada" stroke="#2e2e2e" stroke-width="0.62"/>
<circle cx="329.24" cy="560.28" r="1.8" fill="#dadada" stroke="#2e2e2e" stroke-width="0.62"/>
<circle cx="342.64" cy="561.23" r="1.8" fill="#dadada" stroke="#2e2e2e" stroke-width="0.62"/>
<circle cx="308.04" cy="558.05" r="1.8" fill="#dadada" stroke="#2e2e2e" stroke-width="0.62"/>
<circle cx="362.50" cy="571.72" r="1.8" fill="#dadada" stroke="#2e2e2e" stroke-width="0.62"/>
<circle cx="350.02" cy="571.09" r="1.8" fill="#dadada" stroke="#2e2e2e" stroke-width="0.62"/>
<circle cx="338.18" cy="558.05" r="1.8" fill="#dadada" stroke="#2e2e2e" stroke-width="0.62"/>
<circle cx="350.59" cy="564.54" r="1.8" fill="#dadada" stroke="#2e2e2e" stroke-width="0.62"/>
<circle cx="324.10" cy="563.10" r="1.8" fill="#dadada" stroke="#2e2e2e" stroke-width="0.62"/>
<circle cx="316.61" cy="554.88" r="1.8" fill="#dadada" stroke="#2e2e2e" stroke-width="0.62"/>
<circle cx="324.15" cy="568.00" r="1.8" fill="#dadada" stroke="#2e2e2e" stroke-width="0.62"/>
<circle cx="299.75" cy="570.15" r="1.8" fill="#dadada" stroke="#2e2e2e" stroke-width="0.62"/>
<circle cx="333.59" cy="569.59" r="1.8" fill="#dadada" stroke="#2e2e2e" stroke-width="0.62"/>
<circle cx="334.49" cy="564.02" r="1.8" fill="#dadada" stroke="#2e2e2e" stroke-width="0.62"/>
<circle cx="307.66" cy="565.75" r="1.8" fill="#dadada" stroke="#2e2e2e" stroke-width="0.62"/>
<circle cx="328.31" cy="572.86" r="1.8" fill="#dadada" stroke="#2e2e2e" stroke-width="0.62"/>
<circle cx="323.90" cy="566.99" r="1.8" fill="#dadada" stroke="#2e2e2e" stroke-width="0.62"/>
<circle cx="334.03" cy="563.79" r="1.8" fill="#dadada" stroke="#2e2e2e" stroke-width="0.62"/>
<circle cx="344.50" cy="568.93" r="1.8" fill="#dadada" stroke="#2e2e2e" stroke-width="0.62"/>
<circle cx="347.36" cy="573.61" r="1.8" fill="#dadada" stroke="#2e2e2e" stroke-width="0.62"/>
<circle cx="349.46" cy="574.21" r="1.8" fill="#dadada" stroke="#2e2e2e" stroke-width="0.62"/>
<circle cx="367.93" cy="576.19" r="1.8" fill="#dadada" stroke="#2e2e2e" stroke-width="0.62"/>
<circle cx="336.14" cy="568.85" r="1.8" fill="#dadada" stroke="#2e2e2e" stroke-width="0.62"/>
<circle cx="332.77" cy="567.70" r="1.8" fill="#dadada" stroke="#2e2e2e" stroke-width="0.62"/>
<circle cx="318.54" cy="567.33" r="1.8" fill="#dadada" stroke="#2e2e2e" stroke-width="0.62"/>
<circle cx="349.80" cy="564.67" r="1.8" fill="#dadada" stroke="#2e2e2e" stroke-width="0.62"/>
<circle cx="326.17" cy="559.49" r="1.8" fill="#dadada" stroke="#2e2e2e" stroke-width="0.62"/>
<circle cx="327.21" cy="567.31" r="1.8" fill="#dadada" stroke="#2e2e2e" stroke-width="0.62"/>
<circle cx="313.06" cy="561.75" r="1.8" fill="#dadada" stroke="#2e2e2e" stroke-width="0.62"/>
<circle cx="378.03" cy="577.37" r="1.8" fill="#dadada" stroke="#2e2e2e" stroke-width="0.62"/>
<circle cx="319.67" cy="559.46" r="1.8" fill="#dadada" stroke="#2e2e2e" stroke-width="0.62"/>
<circle cx="313.52" cy="558.97" r="1.8" fill="#dadada" stroke="#2e2e2e" stroke-width="0.62"/>
<circle cx="352.82" cy="560.86" r="1.8" fill="#dadada" stroke="#2e2e2e" stroke-width="0.62"/>
<circle cx="357.93" cy="572.06" r="1.8" fill="#dadada" stroke="#2e2e2e" stroke-width="0.62"/>
<circle cx="368.05" cy="572.16" r="1.8" fill="#dadada" stroke="#2e2e2e" stroke-width="0.62"/>
<circle cx="348.65" cy="561.36" r="1.8" fill="#dadada" stroke="#2e2e2e" stroke-width="0.62"/>
<circle cx="355.95" cy="566.06" r="1.8" fill="#dadada" stroke="#2e2e2e" stroke-width="0.62"/>
<circle cx="359.00" cy="567.28" r="1.8" fill="#dadada" stroke="#2e2e2e" stroke-width="0.62"/>
<circle cx="335.85" cy="565.16" r="1.8" fill="#dadada" stroke="#2e2e2e" stroke-width="0.62"/>
<circle cx="355.95" cy="578.27" r="1.8" fill="#dadada" stroke="#2e2e2e" stroke-width="0.62"/>
<circle cx="323.11" cy="568.79" r="1.8" fill="#dadada" stroke="#2e2e2e" stroke-width="0.62"/>
<circle cx="312.39" cy="558.65" r="1.8" fill="#dadada" stroke="#2e2e2e" stroke-width="0.62"/>
<circle cx="340.28" cy="559.64" r="1.8" fill="#dadada" stroke="#2e2e2e" stroke-width="0.62"/>
<circle cx="345.04" cy="566.73" r="1.8" fill="#dadada" stroke="#2e2e2e" stroke-width="0.62"/>
<circle cx="326.77" cy="559.20" r="1.8" fill="#dadada" stroke="#2e2e2e" stroke-width="0.62"/>
<circle cx="307.26" cy="566.70" r="1.8" fill="#dadada" stroke="#2e2e2e" stroke-width="0.62"/>
<circle cx="314.81" cy="565.82" r="1.8" fill="#dadada" stroke="#2e2e2e" stroke-width="0.62"/>
<circle cx="352.96" cy="575.19" r="1.8" fill="#dadada" stroke="#2e2e2e" stroke-width="0.62"/>
<circle cx="320.10" cy="563.84" r="1.8" fill="#dadada" stroke="#2e2e2e" stroke-width="0.62"/>
<circle cx="334.82" cy="568.66" r="1.8" fill="#dadada" stroke="#2e2e2e" stroke-width="0.62"/>
<circle cx="345.54" cy="576.57" r="1.8" fill="#dadada" stroke="#2e2e2e" stroke-width="0.62"/>
<circle cx="376.78" cy="574.76" r="1.8" fill="#dadada" stroke="#2e2e2e" stroke-width="0.62"/>
<circle cx="302.44" cy="561.59" r="1.8" fill="#dadada" stroke="#2e2e2e" stroke-width="0.62"/>
<circle cx="321.28" cy="561.39" r="1.8" fill="#dadada" stroke="#2e2e2e" stroke-width="0.62"/>
<circle cx="354.62" cy="572.92" r="1.8" fill="#dadada" stroke="#2e2e2e" stroke-width="0.62"/>
<circle cx="334.56" cy="567.52" r="1.8" fill="#dadada" stroke="#2e2e2e" stroke-width="0.62"/>
<circle cx="369.14" cy="567.29" r="1.8" fill="#dadada" stroke="#2e2e2e" stroke-width="0.62"/>
<circle cx="312.49" cy="569.79" r="1.8" fill="#dadada" stroke="#2e2e2e" stroke-width="0.62"/>
<circle cx="325.32" cy="567.15" r="1.8" fill="#dadada" stroke="#2e2e2e" stroke-width="0.62"/>
<circle cx="309.32" cy="561.79" r="1.8" fill="#dadada" stroke="#2e2e2e" stroke-width="0.62"/>
<circle cx="327.96" cy="572.45" r="1.8" fill="#dadada" stroke="#2e2e2e" stroke-width="0.62"/>
<circle cx="325.68" cy="572.88" r="1.8" fill="#dadada" stroke="#2e2e2e" stroke-width="0.62"/>
<circle cx="380.45" cy="566.66" r="1.8" fill="#dadada" stroke="#2e2e2e" stroke-width="0.62"/>
<circle cx="288.23" cy="554.18" r="1.8" fill="#dadada" stroke="#2e2e2e" stroke-width="0.62"/>
<circle cx="326.27" cy="558.21" r="1.8" fill="#dadada" stroke="#2e2e2e" stroke-width="0.62"/>
<circle cx="315.93" cy="570.55" r="1.8" fill="#dadada" stroke="#2e2e2e" stroke-width="0.62"/>
<circle cx="333.55" cy="563.09" r="1.8" fill="#dadada" stroke="#2e2e2e" stroke-width="0.62"/>
<circle cx="340.93" cy="562.98" r="1.8" fill="#dadada" stroke="#2e2e2e" stroke-width="0.62"/>
<circle cx="356.79" cy="572.38" r="1.8" fill="#dadada" stroke="#2e2e2e" stroke-width="0.62"/>
<circle cx="295.63" cy="574.12" r="1.8" fill="#dadada" stroke="#2e2e2e" stroke-width="0.62"/>
<circle cx="307.21" cy="517.36" r="1.8" fill="#dadada" stroke="#2e2e2e" stroke-width="0.62"/>
<circle cx="288.50" cy="525.50" r="1.8" fill="#dadada" stroke="#2e2e2e" stroke-width="0.62"/>
<circle cx="292.00" cy="532.59" r="1.8" fill="#dadada" stroke="#2e2e2e" stroke-width="0.62"/>
<circle cx="297.07" cy="533.64" r="1.8" fill="#dadada" stroke="#2e2e2e" stroke-width="0.62"/>
<circle cx="313.26" cy="531.80" r="1.8" fill="#dadada" stroke="#2e2e2e" stroke-width="0.62"/>
<circle cx="307.80" cy="540.20" r="1.8" fill="#dadada" stroke="#2e2e2e" stroke-width="0.62"/>
<circle cx="313.65" cy="542.56" r="1.8" fill="#dadada" stroke="#2e2e2e" stroke-width="0.62"/>
<circle cx="322.81" cy="543.61" r="1.8" fill="#dadada" stroke="#2e2e2e" stroke-width="0.62"/>
<circle cx="325.35" cy="540.46" r="1.8" fill="#dadada" stroke="#2e2e2e" stroke-width="0.62"/>
<circle cx="331.59" cy="538.10" r="1.8" fill="#dadada" stroke="#2e2e2e" stroke-width="0.62"/>
<circle cx="335.10" cy="544.40" r="1.8" fill="#dadada" stroke="#2e2e2e" stroke-width="0.62"/>
<circle cx="358.69" cy="552.80" r="1.8" fill="#dadada" stroke="#2e2e2e" stroke-width="0.62"/>
<circle cx="379.95" cy="556.21" r="1.8" fill="#dadada" stroke="#2e2e2e" stroke-width="0.62"/>
<circle cx="390.09" cy="565.14" r="1.8" fill="#dadada" stroke="#2e2e2e" stroke-width="0.62"/>
<circle cx="404.32" cy="569.60" r="1.8" fill="#dadada" stroke="#2e2e2e" stroke-width="0.62"/>
<circle cx="385.61" cy="569.34" r="1.8" fill="#dadada" stroke="#2e2e2e" stroke-width="0.62"/>
<circle cx="374.10" cy="580.89" r="1.8" fill="#dadada" stroke="#2e2e2e" stroke-width="0.62"/>
<circle cx="380.53" cy="582.20" r="1.8" fill="#dadada" stroke="#2e2e2e" stroke-width="0.62"/>
<circle cx="388.14" cy="580.89" r="1.8" fill="#dadada" stroke="#2e2e2e" stroke-width="0.62"/>
<circle cx="366.69" cy="582.72" r="1.8" fill="#dadada" stroke="#2e2e2e" stroke-width="0.62"/>
<circle cx="337.83" cy="585.09" r="1.8" fill="#dadada" stroke="#2e2e2e" stroke-width="0.62"/>
<circle cx="370.20" cy="564.61" r="1.8" fill="#dadada" stroke="#2e2e2e" stroke-width="0.62"/>
<circle cx="370.20" cy="567.24" r="1.8" fill="#dadada" stroke="#2e2e2e" stroke-width="0.62"/>
<circle cx="284.40" cy="561.99" r="1.8" fill="#dadada" stroke="#2e2e2e" stroke-width="0.62"/>
<circle cx="287.32" cy="555.42" r="1.8" fill="#dadada" stroke="#2e2e2e" stroke-width="0.62"/>
<circle cx="292.20" cy="554.11" r="1.8" fill="#dadada" stroke="#2e2e2e" stroke-width="0.62"/>
<circle cx="298.05" cy="552.27" r="1.8" fill="#dadada" stroke="#2e2e2e" stroke-width="0.62"/>
<circle cx="307.80" cy="553.32" r="1.8" fill="#dadada" stroke="#2e2e2e" stroke-width="0.62"/>
<circle cx="290.25" cy="567.24" r="1.8" fill="#dadada" stroke="#2e2e2e" stroke-width="0.62"/>
<line x1="279.13" y1="556.74" x2="419.92" y2="582.72" stroke="#a01818" stroke-width="2.5" stroke-dasharray="9 3.4"/>
<text x="350.70" y="630.50" font-size="8.8" text-anchor="middle" font-weight="normal" fill="#111" >mJSW (mm)</text>
<text transform="translate(258.0,552) rotate(-90)" font-size="8.6" text-anchor="middle" fill="#111">ADMA (μM)</text>
<text x="378.60" y="498.30" font-size="7.6" text-anchor="start" font-weight="normal" fill="#111" ><tspan font-style="italic">n</tspan> = 350, <tspan font-style="italic">P</tspan><tspan font-size="7.2" dy="-2.2">****</tspan></text>
<text x="378.60" y="506.60" font-size="7.6" text-anchor="start" font-weight="normal" fill="#111" ><tspan font-style="italic">R</tspan> = −0.4609</text>
<line x1="481.0" y1="501.90" x2="481.0" y2="605.30" stroke="#000" stroke-width="1.1"/>
<line x1="480.5" y1="604.8" x2="638.10" y2="604.8" stroke="#000" stroke-width="1.1"/>
<line x1="477.2" y1="604.80" x2="481.0" y2="604.80" stroke="#000" stroke-width="1.1"/>
<text x="476.40" y="607.80" font-size="8.4" text-anchor="end" font-weight="normal" fill="#222" >0</text>
<line x1="477.2" y1="579.20" x2="481.0" y2="579.20" stroke="#000" stroke-width="1.1"/>
<text x="476.40" y="582.20" font-size="8.4" text-anchor="end" font-weight="normal" fill="#222" >1</text>
<line x1="477.2" y1="553.60" x2="481.0" y2="553.60" stroke="#000" stroke-width="1.1"/>
<text x="476.40" y="556.60" font-size="8.4" text-anchor="end" font-weight="normal" fill="#222" >2</text>
<line x1="477.2" y1="528.00" x2="481.0" y2="528.00" stroke="#000" stroke-width="1.1"/>
<text x="476.40" y="531.00" font-size="8.4" text-anchor="end" font-weight="normal" fill="#222" >3</text>
<line x1="477.2" y1="502.40" x2="481.0" y2="502.40" stroke="#000" stroke-width="1.1"/>
<text x="476.40" y="505.40" font-size="8.4" text-anchor="end" font-weight="normal" fill="#222" >4</text>
<line x1="481.00" y1="604.8" x2="481.00" y2="608.5999999999999" stroke="#000" stroke-width="1.1"/>
<text x="481.00" y="617.00" font-size="8.4" text-anchor="middle" font-weight="normal" fill="#222" >0</text>
<line x1="512.32" y1="604.8" x2="512.32" y2="608.5999999999999" stroke="#000" stroke-width="1.1"/>
<text x="512.32" y="617.00" font-size="8.4" text-anchor="middle" font-weight="normal" fill="#222" >20</text>
<line x1="543.64" y1="604.8" x2="543.64" y2="608.5999999999999" stroke="#000" stroke-width="1.1"/>
<text x="543.64" y="617.00" font-size="8.4" text-anchor="middle" font-weight="normal" fill="#222" >40</text>
<line x1="574.96" y1="604.8" x2="574.96" y2="608.5999999999999" stroke="#000" stroke-width="1.1"/>
<text x="574.96" y="617.00" font-size="8.4" text-anchor="middle" font-weight="normal" fill="#222" >60</text>
<line x1="606.28" y1="604.8" x2="606.28" y2="608.5999999999999" stroke="#000" stroke-width="1.1"/>
<text x="606.28" y="617.00" font-size="8.4" text-anchor="middle" font-weight="normal" fill="#222" >80</text>
<line x1="637.60" y1="604.8" x2="637.60" y2="608.5999999999999" stroke="#000" stroke-width="1.1"/>
<text x="637.60" y="617.00" font-size="8.4" text-anchor="middle" font-weight="normal" fill="#222" >100</text>
<circle cx="560.81" cy="566.19" r="1.8" fill="#dadada" stroke="#2e2e2e" stroke-width="0.62"/>
<circle cx="565.41" cy="569.48" r="1.8" fill="#dadada" stroke="#2e2e2e" stroke-width="0.62"/>
<circle cx="563.95" cy="569.67" r="1.8" fill="#dadada" stroke="#2e2e2e" stroke-width="0.62"/>
<circle cx="555.57" cy="563.98" r="1.8" fill="#dadada" stroke="#2e2e2e" stroke-width="0.62"/>
<circle cx="587.45" cy="571.65" r="1.8" fill="#dadada" stroke="#2e2e2e" stroke-width="0.62"/>
<circle cx="556.00" cy="571.99" r="1.8" fill="#dadada" stroke="#2e2e2e" stroke-width="0.62"/>
<circle cx="573.94" cy="570.13" r="1.8" fill="#dadada" stroke="#2e2e2e" stroke-width="0.62"/>
<circle cx="565.67" cy="564.62" r="1.8" fill="#dadada" stroke="#2e2e2e" stroke-width="0.62"/>
<circle cx="609.68" cy="571.32" r="1.8" fill="#dadada" stroke="#2e2e2e" stroke-width="0.62"/>
<circle cx="574.87" cy="572.65" r="1.8" fill="#dadada" stroke="#2e2e2e" stroke-width="0.62"/>
<circle cx="592.74" cy="568.92" r="1.8" fill="#dadada" stroke="#2e2e2e" stroke-width="0.62"/>
<circle cx="575.95" cy="565.41" r="1.8" fill="#dadada" stroke="#2e2e2e" stroke-width="0.62"/>
<circle cx="555.20" cy="575.16" r="1.8" fill="#dadada" stroke="#2e2e2e" stroke-width="0.62"/>
<circle cx="571.60" cy="579.13" r="1.8" fill="#dadada" stroke="#2e2e2e" stroke-width="0.62"/>
<circle cx="573.84" cy="576.65" r="1.8" fill="#dadada" stroke="#2e2e2e" stroke-width="0.62"/>
<circle cx="580.82" cy="553.19" r="1.8" fill="#dadada" stroke="#2e2e2e" stroke-width="0.62"/>
<circle cx="609.15" cy="566.90" r="1.8" fill="#dadada" stroke="#2e2e2e" stroke-width="0.62"/>
<circle cx="616.94" cy="566.09" r="1.8" fill="#dadada" stroke="#2e2e2e" stroke-width="0.62"/>
<circle cx="602.00" cy="573.66" r="1.8" fill="#dadada" stroke="#2e2e2e" stroke-width="0.62"/>
<circle cx="591.22" cy="575.77" r="1.8" fill="#dadada" stroke="#2e2e2e" stroke-width="0.62"/>
<circle cx="604.05" cy="558.57" r="1.8" fill="#dadada" stroke="#2e2e2e" stroke-width="0.62"/>
<circle cx="566.38" cy="562.15" r="1.8" fill="#dadada" stroke="#2e2e2e" stroke-width="0.62"/>
<circle cx="597.42" cy="571.10" r="1.8" fill="#dadada" stroke="#2e2e2e" stroke-width="0.62"/>
<circle cx="578.43" cy="560.77" r="1.8" fill="#dadada" stroke="#2e2e2e" stroke-width="0.62"/>
<circle cx="604.68" cy="574.54" r="1.8" fill="#dadada" stroke="#2e2e2e" stroke-width="0.62"/>
<circle cx="604.75" cy="567.09" r="1.8" fill="#dadada" stroke="#2e2e2e" stroke-width="0.62"/>
<circle cx="570.33" cy="568.32" r="1.8" fill="#dadada" stroke="#2e2e2e" stroke-width="0.62"/>
<circle cx="585.62" cy="568.43" r="1.8" fill="#dadada" stroke="#2e2e2e" stroke-width="0.62"/>
<circle cx="604.47" cy="569.36" r="1.8" fill="#dadada" stroke="#2e2e2e" stroke-width="0.62"/>
<circle cx="582.13" cy="564.43" r="1.8" fill="#dadada" stroke="#2e2e2e" stroke-width="0.62"/>
<circle cx="579.85" cy="570.33" r="1.8" fill="#dadada" stroke="#2e2e2e" stroke-width="0.62"/>
<circle cx="573.80" cy="567.29" r="1.8" fill="#dadada" stroke="#2e2e2e" stroke-width="0.62"/>
<circle cx="589.90" cy="564.13" r="1.8" fill="#dadada" stroke="#2e2e2e" stroke-width="0.62"/>
<circle cx="578.91" cy="569.28" r="1.8" fill="#dadada" stroke="#2e2e2e" stroke-width="0.62"/>
<circle cx="595.95" cy="573.73" r="1.8" fill="#dadada" stroke="#2e2e2e" stroke-width="0.62"/>
<circle cx="579.80" cy="558.79" r="1.8" fill="#dadada" stroke="#2e2e2e" stroke-width="0.62"/>
<circle cx="593.37" cy="565.55" r="1.8" fill="#dadada" stroke="#2e2e2e" stroke-width="0.62"/>
<circle cx="547.43" cy="570.35" r="1.8" fill="#dadada" stroke="#2e2e2e" stroke-width="0.62"/>
<circle cx="579.00" cy="569.65" r="1.8" fill="#dadada" stroke="#2e2e2e" stroke-width="0.62"/>
<circle cx="590.85" cy="568.31" r="1.8" fill="#dadada" stroke="#2e2e2e" stroke-width="0.62"/>
<circle cx="590.27" cy="560.38" r="1.8" fill="#dadada" stroke="#2e2e2e" stroke-width="0.62"/>
<circle cx="597.24" cy="564.46" r="1.8" fill="#dadada" stroke="#2e2e2e" stroke-width="0.62"/>
<circle cx="585.73" cy="561.49" r="1.8" fill="#dadada" stroke="#2e2e2e" stroke-width="0.62"/>
<circle cx="570.70" cy="563.66" r="1.8" fill="#dadada" stroke="#2e2e2e" stroke-width="0.62"/>
<circle cx="570.67" cy="562.97" r="1.8" fill="#dadada" stroke="#2e2e2e" stroke-width="0.62"/>
<circle cx="571.32" cy="573.75" r="1.8" fill="#dadada" stroke="#2e2e2e" stroke-width="0.62"/>
<circle cx="567.01" cy="569.77" r="1.8" fill="#dadada" stroke="#2e2e2e" stroke-width="0.62"/>
<circle cx="575.68" cy="566.93" r="1.8" fill="#dadada" stroke="#2e2e2e" stroke-width="0.62"/>
<circle cx="561.53" cy="567.39" r="1.8" fill="#dadada" stroke="#2e2e2e" stroke-width="0.62"/>
<circle cx="589.33" cy="563.19" r="1.8" fill="#dadada" stroke="#2e2e2e" stroke-width="0.62"/>
<circle cx="562.58" cy="571.50" r="1.8" fill="#dadada" stroke="#2e2e2e" stroke-width="0.62"/>
<circle cx="572.22" cy="571.88" r="1.8" fill="#dadada" stroke="#2e2e2e" stroke-width="0.62"/>
<circle cx="585.38" cy="570.79" r="1.8" fill="#dadada" stroke="#2e2e2e" stroke-width="0.62"/>
<circle cx="594.96" cy="569.79" r="1.8" fill="#dadada" stroke="#2e2e2e" stroke-width="0.62"/>
<circle cx="579.29" cy="562.85" r="1.8" fill="#dadada" stroke="#2e2e2e" stroke-width="0.62"/>
<circle cx="606.26" cy="569.48" r="1.8" fill="#dadada" stroke="#2e2e2e" stroke-width="0.62"/>
<circle cx="580.21" cy="574.35" r="1.8" fill="#dadada" stroke="#2e2e2e" stroke-width="0.62"/>
<circle cx="582.91" cy="569.58" r="1.8" fill="#dadada" stroke="#2e2e2e" stroke-width="0.62"/>
<circle cx="586.31" cy="571.89" r="1.8" fill="#dadada" stroke="#2e2e2e" stroke-width="0.62"/>
<circle cx="568.27" cy="561.23" r="1.8" fill="#dadada" stroke="#2e2e2e" stroke-width="0.62"/>
<circle cx="559.43" cy="569.74" r="1.8" fill="#dadada" stroke="#2e2e2e" stroke-width="0.62"/>
<circle cx="573.86" cy="563.14" r="1.8" fill="#dadada" stroke="#2e2e2e" stroke-width="0.62"/>
<circle cx="584.71" cy="568.46" r="1.8" fill="#dadada" stroke="#2e2e2e" stroke-width="0.62"/>
<circle cx="605.76" cy="565.44" r="1.8" fill="#dadada" stroke="#2e2e2e" stroke-width="0.62"/>
<circle cx="592.74" cy="565.08" r="1.8" fill="#dadada" stroke="#2e2e2e" stroke-width="0.62"/>
<circle cx="580.68" cy="566.71" r="1.8" fill="#dadada" stroke="#2e2e2e" stroke-width="0.62"/>
<circle cx="608.74" cy="556.24" r="1.8" fill="#dadada" stroke="#2e2e2e" stroke-width="0.62"/>
<circle cx="611.78" cy="561.56" r="1.8" fill="#dadada" stroke="#2e2e2e" stroke-width="0.62"/>
<circle cx="588.02" cy="570.46" r="1.8" fill="#dadada" stroke="#2e2e2e" stroke-width="0.62"/>
<circle cx="577.03" cy="565.10" r="1.8" fill="#dadada" stroke="#2e2e2e" stroke-width="0.62"/>
<circle cx="579.11" cy="577.49" r="1.8" fill="#dadada" stroke="#2e2e2e" stroke-width="0.62"/>
<circle cx="573.99" cy="553.75" r="1.8" fill="#dadada" stroke="#2e2e2e" stroke-width="0.62"/>
<circle cx="577.36" cy="577.48" r="1.8" fill="#dadada" stroke="#2e2e2e" stroke-width="0.62"/>
<circle cx="551.09" cy="564.48" r="1.8" fill="#dadada" stroke="#2e2e2e" stroke-width="0.62"/>
<circle cx="552.71" cy="572.86" r="1.8" fill="#dadada" stroke="#2e2e2e" stroke-width="0.62"/>
<circle cx="586.89" cy="568.83" r="1.8" fill="#dadada" stroke="#2e2e2e" stroke-width="0.62"/>
<circle cx="593.31" cy="566.01" r="1.8" fill="#dadada" stroke="#2e2e2e" stroke-width="0.62"/>
<circle cx="594.81" cy="569.66" r="1.8" fill="#dadada" stroke="#2e2e2e" stroke-width="0.62"/>
<circle cx="565.49" cy="563.74" r="1.8" fill="#dadada" stroke="#2e2e2e" stroke-width="0.62"/>
<circle cx="563.26" cy="571.02" r="1.8" fill="#dadada" stroke="#2e2e2e" stroke-width="0.62"/>
<circle cx="589.27" cy="573.50" r="1.8" fill="#dadada" stroke="#2e2e2e" stroke-width="0.62"/>
<circle cx="582.12" cy="571.13" r="1.8" fill="#dadada" stroke="#2e2e2e" stroke-width="0.62"/>
<circle cx="581.20" cy="574.61" r="1.8" fill="#dadada" stroke="#2e2e2e" stroke-width="0.62"/>
<circle cx="571.96" cy="568.73" r="1.8" fill="#dadada" stroke="#2e2e2e" stroke-width="0.62"/>
<circle cx="587.77" cy="570.00" r="1.8" fill="#dadada" stroke="#2e2e2e" stroke-width="0.62"/>
<circle cx="583.04" cy="575.03" r="1.8" fill="#dadada" stroke="#2e2e2e" stroke-width="0.62"/>
<circle cx="600.70" cy="565.81" r="1.8" fill="#dadada" stroke="#2e2e2e" stroke-width="0.62"/>
<circle cx="589.91" cy="565.30" r="1.8" fill="#dadada" stroke="#2e2e2e" stroke-width="0.62"/>
<circle cx="598.66" cy="569.50" r="1.8" fill="#dadada" stroke="#2e2e2e" stroke-width="0.62"/>
<circle cx="564.93" cy="571.59" r="1.8" fill="#dadada" stroke="#2e2e2e" stroke-width="0.62"/>
<circle cx="588.04" cy="567.53" r="1.8" fill="#dadada" stroke="#2e2e2e" stroke-width="0.62"/>
<circle cx="580.13" cy="565.04" r="1.8" fill="#dadada" stroke="#2e2e2e" stroke-width="0.62"/>
<circle cx="567.01" cy="565.58" r="1.8" fill="#dadada" stroke="#2e2e2e" stroke-width="0.62"/>
<circle cx="581.57" cy="569.44" r="1.8" fill="#dadada" stroke="#2e2e2e" stroke-width="0.62"/>
<circle cx="574.70" cy="572.28" r="1.8" fill="#dadada" stroke="#2e2e2e" stroke-width="0.62"/>
<circle cx="570.20" cy="572.52" r="1.8" fill="#dadada" stroke="#2e2e2e" stroke-width="0.62"/>
<circle cx="605.81" cy="562.31" r="1.8" fill="#dadada" stroke="#2e2e2e" stroke-width="0.62"/>
<circle cx="610.03" cy="561.74" r="1.8" fill="#dadada" stroke="#2e2e2e" stroke-width="0.62"/>
<circle cx="577.41" cy="565.67" r="1.8" fill="#dadada" stroke="#2e2e2e" stroke-width="0.62"/>
<circle cx="559.59" cy="574.09" r="1.8" fill="#dadada" stroke="#2e2e2e" stroke-width="0.62"/>
<circle cx="593.19" cy="567.58" r="1.8" fill="#dadada" stroke="#2e2e2e" stroke-width="0.62"/>
<circle cx="613.28" cy="558.38" r="1.8" fill="#dadada" stroke="#2e2e2e" stroke-width="0.62"/>
<circle cx="578.19" cy="560.02" r="1.8" fill="#dadada" stroke="#2e2e2e" stroke-width="0.62"/>
<circle cx="589.56" cy="574.19" r="1.8" fill="#dadada" stroke="#2e2e2e" stroke-width="0.62"/>
<circle cx="585.38" cy="571.26" r="1.8" fill="#dadada" stroke="#2e2e2e" stroke-width="0.62"/>
<circle cx="586.77" cy="574.18" r="1.8" fill="#dadada" stroke="#2e2e2e" stroke-width="0.62"/>
<circle cx="583.25" cy="576.24" r="1.8" fill="#dadada" stroke="#2e2e2e" stroke-width="0.62"/>
<circle cx="592.53" cy="562.77" r="1.8" fill="#dadada" stroke="#2e2e2e" stroke-width="0.62"/>
<circle cx="572.79" cy="571.02" r="1.8" fill="#dadada" stroke="#2e2e2e" stroke-width="0.62"/>
<circle cx="574.82" cy="564.04" r="1.8" fill="#dadada" stroke="#2e2e2e" stroke-width="0.62"/>
<circle cx="547.01" cy="567.06" r="1.8" fill="#dadada" stroke="#2e2e2e" stroke-width="0.62"/>
<circle cx="604.28" cy="569.65" r="1.8" fill="#dadada" stroke="#2e2e2e" stroke-width="0.62"/>
<circle cx="562.76" cy="564.87" r="1.8" fill="#dadada" stroke="#2e2e2e" stroke-width="0.62"/>
<circle cx="577.05" cy="569.00" r="1.8" fill="#dadada" stroke="#2e2e2e" stroke-width="0.62"/>
<circle cx="573.47" cy="564.65" r="1.8" fill="#dadada" stroke="#2e2e2e" stroke-width="0.62"/>
<circle cx="567.97" cy="572.65" r="1.8" fill="#dadada" stroke="#2e2e2e" stroke-width="0.62"/>
<circle cx="598.62" cy="560.77" r="1.8" fill="#dadada" stroke="#2e2e2e" stroke-width="0.62"/>
<circle cx="563.98" cy="565.88" r="1.8" fill="#dadada" stroke="#2e2e2e" stroke-width="0.62"/>
<circle cx="604.52" cy="573.91" r="1.8" fill="#dadada" stroke="#2e2e2e" stroke-width="0.62"/>
<circle cx="595.06" cy="562.00" r="1.8" fill="#dadada" stroke="#2e2e2e" stroke-width="0.62"/>
<circle cx="576.62" cy="571.99" r="1.8" fill="#dadada" stroke="#2e2e2e" stroke-width="0.62"/>
<circle cx="566.29" cy="559.81" r="1.8" fill="#dadada" stroke="#2e2e2e" stroke-width="0.62"/>
<circle cx="607.03" cy="569.15" r="1.8" fill="#dadada" stroke="#2e2e2e" stroke-width="0.62"/>
<circle cx="558.42" cy="565.31" r="1.8" fill="#dadada" stroke="#2e2e2e" stroke-width="0.62"/>
<circle cx="587.22" cy="569.19" r="1.8" fill="#dadada" stroke="#2e2e2e" stroke-width="0.62"/>
<circle cx="602.58" cy="563.36" r="1.8" fill="#dadada" stroke="#2e2e2e" stroke-width="0.62"/>
<circle cx="617.61" cy="570.66" r="1.8" fill="#dadada" stroke="#2e2e2e" stroke-width="0.62"/>
<circle cx="583.68" cy="562.46" r="1.8" fill="#dadada" stroke="#2e2e2e" stroke-width="0.62"/>
<circle cx="581.62" cy="574.00" r="1.8" fill="#dadada" stroke="#2e2e2e" stroke-width="0.62"/>
<circle cx="590.72" cy="561.54" r="1.8" fill="#dadada" stroke="#2e2e2e" stroke-width="0.62"/>
<circle cx="569.50" cy="571.43" r="1.8" fill="#dadada" stroke="#2e2e2e" stroke-width="0.62"/>
<circle cx="578.81" cy="575.82" r="1.8" fill="#dadada" stroke="#2e2e2e" stroke-width="0.62"/>
<circle cx="567.89" cy="567.66" r="1.8" fill="#dadada" stroke="#2e2e2e" stroke-width="0.62"/>
<circle cx="587.17" cy="568.05" r="1.8" fill="#dadada" stroke="#2e2e2e" stroke-width="0.62"/>
<circle cx="574.45" cy="563.14" r="1.8" fill="#dadada" stroke="#2e2e2e" stroke-width="0.62"/>
<circle cx="568.24" cy="567.75" r="1.8" fill="#dadada" stroke="#2e2e2e" stroke-width="0.62"/>
<circle cx="592.61" cy="570.01" r="1.8" fill="#dadada" stroke="#2e2e2e" stroke-width="0.62"/>
<circle cx="589.09" cy="574.59" r="1.8" fill="#dadada" stroke="#2e2e2e" stroke-width="0.62"/>
<circle cx="577.15" cy="579.69" r="1.8" fill="#dadada" stroke="#2e2e2e" stroke-width="0.62"/>
<circle cx="576.88" cy="567.63" r="1.8" fill="#dadada" stroke="#2e2e2e" stroke-width="0.62"/>
<circle cx="578.36" cy="567.64" r="1.8" fill="#dadada" stroke="#2e2e2e" stroke-width="0.62"/>
<circle cx="588.05" cy="567.44" r="1.8" fill="#dadada" stroke="#2e2e2e" stroke-width="0.62"/>
<circle cx="607.21" cy="558.13" r="1.8" fill="#dadada" stroke="#2e2e2e" stroke-width="0.62"/>
<circle cx="581.43" cy="572.48" r="1.8" fill="#dadada" stroke="#2e2e2e" stroke-width="0.62"/>
<circle cx="584.99" cy="567.09" r="1.8" fill="#dadada" stroke="#2e2e2e" stroke-width="0.62"/>
<circle cx="564.20" cy="566.30" r="1.8" fill="#dadada" stroke="#2e2e2e" stroke-width="0.62"/>
<circle cx="595.18" cy="570.51" r="1.8" fill="#dadada" stroke="#2e2e2e" stroke-width="0.62"/>
<circle cx="559.74" cy="572.34" r="1.8" fill="#dadada" stroke="#2e2e2e" stroke-width="0.62"/>
<circle cx="584.47" cy="563.56" r="1.8" fill="#dadada" stroke="#2e2e2e" stroke-width="0.62"/>
<circle cx="584.81" cy="562.44" r="1.8" fill="#dadada" stroke="#2e2e2e" stroke-width="0.62"/>
<circle cx="568.25" cy="573.06" r="1.8" fill="#dadada" stroke="#2e2e2e" stroke-width="0.62"/>
<circle cx="597.07" cy="573.07" r="1.8" fill="#dadada" stroke="#2e2e2e" stroke-width="0.62"/>
<circle cx="584.22" cy="562.62" r="1.8" fill="#dadada" stroke="#2e2e2e" stroke-width="0.62"/>
<circle cx="583.84" cy="568.53" r="1.8" fill="#dadada" stroke="#2e2e2e" stroke-width="0.62"/>
<circle cx="566.06" cy="564.81" r="1.8" fill="#dadada" stroke="#2e2e2e" stroke-width="0.62"/>
<circle cx="596.39" cy="558.45" r="1.8" fill="#dadada" stroke="#2e2e2e" stroke-width="0.62"/>
<circle cx="595.07" cy="568.76" r="1.8" fill="#dadada" stroke="#2e2e2e" stroke-width="0.62"/>
<circle cx="571.79" cy="565.39" r="1.8" fill="#dadada" stroke="#2e2e2e" stroke-width="0.62"/>
<circle cx="580.75" cy="568.56" r="1.8" fill="#dadada" stroke="#2e2e2e" stroke-width="0.62"/>
<circle cx="573.93" cy="567.92" r="1.8" fill="#dadada" stroke="#2e2e2e" stroke-width="0.62"/>
<circle cx="574.22" cy="575.93" r="1.8" fill="#dadada" stroke="#2e2e2e" stroke-width="0.62"/>
<circle cx="556.43" cy="572.57" r="1.8" fill="#dadada" stroke="#2e2e2e" stroke-width="0.62"/>
<circle cx="604.60" cy="555.86" r="1.8" fill="#dadada" stroke="#2e2e2e" stroke-width="0.62"/>
<circle cx="590.65" cy="570.75" r="1.8" fill="#dadada" stroke="#2e2e2e" stroke-width="0.62"/>
<circle cx="561.93" cy="572.29" r="1.8" fill="#dadada" stroke="#2e2e2e" stroke-width="0.62"/>
<circle cx="601.76" cy="571.15" r="1.8" fill="#dadada" stroke="#2e2e2e" stroke-width="0.62"/>
<circle cx="570.06" cy="568.47" r="1.8" fill="#dadada" stroke="#2e2e2e" stroke-width="0.62"/>
<circle cx="575.21" cy="561.58" r="1.8" fill="#dadada" stroke="#2e2e2e" stroke-width="0.62"/>
<circle cx="597.31" cy="566.99" r="1.8" fill="#dadada" stroke="#2e2e2e" stroke-width="0.62"/>
<circle cx="567.11" cy="561.72" r="1.8" fill="#dadada" stroke="#2e2e2e" stroke-width="0.62"/>
<circle cx="577.08" cy="570.46" r="1.8" fill="#dadada" stroke="#2e2e2e" stroke-width="0.62"/>
<circle cx="572.35" cy="557.72" r="1.8" fill="#dadada" stroke="#2e2e2e" stroke-width="0.62"/>
<circle cx="596.70" cy="565.20" r="1.8" fill="#dadada" stroke="#2e2e2e" stroke-width="0.62"/>
<circle cx="592.36" cy="564.65" r="1.8" fill="#dadada" stroke="#2e2e2e" stroke-width="0.62"/>
<circle cx="599.67" cy="567.99" r="1.8" fill="#dadada" stroke="#2e2e2e" stroke-width="0.62"/>
<circle cx="586.51" cy="569.06" r="1.8" fill="#dadada" stroke="#2e2e2e" stroke-width="0.62"/>
<circle cx="565.14" cy="573.69" r="1.8" fill="#dadada" stroke="#2e2e2e" stroke-width="0.62"/>
<circle cx="581.75" cy="557.97" r="1.8" fill="#dadada" stroke="#2e2e2e" stroke-width="0.62"/>
<circle cx="595.60" cy="560.37" r="1.8" fill="#dadada" stroke="#2e2e2e" stroke-width="0.62"/>
<circle cx="576.99" cy="570.36" r="1.8" fill="#dadada" stroke="#2e2e2e" stroke-width="0.62"/>
<circle cx="569.19" cy="571.22" r="1.8" fill="#dadada" stroke="#2e2e2e" stroke-width="0.62"/>
<circle cx="615.42" cy="572.71" r="1.8" fill="#dadada" stroke="#2e2e2e" stroke-width="0.62"/>
<circle cx="570.03" cy="556.05" r="1.8" fill="#dadada" stroke="#2e2e2e" stroke-width="0.62"/>
<circle cx="566.60" cy="564.79" r="1.8" fill="#dadada" stroke="#2e2e2e" stroke-width="0.62"/>
<circle cx="556.75" cy="573.03" r="1.8" fill="#dadada" stroke="#2e2e2e" stroke-width="0.62"/>
<circle cx="569.16" cy="578.05" r="1.8" fill="#dadada" stroke="#2e2e2e" stroke-width="0.62"/>
<circle cx="586.08" cy="569.79" r="1.8" fill="#dadada" stroke="#2e2e2e" stroke-width="0.62"/>
<circle cx="573.30" cy="567.90" r="1.8" fill="#dadada" stroke="#2e2e2e" stroke-width="0.62"/>
<circle cx="597.21" cy="554.25" r="1.8" fill="#dadada" stroke="#2e2e2e" stroke-width="0.62"/>
<circle cx="592.12" cy="555.39" r="1.8" fill="#dadada" stroke="#2e2e2e" stroke-width="0.62"/>
<circle cx="572.23" cy="573.92" r="1.8" fill="#dadada" stroke="#2e2e2e" stroke-width="0.62"/>
<circle cx="559.56" cy="569.70" r="1.8" fill="#dadada" stroke="#2e2e2e" stroke-width="0.62"/>
<circle cx="575.84" cy="563.18" r="1.8" fill="#dadada" stroke="#2e2e2e" stroke-width="0.62"/>
<circle cx="571.98" cy="576.48" r="1.8" fill="#dadada" stroke="#2e2e2e" stroke-width="0.62"/>
<circle cx="591.25" cy="563.35" r="1.8" fill="#dadada" stroke="#2e2e2e" stroke-width="0.62"/>
<circle cx="547.94" cy="571.84" r="1.8" fill="#dadada" stroke="#2e2e2e" stroke-width="0.62"/>
<circle cx="605.82" cy="559.62" r="1.8" fill="#dadada" stroke="#2e2e2e" stroke-width="0.62"/>
<circle cx="577.96" cy="575.59" r="1.8" fill="#dadada" stroke="#2e2e2e" stroke-width="0.62"/>
<circle cx="592.32" cy="565.05" r="1.8" fill="#dadada" stroke="#2e2e2e" stroke-width="0.62"/>
<circle cx="585.53" cy="576.03" r="1.8" fill="#dadada" stroke="#2e2e2e" stroke-width="0.62"/>
<circle cx="593.87" cy="560.88" r="1.8" fill="#dadada" stroke="#2e2e2e" stroke-width="0.62"/>
<circle cx="562.01" cy="561.12" r="1.8" fill="#dadada" stroke="#2e2e2e" stroke-width="0.62"/>
<circle cx="593.96" cy="565.07" r="1.8" fill="#dadada" stroke="#2e2e2e" stroke-width="0.62"/>
<circle cx="591.72" cy="559.22" r="1.8" fill="#dadada" stroke="#2e2e2e" stroke-width="0.62"/>
<circle cx="601.34" cy="580.36" r="1.8" fill="#dadada" stroke="#2e2e2e" stroke-width="0.62"/>
<circle cx="561.24" cy="566.59" r="1.8" fill="#dadada" stroke="#2e2e2e" stroke-width="0.62"/>
<circle cx="591.28" cy="573.60" r="1.8" fill="#dadada" stroke="#2e2e2e" stroke-width="0.62"/>
<circle cx="587.77" cy="560.74" r="1.8" fill="#dadada" stroke="#2e2e2e" stroke-width="0.62"/>
<circle cx="559.62" cy="577.08" r="1.8" fill="#dadada" stroke="#2e2e2e" stroke-width="0.62"/>
<circle cx="593.87" cy="558.80" r="1.8" fill="#dadada" stroke="#2e2e2e" stroke-width="0.62"/>
<circle cx="575.72" cy="572.65" r="1.8" fill="#dadada" stroke="#2e2e2e" stroke-width="0.62"/>
<circle cx="589.77" cy="569.27" r="1.8" fill="#dadada" stroke="#2e2e2e" stroke-width="0.62"/>
<circle cx="568.86" cy="568.29" r="1.8" fill="#dadada" stroke="#2e2e2e" stroke-width="0.62"/>
<circle cx="602.11" cy="566.73" r="1.8" fill="#dadada" stroke="#2e2e2e" stroke-width="0.62"/>
<circle cx="575.47" cy="572.61" r="1.8" fill="#dadada" stroke="#2e2e2e" stroke-width="0.62"/>
<circle cx="559.40" cy="561.98" r="1.8" fill="#dadada" stroke="#2e2e2e" stroke-width="0.62"/>
<circle cx="566.39" cy="566.23" r="1.8" fill="#dadada" stroke="#2e2e2e" stroke-width="0.62"/>
<circle cx="574.58" cy="561.19" r="1.8" fill="#dadada" stroke="#2e2e2e" stroke-width="0.62"/>
<circle cx="599.86" cy="520.06" r="1.8" fill="#dadada" stroke="#2e2e2e" stroke-width="0.62"/>
<circle cx="596.88" cy="527.49" r="1.8" fill="#dadada" stroke="#2e2e2e" stroke-width="0.62"/>
<circle cx="576.53" cy="533.89" r="1.8" fill="#dadada" stroke="#2e2e2e" stroke-width="0.62"/>
<circle cx="595.32" cy="534.40" r="1.8" fill="#dadada" stroke="#2e2e2e" stroke-width="0.62"/>
<circle cx="556.17" cy="535.17" r="1.8" fill="#dadada" stroke="#2e2e2e" stroke-width="0.62"/>
<circle cx="566.66" cy="541.82" r="1.8" fill="#dadada" stroke="#2e2e2e" stroke-width="0.62"/>
<circle cx="565.41" cy="545.15" r="1.8" fill="#dadada" stroke="#2e2e2e" stroke-width="0.62"/>
<circle cx="574.65" cy="542.59" r="1.8" fill="#dadada" stroke="#2e2e2e" stroke-width="0.62"/>
<circle cx="577.94" cy="544.38" r="1.8" fill="#dadada" stroke="#2e2e2e" stroke-width="0.62"/>
<circle cx="594.85" cy="539.26" r="1.8" fill="#dadada" stroke="#2e2e2e" stroke-width="0.62"/>
<circle cx="609.41" cy="545.66" r="1.8" fill="#dadada" stroke="#2e2e2e" stroke-width="0.62"/>
<circle cx="610.66" cy="552.83" r="1.8" fill="#dadada" stroke="#2e2e2e" stroke-width="0.62"/>
<circle cx="501.67" cy="562.05" r="1.8" fill="#dadada" stroke="#2e2e2e" stroke-width="0.62"/>
<circle cx="515.92" cy="565.89" r="1.8" fill="#dadada" stroke="#2e2e2e" stroke-width="0.62"/>
<circle cx="509.19" cy="573.31" r="1.8" fill="#dadada" stroke="#2e2e2e" stroke-width="0.62"/>
<circle cx="527.51" cy="553.34" r="1.8" fill="#dadada" stroke="#2e2e2e" stroke-width="0.62"/>
<circle cx="535.65" cy="560.77" r="1.8" fill="#dadada" stroke="#2e2e2e" stroke-width="0.62"/>
<circle cx="529.86" cy="577.15" r="1.8" fill="#dadada" stroke="#2e2e2e" stroke-width="0.62"/>
<circle cx="523.60" cy="580.99" r="1.8" fill="#dadada" stroke="#2e2e2e" stroke-width="0.62"/>
<circle cx="525.00" cy="579.71" r="1.8" fill="#dadada" stroke="#2e2e2e" stroke-width="0.62"/>
<circle cx="535.65" cy="573.31" r="1.8" fill="#dadada" stroke="#2e2e2e" stroke-width="0.62"/>
<circle cx="543.95" cy="576.38" r="1.8" fill="#dadada" stroke="#2e2e2e" stroke-width="0.62"/>
<circle cx="526.88" cy="568.19" r="1.8" fill="#dadada" stroke="#2e2e2e" stroke-width="0.62"/>
<circle cx="540.66" cy="567.17" r="1.8" fill="#dadada" stroke="#2e2e2e" stroke-width="0.62"/>
<circle cx="567.13" cy="583.30" r="1.8" fill="#dadada" stroke="#2e2e2e" stroke-width="0.62"/>
<circle cx="582.95" cy="585.34" r="1.8" fill="#dadada" stroke="#2e2e2e" stroke-width="0.62"/>
<circle cx="594.22" cy="582.27" r="1.8" fill="#dadada" stroke="#2e2e2e" stroke-width="0.62"/>
<circle cx="616.15" cy="575.36" r="1.8" fill="#dadada" stroke="#2e2e2e" stroke-width="0.62"/>
<circle cx="548.34" cy="554.88" r="1.8" fill="#dadada" stroke="#2e2e2e" stroke-width="0.62"/>
<circle cx="551.47" cy="554.11" r="1.8" fill="#dadada" stroke="#2e2e2e" stroke-width="0.62"/>
<circle cx="549.90" cy="563.84" r="1.8" fill="#dadada" stroke="#2e2e2e" stroke-width="0.62"/>
<circle cx="546.77" cy="561.28" r="1.8" fill="#dadada" stroke="#2e2e2e" stroke-width="0.62"/>
<line x1="499.79" y1="572.80" x2="626.64" y2="565.12" stroke="#a01818" stroke-width="2.5" stroke-dasharray="9 3.4"/>
<text x="559.60" y="630.20" font-size="8.8" text-anchor="middle" font-weight="normal" fill="#111" >Age</text>
<text transform="translate(466.8,552) rotate(-90)" font-size="8.6" text-anchor="middle" fill="#111">ADMA (μM)</text>
<text x="600.40" y="498.70" font-size="7.6" text-anchor="start" font-weight="normal" fill="#111" ><tspan font-style="italic">n</tspan> = 350, <tspan font-style="italic">P</tspan><tspan font-size="7.2" dy="-2.2">*</tspan></text>
<text x="600.40" y="507.00" font-size="7.6" text-anchor="start" font-weight="normal" fill="#111" ><tspan font-style="italic">R</tspan> = 0.108</text>
<line x1="695.0" y1="502.90" x2="695.0" y2="606.50" stroke="#000" stroke-width="1.1"/>
<line x1="694.5" y1="606.0" x2="852.00" y2="606.0" stroke="#000" stroke-width="1.1"/>
<line x1="691.2" y1="606.00" x2="695.0" y2="606.00" stroke="#000" stroke-width="1.1"/>
<text x="690.40" y="609.00" font-size="8.4" text-anchor="end" font-weight="normal" fill="#222" >0</text>
<line x1="691.2" y1="580.35" x2="695.0" y2="580.35" stroke="#000" stroke-width="1.1"/>
<text x="690.40" y="583.35" font-size="8.4" text-anchor="end" font-weight="normal" fill="#222" >1</text>
<line x1="691.2" y1="554.70" x2="695.0" y2="554.70" stroke="#000" stroke-width="1.1"/>
<text x="690.40" y="557.70" font-size="8.4" text-anchor="end" font-weight="normal" fill="#222" >2</text>
<line x1="691.2" y1="529.05" x2="695.0" y2="529.05" stroke="#000" stroke-width="1.1"/>
<text x="690.40" y="532.05" font-size="8.4" text-anchor="end" font-weight="normal" fill="#222" >3</text>
<line x1="691.2" y1="503.40" x2="695.0" y2="503.40" stroke="#000" stroke-width="1.1"/>
<text x="690.40" y="506.40" font-size="8.4" text-anchor="end" font-weight="normal" fill="#222" >4</text>
<line x1="695.00" y1="606.0" x2="695.00" y2="609.8" stroke="#000" stroke-width="1.1"/>
<text x="695.00" y="618.20" font-size="8.4" text-anchor="middle" font-weight="normal" fill="#222" >0</text>
<line x1="726.30" y1="606.0" x2="726.30" y2="609.8" stroke="#000" stroke-width="1.1"/>
<text x="726.30" y="618.20" font-size="8.4" text-anchor="middle" font-weight="normal" fill="#222" >10</text>
<line x1="757.60" y1="606.0" x2="757.60" y2="609.8" stroke="#000" stroke-width="1.1"/>
<text x="757.60" y="618.20" font-size="8.4" text-anchor="middle" font-weight="normal" fill="#222" >20</text>
<line x1="788.90" y1="606.0" x2="788.90" y2="609.8" stroke="#000" stroke-width="1.1"/>
<text x="788.90" y="618.20" font-size="8.4" text-anchor="middle" font-weight="normal" fill="#222" >30</text>
<line x1="820.20" y1="606.0" x2="820.20" y2="609.8" stroke="#000" stroke-width="1.1"/>
<text x="820.20" y="618.20" font-size="8.4" text-anchor="middle" font-weight="normal" fill="#222" >40</text>
<line x1="851.50" y1="606.0" x2="851.50" y2="609.8" stroke="#000" stroke-width="1.1"/>
<text x="851.50" y="618.20" font-size="8.4" text-anchor="middle" font-weight="normal" fill="#222" >50</text>
<circle cx="784.54" cy="565.58" r="1.8" fill="#dadada" stroke="#2e2e2e" stroke-width="0.62"/>
<circle cx="779.46" cy="568.85" r="1.8" fill="#dadada" stroke="#2e2e2e" stroke-width="0.62"/>
<circle cx="765.41" cy="571.97" r="1.8" fill="#dadada" stroke="#2e2e2e" stroke-width="0.62"/>
<circle cx="769.85" cy="566.96" r="1.8" fill="#dadada" stroke="#2e2e2e" stroke-width="0.62"/>
<circle cx="787.25" cy="575.44" r="1.8" fill="#dadada" stroke="#2e2e2e" stroke-width="0.62"/>
<circle cx="759.65" cy="567.59" r="1.8" fill="#dadada" stroke="#2e2e2e" stroke-width="0.62"/>
<circle cx="780.99" cy="561.25" r="1.8" fill="#dadada" stroke="#2e2e2e" stroke-width="0.62"/>
<circle cx="774.18" cy="572.91" r="1.8" fill="#dadada" stroke="#2e2e2e" stroke-width="0.62"/>
<circle cx="783.11" cy="563.06" r="1.8" fill="#dadada" stroke="#2e2e2e" stroke-width="0.62"/>
<circle cx="782.39" cy="564.10" r="1.8" fill="#dadada" stroke="#2e2e2e" stroke-width="0.62"/>
<circle cx="773.80" cy="566.86" r="1.8" fill="#dadada" stroke="#2e2e2e" stroke-width="0.62"/>
<circle cx="762.50" cy="558.65" r="1.8" fill="#dadada" stroke="#2e2e2e" stroke-width="0.62"/>
<circle cx="766.40" cy="569.94" r="1.8" fill="#dadada" stroke="#2e2e2e" stroke-width="0.62"/>
<circle cx="779.19" cy="567.98" r="1.8" fill="#dadada" stroke="#2e2e2e" stroke-width="0.62"/>
<circle cx="794.30" cy="569.82" r="1.8" fill="#dadada" stroke="#2e2e2e" stroke-width="0.62"/>
<circle cx="762.20" cy="573.46" r="1.8" fill="#dadada" stroke="#2e2e2e" stroke-width="0.62"/>
<circle cx="777.61" cy="571.37" r="1.8" fill="#dadada" stroke="#2e2e2e" stroke-width="0.62"/>
<circle cx="778.30" cy="580.75" r="1.8" fill="#dadada" stroke="#2e2e2e" stroke-width="0.62"/>
<circle cx="768.70" cy="558.78" r="1.8" fill="#dadada" stroke="#2e2e2e" stroke-width="0.62"/>
<circle cx="766.68" cy="560.15" r="1.8" fill="#dadada" stroke="#2e2e2e" stroke-width="0.62"/>
<circle cx="774.10" cy="564.57" r="1.8" fill="#dadada" stroke="#2e2e2e" stroke-width="0.62"/>
<circle cx="782.36" cy="569.38" r="1.8" fill="#dadada" stroke="#2e2e2e" stroke-width="0.62"/>
<circle cx="774.79" cy="563.89" r="1.8" fill="#dadada" stroke="#2e2e2e" stroke-width="0.62"/>
<circle cx="766.32" cy="568.86" r="1.8" fill="#dadada" stroke="#2e2e2e" stroke-width="0.62"/>
<circle cx="784.91" cy="567.40" r="1.8" fill="#dadada" stroke="#2e2e2e" stroke-width="0.62"/>
<circle cx="772.47" cy="568.54" r="1.8" fill="#dadada" stroke="#2e2e2e" stroke-width="0.62"/>
<circle cx="780.01" cy="569.20" r="1.8" fill="#dadada" stroke="#2e2e2e" stroke-width="0.62"/>
<circle cx="790.37" cy="570.54" r="1.8" fill="#dadada" stroke="#2e2e2e" stroke-width="0.62"/>
<circle cx="796.19" cy="579.18" r="1.8" fill="#dadada" stroke="#2e2e2e" stroke-width="0.62"/>
<circle cx="767.38" cy="575.96" r="1.8" fill="#dadada" stroke="#2e2e2e" stroke-width="0.62"/>
<circle cx="765.38" cy="570.87" r="1.8" fill="#dadada" stroke="#2e2e2e" stroke-width="0.62"/>
<circle cx="786.58" cy="571.73" r="1.8" fill="#dadada" stroke="#2e2e2e" stroke-width="0.62"/>
<circle cx="772.35" cy="572.79" r="1.8" fill="#dadada" stroke="#2e2e2e" stroke-width="0.62"/>
<circle cx="787.12" cy="564.87" r="1.8" fill="#dadada" stroke="#2e2e2e" stroke-width="0.62"/>
<circle cx="786.69" cy="569.84" r="1.8" fill="#dadada" stroke="#2e2e2e" stroke-width="0.62"/>
<circle cx="773.94" cy="562.25" r="1.8" fill="#dadada" stroke="#2e2e2e" stroke-width="0.62"/>
<circle cx="782.66" cy="569.52" r="1.8" fill="#dadada" stroke="#2e2e2e" stroke-width="0.62"/>
<circle cx="758.72" cy="563.30" r="1.8" fill="#dadada" stroke="#2e2e2e" stroke-width="0.62"/>
<circle cx="774.07" cy="561.58" r="1.8" fill="#dadada" stroke="#2e2e2e" stroke-width="0.62"/>
<circle cx="779.71" cy="557.50" r="1.8" fill="#dadada" stroke="#2e2e2e" stroke-width="0.62"/>
<circle cx="779.48" cy="566.95" r="1.8" fill="#dadada" stroke="#2e2e2e" stroke-width="0.62"/>
<circle cx="757.35" cy="562.63" r="1.8" fill="#dadada" stroke="#2e2e2e" stroke-width="0.62"/>
<circle cx="781.47" cy="583.19" r="1.8" fill="#dadada" stroke="#2e2e2e" stroke-width="0.62"/>
<circle cx="768.99" cy="567.44" r="1.8" fill="#dadada" stroke="#2e2e2e" stroke-width="0.62"/>
<circle cx="754.52" cy="569.47" r="1.8" fill="#dadada" stroke="#2e2e2e" stroke-width="0.62"/>
<circle cx="756.66" cy="566.50" r="1.8" fill="#dadada" stroke="#2e2e2e" stroke-width="0.62"/>
<circle cx="759.94" cy="567.12" r="1.8" fill="#dadada" stroke="#2e2e2e" stroke-width="0.62"/>
<circle cx="784.29" cy="572.29" r="1.8" fill="#dadada" stroke="#2e2e2e" stroke-width="0.62"/>
<circle cx="760.70" cy="569.77" r="1.8" fill="#dadada" stroke="#2e2e2e" stroke-width="0.62"/>
<circle cx="800.24" cy="571.45" r="1.8" fill="#dadada" stroke="#2e2e2e" stroke-width="0.62"/>
<circle cx="765.68" cy="563.43" r="1.8" fill="#dadada" stroke="#2e2e2e" stroke-width="0.62"/>
<circle cx="770.34" cy="566.49" r="1.8" fill="#dadada" stroke="#2e2e2e" stroke-width="0.62"/>
<circle cx="760.10" cy="564.58" r="1.8" fill="#dadada" stroke="#2e2e2e" stroke-width="0.62"/>
<circle cx="764.92" cy="562.83" r="1.8" fill="#dadada" stroke="#2e2e2e" stroke-width="0.62"/>
<circle cx="789.31" cy="557.84" r="1.8" fill="#dadada" stroke="#2e2e2e" stroke-width="0.62"/>
<circle cx="773.55" cy="569.85" r="1.8" fill="#dadada" stroke="#2e2e2e" stroke-width="0.62"/>
<circle cx="767.83" cy="559.26" r="1.8" fill="#dadada" stroke="#2e2e2e" stroke-width="0.62"/>
<circle cx="786.12" cy="574.59" r="1.8" fill="#dadada" stroke="#2e2e2e" stroke-width="0.62"/>
<circle cx="787.06" cy="565.36" r="1.8" fill="#dadada" stroke="#2e2e2e" stroke-width="0.62"/>
<circle cx="780.61" cy="568.17" r="1.8" fill="#dadada" stroke="#2e2e2e" stroke-width="0.62"/>
<circle cx="774.22" cy="559.79" r="1.8" fill="#dadada" stroke="#2e2e2e" stroke-width="0.62"/>
<circle cx="771.09" cy="565.94" r="1.8" fill="#dadada" stroke="#2e2e2e" stroke-width="0.62"/>
<circle cx="755.03" cy="567.82" r="1.8" fill="#dadada" stroke="#2e2e2e" stroke-width="0.62"/>
<circle cx="774.74" cy="557.48" r="1.8" fill="#dadada" stroke="#2e2e2e" stroke-width="0.62"/>
<circle cx="788.14" cy="568.84" r="1.8" fill="#dadada" stroke="#2e2e2e" stroke-width="0.62"/>
<circle cx="792.85" cy="568.22" r="1.8" fill="#dadada" stroke="#2e2e2e" stroke-width="0.62"/>
<circle cx="778.11" cy="555.07" r="1.8" fill="#dadada" stroke="#2e2e2e" stroke-width="0.62"/>
<circle cx="778.68" cy="574.84" r="1.8" fill="#dadada" stroke="#2e2e2e" stroke-width="0.62"/>
<circle cx="780.72" cy="568.55" r="1.8" fill="#dadada" stroke="#2e2e2e" stroke-width="0.62"/>
<circle cx="787.40" cy="570.95" r="1.8" fill="#dadada" stroke="#2e2e2e" stroke-width="0.62"/>
<circle cx="789.80" cy="580.32" r="1.8" fill="#dadada" stroke="#2e2e2e" stroke-width="0.62"/>
<circle cx="772.82" cy="559.14" r="1.8" fill="#dadada" stroke="#2e2e2e" stroke-width="0.62"/>
<circle cx="759.01" cy="570.42" r="1.8" fill="#dadada" stroke="#2e2e2e" stroke-width="0.62"/>
<circle cx="766.77" cy="563.27" r="1.8" fill="#dadada" stroke="#2e2e2e" stroke-width="0.62"/>
<circle cx="792.89" cy="570.43" r="1.8" fill="#dadada" stroke="#2e2e2e" stroke-width="0.62"/>
<circle cx="762.04" cy="568.96" r="1.8" fill="#dadada" stroke="#2e2e2e" stroke-width="0.62"/>
<circle cx="763.29" cy="564.90" r="1.8" fill="#dadada" stroke="#2e2e2e" stroke-width="0.62"/>
<circle cx="766.73" cy="576.68" r="1.8" fill="#dadada" stroke="#2e2e2e" stroke-width="0.62"/>
<circle cx="774.93" cy="580.44" r="1.8" fill="#dadada" stroke="#2e2e2e" stroke-width="0.62"/>
<circle cx="784.84" cy="560.00" r="1.8" fill="#dadada" stroke="#2e2e2e" stroke-width="0.62"/>
<circle cx="763.03" cy="572.56" r="1.8" fill="#dadada" stroke="#2e2e2e" stroke-width="0.62"/>
<circle cx="780.80" cy="567.80" r="1.8" fill="#dadada" stroke="#2e2e2e" stroke-width="0.62"/>
<circle cx="773.33" cy="566.07" r="1.8" fill="#dadada" stroke="#2e2e2e" stroke-width="0.62"/>
<circle cx="767.24" cy="571.23" r="1.8" fill="#dadada" stroke="#2e2e2e" stroke-width="0.62"/>
<circle cx="794.53" cy="574.96" r="1.8" fill="#dadada" stroke="#2e2e2e" stroke-width="0.62"/>
<circle cx="778.64" cy="565.41" r="1.8" fill="#dadada" stroke="#2e2e2e" stroke-width="0.62"/>
<circle cx="768.86" cy="571.09" r="1.8" fill="#dadada" stroke="#2e2e2e" stroke-width="0.62"/>
<circle cx="779.14" cy="564.96" r="1.8" fill="#dadada" stroke="#2e2e2e" stroke-width="0.62"/>
<circle cx="760.11" cy="567.90" r="1.8" fill="#dadada" stroke="#2e2e2e" stroke-width="0.62"/>
<circle cx="774.37" cy="565.83" r="1.8" fill="#dadada" stroke="#2e2e2e" stroke-width="0.62"/>
<circle cx="767.34" cy="570.09" r="1.8" fill="#dadada" stroke="#2e2e2e" stroke-width="0.62"/>
<circle cx="771.28" cy="554.07" r="1.8" fill="#dadada" stroke="#2e2e2e" stroke-width="0.62"/>
<circle cx="776.18" cy="568.86" r="1.8" fill="#dadada" stroke="#2e2e2e" stroke-width="0.62"/>
<circle cx="783.72" cy="577.15" r="1.8" fill="#dadada" stroke="#2e2e2e" stroke-width="0.62"/>
<circle cx="792.28" cy="570.64" r="1.8" fill="#dadada" stroke="#2e2e2e" stroke-width="0.62"/>
<circle cx="768.59" cy="561.40" r="1.8" fill="#dadada" stroke="#2e2e2e" stroke-width="0.62"/>
<circle cx="755.90" cy="570.90" r="1.8" fill="#dadada" stroke="#2e2e2e" stroke-width="0.62"/>
<circle cx="759.01" cy="567.86" r="1.8" fill="#dadada" stroke="#2e2e2e" stroke-width="0.62"/>
<circle cx="781.98" cy="577.23" r="1.8" fill="#dadada" stroke="#2e2e2e" stroke-width="0.62"/>
<circle cx="752.82" cy="574.36" r="1.8" fill="#dadada" stroke="#2e2e2e" stroke-width="0.62"/>
<circle cx="766.01" cy="566.24" r="1.8" fill="#dadada" stroke="#2e2e2e" stroke-width="0.62"/>
<circle cx="783.68" cy="562.67" r="1.8" fill="#dadada" stroke="#2e2e2e" stroke-width="0.62"/>
<circle cx="766.44" cy="558.06" r="1.8" fill="#dadada" stroke="#2e2e2e" stroke-width="0.62"/>
<circle cx="768.15" cy="568.16" r="1.8" fill="#dadada" stroke="#2e2e2e" stroke-width="0.62"/>
<circle cx="761.14" cy="562.60" r="1.8" fill="#dadada" stroke="#2e2e2e" stroke-width="0.62"/>
<circle cx="782.16" cy="577.72" r="1.8" fill="#dadada" stroke="#2e2e2e" stroke-width="0.62"/>
<circle cx="790.51" cy="563.17" r="1.8" fill="#dadada" stroke="#2e2e2e" stroke-width="0.62"/>
<circle cx="759.58" cy="576.10" r="1.8" fill="#dadada" stroke="#2e2e2e" stroke-width="0.62"/>
<circle cx="777.58" cy="569.86" r="1.8" fill="#dadada" stroke="#2e2e2e" stroke-width="0.62"/>
<circle cx="778.58" cy="570.02" r="1.8" fill="#dadada" stroke="#2e2e2e" stroke-width="0.62"/>
<circle cx="770.96" cy="578.84" r="1.8" fill="#dadada" stroke="#2e2e2e" stroke-width="0.62"/>
<circle cx="788.89" cy="575.91" r="1.8" fill="#dadada" stroke="#2e2e2e" stroke-width="0.62"/>
<circle cx="773.59" cy="563.57" r="1.8" fill="#dadada" stroke="#2e2e2e" stroke-width="0.62"/>
<circle cx="777.61" cy="559.85" r="1.8" fill="#dadada" stroke="#2e2e2e" stroke-width="0.62"/>
<circle cx="777.90" cy="582.96" r="1.8" fill="#dadada" stroke="#2e2e2e" stroke-width="0.62"/>
<circle cx="758.23" cy="560.19" r="1.8" fill="#dadada" stroke="#2e2e2e" stroke-width="0.62"/>
<circle cx="770.55" cy="571.19" r="1.8" fill="#dadada" stroke="#2e2e2e" stroke-width="0.62"/>
<circle cx="760.92" cy="574.49" r="1.8" fill="#dadada" stroke="#2e2e2e" stroke-width="0.62"/>
<circle cx="776.81" cy="575.04" r="1.8" fill="#dadada" stroke="#2e2e2e" stroke-width="0.62"/>
<circle cx="770.94" cy="570.64" r="1.8" fill="#dadada" stroke="#2e2e2e" stroke-width="0.62"/>
<circle cx="778.60" cy="578.00" r="1.8" fill="#dadada" stroke="#2e2e2e" stroke-width="0.62"/>
<circle cx="779.59" cy="562.55" r="1.8" fill="#dadada" stroke="#2e2e2e" stroke-width="0.62"/>
<circle cx="784.88" cy="575.30" r="1.8" fill="#dadada" stroke="#2e2e2e" stroke-width="0.62"/>
<circle cx="768.81" cy="565.40" r="1.8" fill="#dadada" stroke="#2e2e2e" stroke-width="0.62"/>
<circle cx="776.15" cy="569.08" r="1.8" fill="#dadada" stroke="#2e2e2e" stroke-width="0.62"/>
<circle cx="791.34" cy="570.30" r="1.8" fill="#dadada" stroke="#2e2e2e" stroke-width="0.62"/>
<circle cx="770.35" cy="564.36" r="1.8" fill="#dadada" stroke="#2e2e2e" stroke-width="0.62"/>
<circle cx="754.11" cy="567.72" r="1.8" fill="#dadada" stroke="#2e2e2e" stroke-width="0.62"/>
<circle cx="774.48" cy="564.92" r="1.8" fill="#dadada" stroke="#2e2e2e" stroke-width="0.62"/>
<circle cx="777.19" cy="569.42" r="1.8" fill="#dadada" stroke="#2e2e2e" stroke-width="0.62"/>
<circle cx="752.35" cy="572.71" r="1.8" fill="#dadada" stroke="#2e2e2e" stroke-width="0.62"/>
<circle cx="765.24" cy="561.23" r="1.8" fill="#dadada" stroke="#2e2e2e" stroke-width="0.62"/>
<circle cx="778.80" cy="567.30" r="1.8" fill="#dadada" stroke="#2e2e2e" stroke-width="0.62"/>
<circle cx="783.69" cy="576.11" r="1.8" fill="#dadada" stroke="#2e2e2e" stroke-width="0.62"/>
<circle cx="764.03" cy="567.81" r="1.8" fill="#dadada" stroke="#2e2e2e" stroke-width="0.62"/>
<circle cx="779.74" cy="575.88" r="1.8" fill="#dadada" stroke="#2e2e2e" stroke-width="0.62"/>
<circle cx="755.40" cy="564.74" r="1.8" fill="#dadada" stroke="#2e2e2e" stroke-width="0.62"/>
<circle cx="774.29" cy="559.81" r="1.8" fill="#dadada" stroke="#2e2e2e" stroke-width="0.62"/>
<circle cx="773.16" cy="554.89" r="1.8" fill="#dadada" stroke="#2e2e2e" stroke-width="0.62"/>
<circle cx="778.87" cy="570.62" r="1.8" fill="#dadada" stroke="#2e2e2e" stroke-width="0.62"/>
<circle cx="758.33" cy="567.06" r="1.8" fill="#dadada" stroke="#2e2e2e" stroke-width="0.62"/>
<circle cx="782.28" cy="568.19" r="1.8" fill="#dadada" stroke="#2e2e2e" stroke-width="0.62"/>
<circle cx="779.76" cy="566.67" r="1.8" fill="#dadada" stroke="#2e2e2e" stroke-width="0.62"/>
<circle cx="774.01" cy="576.31" r="1.8" fill="#dadada" stroke="#2e2e2e" stroke-width="0.62"/>
<circle cx="765.37" cy="576.21" r="1.8" fill="#dadada" stroke="#2e2e2e" stroke-width="0.62"/>
<circle cx="776.43" cy="574.65" r="1.8" fill="#dadada" stroke="#2e2e2e" stroke-width="0.62"/>
<circle cx="766.27" cy="568.55" r="1.8" fill="#dadada" stroke="#2e2e2e" stroke-width="0.62"/>
<circle cx="780.06" cy="563.07" r="1.8" fill="#dadada" stroke="#2e2e2e" stroke-width="0.62"/>
<circle cx="761.76" cy="566.89" r="1.8" fill="#dadada" stroke="#2e2e2e" stroke-width="0.62"/>
<circle cx="780.39" cy="574.58" r="1.8" fill="#dadada" stroke="#2e2e2e" stroke-width="0.62"/>
<circle cx="781.90" cy="566.91" r="1.8" fill="#dadada" stroke="#2e2e2e" stroke-width="0.62"/>
<circle cx="762.02" cy="567.74" r="1.8" fill="#dadada" stroke="#2e2e2e" stroke-width="0.62"/>
<circle cx="784.40" cy="569.10" r="1.8" fill="#dadada" stroke="#2e2e2e" stroke-width="0.62"/>
<circle cx="789.91" cy="567.91" r="1.8" fill="#dadada" stroke="#2e2e2e" stroke-width="0.62"/>
<circle cx="780.76" cy="578.46" r="1.8" fill="#dadada" stroke="#2e2e2e" stroke-width="0.62"/>
<circle cx="770.39" cy="576.73" r="1.8" fill="#dadada" stroke="#2e2e2e" stroke-width="0.62"/>
<circle cx="771.86" cy="569.91" r="1.8" fill="#dadada" stroke="#2e2e2e" stroke-width="0.62"/>
<circle cx="794.02" cy="580.12" r="1.8" fill="#dadada" stroke="#2e2e2e" stroke-width="0.62"/>
<circle cx="776.15" cy="569.08" r="1.8" fill="#dadada" stroke="#2e2e2e" stroke-width="0.62"/>
<circle cx="764.20" cy="566.51" r="1.8" fill="#dadada" stroke="#2e2e2e" stroke-width="0.62"/>
<circle cx="761.46" cy="571.37" r="1.8" fill="#dadada" stroke="#2e2e2e" stroke-width="0.62"/>
<circle cx="749.52" cy="572.34" r="1.8" fill="#dadada" stroke="#2e2e2e" stroke-width="0.62"/>
<circle cx="781.07" cy="564.63" r="1.8" fill="#dadada" stroke="#2e2e2e" stroke-width="0.62"/>
<circle cx="780.10" cy="564.92" r="1.8" fill="#dadada" stroke="#2e2e2e" stroke-width="0.62"/>
<circle cx="763.78" cy="567.03" r="1.8" fill="#dadada" stroke="#2e2e2e" stroke-width="0.62"/>
<circle cx="787.24" cy="561.08" r="1.8" fill="#dadada" stroke="#2e2e2e" stroke-width="0.62"/>
<circle cx="757.86" cy="573.97" r="1.8" fill="#dadada" stroke="#2e2e2e" stroke-width="0.62"/>
<circle cx="781.69" cy="571.08" r="1.8" fill="#dadada" stroke="#2e2e2e" stroke-width="0.62"/>
<circle cx="786.46" cy="574.76" r="1.8" fill="#dadada" stroke="#2e2e2e" stroke-width="0.62"/>
<circle cx="787.90" cy="574.01" r="1.8" fill="#dadada" stroke="#2e2e2e" stroke-width="0.62"/>
<circle cx="777.83" cy="561.72" r="1.8" fill="#dadada" stroke="#2e2e2e" stroke-width="0.62"/>
<circle cx="755.48" cy="567.68" r="1.8" fill="#dadada" stroke="#2e2e2e" stroke-width="0.62"/>
<circle cx="771.74" cy="577.58" r="1.8" fill="#dadada" stroke="#2e2e2e" stroke-width="0.62"/>
<circle cx="772.57" cy="566.05" r="1.8" fill="#dadada" stroke="#2e2e2e" stroke-width="0.62"/>
<circle cx="768.45" cy="560.22" r="1.8" fill="#dadada" stroke="#2e2e2e" stroke-width="0.62"/>
<circle cx="759.55" cy="567.05" r="1.8" fill="#dadada" stroke="#2e2e2e" stroke-width="0.62"/>
<circle cx="755.97" cy="570.12" r="1.8" fill="#dadada" stroke="#2e2e2e" stroke-width="0.62"/>
<circle cx="790.36" cy="570.21" r="1.8" fill="#dadada" stroke="#2e2e2e" stroke-width="0.62"/>
<circle cx="782.17" cy="570.94" r="1.8" fill="#dadada" stroke="#2e2e2e" stroke-width="0.62"/>
<circle cx="774.74" cy="566.45" r="1.8" fill="#dadada" stroke="#2e2e2e" stroke-width="0.62"/>
<circle cx="783.96" cy="570.91" r="1.8" fill="#dadada" stroke="#2e2e2e" stroke-width="0.62"/>
<circle cx="770.40" cy="581.81" r="1.8" fill="#dadada" stroke="#2e2e2e" stroke-width="0.62"/>
<circle cx="779.56" cy="572.63" r="1.8" fill="#dadada" stroke="#2e2e2e" stroke-width="0.62"/>
<circle cx="755.76" cy="567.60" r="1.8" fill="#dadada" stroke="#2e2e2e" stroke-width="0.62"/>
<circle cx="790.26" cy="560.98" r="1.8" fill="#dadada" stroke="#2e2e2e" stroke-width="0.62"/>
<circle cx="774.35" cy="570.67" r="1.8" fill="#dadada" stroke="#2e2e2e" stroke-width="0.62"/>
<circle cx="778.84" cy="564.49" r="1.8" fill="#dadada" stroke="#2e2e2e" stroke-width="0.62"/>
<circle cx="772.70" cy="572.00" r="1.8" fill="#dadada" stroke="#2e2e2e" stroke-width="0.62"/>
<circle cx="755.29" cy="565.17" r="1.8" fill="#dadada" stroke="#2e2e2e" stroke-width="0.62"/>
<circle cx="758.61" cy="557.86" r="1.8" fill="#dadada" stroke="#2e2e2e" stroke-width="0.62"/>
<circle cx="777.37" cy="559.26" r="1.8" fill="#dadada" stroke="#2e2e2e" stroke-width="0.62"/>
<circle cx="772.85" cy="562.84" r="1.8" fill="#dadada" stroke="#2e2e2e" stroke-width="0.62"/>
<circle cx="774.36" cy="570.55" r="1.8" fill="#dadada" stroke="#2e2e2e" stroke-width="0.62"/>
<circle cx="769.49" cy="571.21" r="1.8" fill="#dadada" stroke="#2e2e2e" stroke-width="0.62"/>
<circle cx="778.15" cy="564.81" r="1.8" fill="#dadada" stroke="#2e2e2e" stroke-width="0.62"/>
<circle cx="781.09" cy="574.02" r="1.8" fill="#dadada" stroke="#2e2e2e" stroke-width="0.62"/>
<circle cx="785.38" cy="574.43" r="1.8" fill="#dadada" stroke="#2e2e2e" stroke-width="0.62"/>
<circle cx="773.38" cy="563.82" r="1.8" fill="#dadada" stroke="#2e2e2e" stroke-width="0.62"/>
<circle cx="766.97" cy="569.18" r="1.8" fill="#dadada" stroke="#2e2e2e" stroke-width="0.62"/>
<circle cx="772.91" cy="559.68" r="1.8" fill="#dadada" stroke="#2e2e2e" stroke-width="0.62"/>
<circle cx="764.35" cy="582.79" r="1.8" fill="#dadada" stroke="#2e2e2e" stroke-width="0.62"/>
<circle cx="780.36" cy="571.95" r="1.8" fill="#dadada" stroke="#2e2e2e" stroke-width="0.62"/>
<circle cx="769.71" cy="572.73" r="1.8" fill="#dadada" stroke="#2e2e2e" stroke-width="0.62"/>
<circle cx="779.57" cy="574.47" r="1.8" fill="#dadada" stroke="#2e2e2e" stroke-width="0.62"/>
<circle cx="755.37" cy="560.65" r="1.8" fill="#dadada" stroke="#2e2e2e" stroke-width="0.62"/>
<circle cx="775.50" cy="573.31" r="1.8" fill="#dadada" stroke="#2e2e2e" stroke-width="0.62"/>
<circle cx="785.66" cy="564.59" r="1.8" fill="#dadada" stroke="#2e2e2e" stroke-width="0.62"/>
<circle cx="766.37" cy="565.27" r="1.8" fill="#dadada" stroke="#2e2e2e" stroke-width="0.62"/>
<circle cx="793.03" cy="562.56" r="1.8" fill="#dadada" stroke="#2e2e2e" stroke-width="0.62"/>
<circle cx="781.97" cy="568.22" r="1.8" fill="#dadada" stroke="#2e2e2e" stroke-width="0.62"/>
<circle cx="750.50" cy="560.12" r="1.8" fill="#dadada" stroke="#2e2e2e" stroke-width="0.62"/>
<circle cx="761.91" cy="555.38" r="1.8" fill="#dadada" stroke="#2e2e2e" stroke-width="0.62"/>
<circle cx="780.57" cy="557.51" r="1.8" fill="#dadada" stroke="#2e2e2e" stroke-width="0.62"/>
<circle cx="756.40" cy="568.59" r="1.8" fill="#dadada" stroke="#2e2e2e" stroke-width="0.62"/>
<circle cx="780.65" cy="561.81" r="1.8" fill="#dadada" stroke="#2e2e2e" stroke-width="0.62"/>
<circle cx="778.90" cy="569.65" r="1.8" fill="#dadada" stroke="#2e2e2e" stroke-width="0.62"/>
<circle cx="781.19" cy="565.31" r="1.8" fill="#dadada" stroke="#2e2e2e" stroke-width="0.62"/>
<circle cx="759.43" cy="571.74" r="1.8" fill="#dadada" stroke="#2e2e2e" stroke-width="0.62"/>
<circle cx="778.81" cy="564.02" r="1.8" fill="#dadada" stroke="#2e2e2e" stroke-width="0.62"/>
<circle cx="781.72" cy="570.46" r="1.8" fill="#dadada" stroke="#2e2e2e" stroke-width="0.62"/>
<circle cx="769.34" cy="574.40" r="1.8" fill="#dadada" stroke="#2e2e2e" stroke-width="0.62"/>
<circle cx="768.86" cy="573.58" r="1.8" fill="#dadada" stroke="#2e2e2e" stroke-width="0.62"/>
<circle cx="792.40" cy="573.69" r="1.8" fill="#dadada" stroke="#2e2e2e" stroke-width="0.62"/>
<circle cx="761.63" cy="556.37" r="1.8" fill="#dadada" stroke="#2e2e2e" stroke-width="0.62"/>
<circle cx="762.69" cy="579.52" r="1.8" fill="#dadada" stroke="#2e2e2e" stroke-width="0.62"/>
<circle cx="769.36" cy="580.59" r="1.8" fill="#dadada" stroke="#2e2e2e" stroke-width="0.62"/>
<circle cx="781.16" cy="569.69" r="1.8" fill="#dadada" stroke="#2e2e2e" stroke-width="0.62"/>
<circle cx="764.03" cy="574.97" r="1.8" fill="#dadada" stroke="#2e2e2e" stroke-width="0.62"/>
<circle cx="780.45" cy="520.59" r="1.8" fill="#dadada" stroke="#2e2e2e" stroke-width="0.62"/>
<circle cx="769.81" cy="528.54" r="1.8" fill="#dadada" stroke="#2e2e2e" stroke-width="0.62"/>
<circle cx="776.07" cy="534.95" r="1.8" fill="#dadada" stroke="#2e2e2e" stroke-width="0.62"/>
<circle cx="784.83" cy="535.98" r="1.8" fill="#dadada" stroke="#2e2e2e" stroke-width="0.62"/>
<circle cx="807.05" cy="535.46" r="1.8" fill="#dadada" stroke="#2e2e2e" stroke-width="0.62"/>
<circle cx="761.67" cy="543.16" r="1.8" fill="#dadada" stroke="#2e2e2e" stroke-width="0.62"/>
<circle cx="758.54" cy="546.24" r="1.8" fill="#dadada" stroke="#2e2e2e" stroke-width="0.62"/>
<circle cx="769.81" cy="540.08" r="1.8" fill="#dadada" stroke="#2e2e2e" stroke-width="0.62"/>
<circle cx="776.69" cy="545.72" r="1.8" fill="#dadada" stroke="#2e2e2e" stroke-width="0.62"/>
<circle cx="795.79" cy="543.16" r="1.8" fill="#dadada" stroke="#2e2e2e" stroke-width="0.62"/>
<circle cx="742.58" cy="566.24" r="1.8" fill="#dadada" stroke="#2e2e2e" stroke-width="0.62"/>
<circle cx="743.83" cy="572.91" r="1.8" fill="#dadada" stroke="#2e2e2e" stroke-width="0.62"/>
<circle cx="749.46" cy="553.16" r="1.8" fill="#dadada" stroke="#2e2e2e" stroke-width="0.62"/>
<circle cx="750.71" cy="560.86" r="1.8" fill="#dadada" stroke="#2e2e2e" stroke-width="0.62"/>
<circle cx="806.12" cy="574.45" r="1.8" fill="#dadada" stroke="#2e2e2e" stroke-width="0.62"/>
<circle cx="814.88" cy="570.86" r="1.8" fill="#dadada" stroke="#2e2e2e" stroke-width="0.62"/>
<circle cx="792.97" cy="584.20" r="1.8" fill="#dadada" stroke="#2e2e2e" stroke-width="0.62"/>
<circle cx="799.86" cy="586.76" r="1.8" fill="#dadada" stroke="#2e2e2e" stroke-width="0.62"/>
<circle cx="749.77" cy="555.98" r="1.8" fill="#dadada" stroke="#2e2e2e" stroke-width="0.62"/>
<circle cx="754.47" cy="554.70" r="1.8" fill="#dadada" stroke="#2e2e2e" stroke-width="0.62"/>
<circle cx="757.60" cy="554.19" r="1.8" fill="#dadada" stroke="#2e2e2e" stroke-width="0.62"/>
<circle cx="752.90" cy="576.50" r="1.8" fill="#dadada" stroke="#2e2e2e" stroke-width="0.62"/>
<line x1="707.52" y1="567.52" x2="845.24" y2="569.58" stroke="#a01818" stroke-width="2.5" stroke-dasharray="9 3.4"/>
<text x="772.80" y="630.50" font-size="8.8" text-anchor="middle" font-weight="normal" fill="#111" >BMI</text>
<text transform="translate(680.9,559.6) rotate(-90)" font-size="8.6" text-anchor="middle" fill="#111">ADMA (μM)</text>
<text x="811.20" y="498.70" font-size="7.6" text-anchor="start" font-weight="normal" fill="#111" ><tspan font-style="italic">n</tspan> = 350, <tspan font-style="italic">P</tspan><tspan font-size="5.6" dy="-2.6">NS</tspan></text>
<text x="811.20" y="507.00" font-size="7.6" text-anchor="start" font-weight="normal" fill="#111" ><tspan font-style="italic">R</tspan> = −0.0191</text>
<text x="34.20" y="667.68" font-size="15.2" text-anchor="start" font-weight="bold" fill="#000" >I</text>
<line x1="86.4" y1="696.80" x2="86.4" y2="827.1" stroke="#444" stroke-width="1.2"/>
<line x1="85.80000000000001" y1="826.5" x2="217.50" y2="826.5" stroke="#444" stroke-width="1.2"/>
<line x1="81.9" y1="822.70" x2="86.4" y2="822.70" stroke="#444" stroke-width="0.9"/>
<line x1="90.90" y1="826.5" x2="90.90" y2="830.3" stroke="#444" stroke-width="0.9"/>
<text x="79.20" y="825.40" font-size="7.6" text-anchor="end" font-weight="normal" fill="#111" >0</text>
<text x="90.90" y="839.90" font-size="7.6" text-anchor="middle" font-weight="normal" fill="#111" >0</text>
<line x1="83.4" y1="816.68" x2="86.4" y2="816.68" stroke="#444" stroke-width="0.9"/>
<line x1="96.88" y1="826.5" x2="96.88" y2="828.8" stroke="#444" stroke-width="0.9"/>
<line x1="83.4" y1="810.66" x2="86.4" y2="810.66" stroke="#444" stroke-width="0.9"/>
<line x1="102.86" y1="826.5" x2="102.86" y2="828.8" stroke="#444" stroke-width="0.9"/>
<line x1="83.4" y1="804.64" x2="86.4" y2="804.64" stroke="#444" stroke-width="0.9"/>
<line x1="108.84" y1="826.5" x2="108.84" y2="828.8" stroke="#444" stroke-width="0.9"/>
<line x1="81.9" y1="798.62" x2="86.4" y2="798.62" stroke="#444" stroke-width="0.9"/>
<line x1="114.82" y1="826.5" x2="114.82" y2="830.3" stroke="#444" stroke-width="0.9"/>
<text x="79.20" y="801.32" font-size="7.6" text-anchor="end" font-weight="normal" fill="#111" >20</text>
<text x="114.82" y="839.90" font-size="7.6" text-anchor="middle" font-weight="normal" fill="#111" >20</text>
<line x1="83.4" y1="792.60" x2="86.4" y2="792.60" stroke="#444" stroke-width="0.9"/>
<line x1="120.80" y1="826.5" x2="120.80" y2="828.8" stroke="#444" stroke-width="0.9"/>
<line x1="83.4" y1="786.58" x2="86.4" y2="786.58" stroke="#444" stroke-width="0.9"/>
<line x1="126.78" y1="826.5" x2="126.78" y2="828.8" stroke="#444" stroke-width="0.9"/>
<line x1="83.4" y1="780.56" x2="86.4" y2="780.56" stroke="#444" stroke-width="0.9"/>
<line x1="132.76" y1="826.5" x2="132.76" y2="828.8" stroke="#444" stroke-width="0.9"/>
<line x1="81.9" y1="774.54" x2="86.4" y2="774.54" stroke="#444" stroke-width="0.9"/>
<line x1="138.74" y1="826.5" x2="138.74" y2="830.3" stroke="#444" stroke-width="0.9"/>
<text x="79.20" y="777.24" font-size="7.6" text-anchor="end" font-weight="normal" fill="#111" >40</text>
<text x="138.74" y="839.90" font-size="7.6" text-anchor="middle" font-weight="normal" fill="#111" >40</text>
<line x1="83.4" y1="768.52" x2="86.4" y2="768.52" stroke="#444" stroke-width="0.9"/>
<line x1="144.72" y1="826.5" x2="144.72" y2="828.8" stroke="#444" stroke-width="0.9"/>
<line x1="83.4" y1="762.50" x2="86.4" y2="762.50" stroke="#444" stroke-width="0.9"/>
<line x1="150.70" y1="826.5" x2="150.70" y2="828.8" stroke="#444" stroke-width="0.9"/>
<line x1="83.4" y1="756.48" x2="86.4" y2="756.48" stroke="#444" stroke-width="0.9"/>
<line x1="156.68" y1="826.5" x2="156.68" y2="828.8" stroke="#444" stroke-width="0.9"/>
<line x1="81.9" y1="750.46" x2="86.4" y2="750.46" stroke="#444" stroke-width="0.9"/>
<line x1="162.66" y1="826.5" x2="162.66" y2="830.3" stroke="#444" stroke-width="0.9"/>
<text x="79.20" y="753.16" font-size="7.6" text-anchor="end" font-weight="normal" fill="#111" >60</text>
<text x="162.66" y="839.90" font-size="7.6" text-anchor="middle" font-weight="normal" fill="#111" >60</text>
<line x1="83.4" y1="744.44" x2="86.4" y2="744.44" stroke="#444" stroke-width="0.9"/>
<line x1="168.64" y1="826.5" x2="168.64" y2="828.8" stroke="#444" stroke-width="0.9"/>
<line x1="83.4" y1="738.42" x2="86.4" y2="738.42" stroke="#444" stroke-width="0.9"/>
<line x1="174.62" y1="826.5" x2="174.62" y2="828.8" stroke="#444" stroke-width="0.9"/>
<line x1="83.4" y1="732.40" x2="86.4" y2="732.40" stroke="#444" stroke-width="0.9"/>
<line x1="180.60" y1="826.5" x2="180.60" y2="828.8" stroke="#444" stroke-width="0.9"/>
<line x1="81.9" y1="726.38" x2="86.4" y2="726.38" stroke="#444" stroke-width="0.9"/>
<line x1="186.58" y1="826.5" x2="186.58" y2="830.3" stroke="#444" stroke-width="0.9"/>
<text x="79.20" y="729.08" font-size="7.6" text-anchor="end" font-weight="normal" fill="#111" >80</text>
<text x="186.58" y="839.90" font-size="7.6" text-anchor="middle" font-weight="normal" fill="#111" >80</text>
<line x1="83.4" y1="720.36" x2="86.4" y2="720.36" stroke="#444" stroke-width="0.9"/>
<line x1="192.56" y1="826.5" x2="192.56" y2="828.8" stroke="#444" stroke-width="0.9"/>
<line x1="83.4" y1="714.34" x2="86.4" y2="714.34" stroke="#444" stroke-width="0.9"/>
<line x1="198.54" y1="826.5" x2="198.54" y2="828.8" stroke="#444" stroke-width="0.9"/>
<line x1="83.4" y1="708.32" x2="86.4" y2="708.32" stroke="#444" stroke-width="0.9"/>
<line x1="204.52" y1="826.5" x2="204.52" y2="828.8" stroke="#444" stroke-width="0.9"/>
<line x1="81.9" y1="702.30" x2="86.4" y2="702.30" stroke="#444" stroke-width="0.9"/>
<line x1="210.50" y1="826.5" x2="210.50" y2="830.3" stroke="#444" stroke-width="0.9"/>
<text x="79.20" y="705.00" font-size="7.6" text-anchor="end" font-weight="normal" fill="#111" >100</text>
<text x="210.50" y="839.90" font-size="7.6" text-anchor="middle" font-weight="normal" fill="#111" >100</text>
<line x1="90.90" y1="822.70" x2="210.50" y2="702.30" stroke="#d8c8cc" stroke-width="0.7"/>
<polyline points="90.90,822.70 90.90,814.39 91.98,813.55 91.98,807.17 92.81,806.33 92.81,790.31 94.73,789.59 95.21,779.96 97.36,779.12 98.91,777.07 98.91,755.64 100.83,755.16 103.94,753.59 106.33,751.90 108.84,746.13 113.62,744.68 116.02,740.71 118.41,738.30 119.72,730.35 120.80,725.54 123.19,724.21 126.42,723.13 131.21,719.16 137.54,714.58 144.00,712.41 147.23,711.57 156.92,711.09 162.42,709.76 172.83,707.60 182.51,706.63 192.20,705.55 201.65,704.35 206.55,702.66 210.50,702.30" fill="none" stroke="#3c3ca8" stroke-width="1.05"/>
<text x="152.90" y="685.60" font-size="10.65" text-anchor="middle" font-weight="normal" fill="#111" >OA vs. control</text>
<text x="123.60" y="733.80" font-size="8.0" text-anchor="start" font-weight="normal" fill="#111" >Sensitivity: 81.12</text>
<text x="123.60" y="743.50" font-size="8.0" text-anchor="start" font-weight="normal" fill="#111" >Specificity: 74.26</text>
<text x="119.20" y="815.00" font-size="8.0" text-anchor="start" font-weight="normal" fill="#111" xml:space="preserve">AUC:&#160;&#160;&#160;0.832 (0.789 to 0.870)</text>
<text x="156.30" y="850.20" font-size="10.4" text-anchor="middle" font-weight="normal" fill="#111" letter-spacing="0.12" stroke="#111" stroke-width="0.3">100 <tspan fill="#aaa" stroke="none">–</tspan> Specificity</text>
<text transform="translate(64.5,760) rotate(-90)" font-size="10.4" text-anchor="middle" fill="#111">Sensitivity</text>
<line x1="293.3" y1="700.50" x2="293.3" y2="826.7" stroke="#444" stroke-width="1.2"/>
<line x1="292.7" y1="826.1" x2="420.40" y2="826.1" stroke="#444" stroke-width="1.2"/>
<line x1="288.8" y1="822.90" x2="293.3" y2="822.90" stroke="#444" stroke-width="0.9"/>
<line x1="296.80" y1="826.1" x2="296.80" y2="829.9" stroke="#444" stroke-width="0.9"/>
<text x="286.10" y="825.60" font-size="7.6" text-anchor="end" font-weight="normal" fill="#111" >0</text>
<text x="296.80" y="840.10" font-size="7.6" text-anchor="middle" font-weight="normal" fill="#111" >0</text>
<line x1="290.3" y1="817.05" x2="293.3" y2="817.05" stroke="#444" stroke-width="0.9"/>
<line x1="302.63" y1="826.1" x2="302.63" y2="828.4" stroke="#444" stroke-width="0.9"/>
<line x1="290.3" y1="811.21" x2="293.3" y2="811.21" stroke="#444" stroke-width="0.9"/>
<line x1="308.46" y1="826.1" x2="308.46" y2="828.4" stroke="#444" stroke-width="0.9"/>
<line x1="290.3" y1="805.37" x2="293.3" y2="805.37" stroke="#444" stroke-width="0.9"/>
<line x1="314.29" y1="826.1" x2="314.29" y2="828.4" stroke="#444" stroke-width="0.9"/>
<line x1="288.8" y1="799.52" x2="293.3" y2="799.52" stroke="#444" stroke-width="0.9"/>
<line x1="320.12" y1="826.1" x2="320.12" y2="829.9" stroke="#444" stroke-width="0.9"/>
<text x="286.10" y="802.22" font-size="7.6" text-anchor="end" font-weight="normal" fill="#111" >20</text>
<text x="320.12" y="840.10" font-size="7.6" text-anchor="middle" font-weight="normal" fill="#111" >20</text>
<line x1="290.3" y1="793.67" x2="293.3" y2="793.67" stroke="#444" stroke-width="0.9"/>
<line x1="325.95" y1="826.1" x2="325.95" y2="828.4" stroke="#444" stroke-width="0.9"/>
<line x1="290.3" y1="787.83" x2="293.3" y2="787.83" stroke="#444" stroke-width="0.9"/>
<line x1="331.78" y1="826.1" x2="331.78" y2="828.4" stroke="#444" stroke-width="0.9"/>
<line x1="290.3" y1="781.99" x2="293.3" y2="781.99" stroke="#444" stroke-width="0.9"/>
<line x1="337.61" y1="826.1" x2="337.61" y2="828.4" stroke="#444" stroke-width="0.9"/>
<line x1="288.8" y1="776.14" x2="293.3" y2="776.14" stroke="#444" stroke-width="0.9"/>
<line x1="343.44" y1="826.1" x2="343.44" y2="829.9" stroke="#444" stroke-width="0.9"/>
<text x="286.10" y="778.84" font-size="7.6" text-anchor="end" font-weight="normal" fill="#111" >40</text>
<text x="343.44" y="840.10" font-size="7.6" text-anchor="middle" font-weight="normal" fill="#111" >40</text>
<line x1="290.3" y1="770.29" x2="293.3" y2="770.29" stroke="#444" stroke-width="0.9"/>
<line x1="349.27" y1="826.1" x2="349.27" y2="828.4" stroke="#444" stroke-width="0.9"/>
<line x1="290.3" y1="764.45" x2="293.3" y2="764.45" stroke="#444" stroke-width="0.9"/>
<line x1="355.10" y1="826.1" x2="355.10" y2="828.4" stroke="#444" stroke-width="0.9"/>
<line x1="290.3" y1="758.61" x2="293.3" y2="758.61" stroke="#444" stroke-width="0.9"/>
<line x1="360.93" y1="826.1" x2="360.93" y2="828.4" stroke="#444" stroke-width="0.9"/>
<line x1="288.8" y1="752.76" x2="293.3" y2="752.76" stroke="#444" stroke-width="0.9"/>
<line x1="366.76" y1="826.1" x2="366.76" y2="829.9" stroke="#444" stroke-width="0.9"/>
<text x="286.10" y="755.46" font-size="7.6" text-anchor="end" font-weight="normal" fill="#111" >60</text>
<text x="366.76" y="840.10" font-size="7.6" text-anchor="middle" font-weight="normal" fill="#111" >60</text>
<line x1="290.3" y1="746.91" x2="293.3" y2="746.91" stroke="#444" stroke-width="0.9"/>
<line x1="372.59" y1="826.1" x2="372.59" y2="828.4" stroke="#444" stroke-width="0.9"/>
<line x1="290.3" y1="741.07" x2="293.3" y2="741.07" stroke="#444" stroke-width="0.9"/>
<line x1="378.42" y1="826.1" x2="378.42" y2="828.4" stroke="#444" stroke-width="0.9"/>
<line x1="290.3" y1="735.23" x2="293.3" y2="735.23" stroke="#444" stroke-width="0.9"/>
<line x1="384.25" y1="826.1" x2="384.25" y2="828.4" stroke="#444" stroke-width="0.9"/>
<line x1="288.8" y1="729.38" x2="293.3" y2="729.38" stroke="#444" stroke-width="0.9"/>
<line x1="390.08" y1="826.1" x2="390.08" y2="829.9" stroke="#444" stroke-width="0.9"/>
<text x="286.10" y="732.08" font-size="7.6" text-anchor="end" font-weight="normal" fill="#111" >80</text>
<text x="390.08" y="840.10" font-size="7.6" text-anchor="middle" font-weight="normal" fill="#111" >80</text>
<line x1="290.3" y1="723.53" x2="293.3" y2="723.53" stroke="#444" stroke-width="0.9"/>
<line x1="395.91" y1="826.1" x2="395.91" y2="828.4" stroke="#444" stroke-width="0.9"/>
<line x1="290.3" y1="717.69" x2="293.3" y2="717.69" stroke="#444" stroke-width="0.9"/>
<line x1="401.74" y1="826.1" x2="401.74" y2="828.4" stroke="#444" stroke-width="0.9"/>
<line x1="290.3" y1="711.85" x2="293.3" y2="711.85" stroke="#444" stroke-width="0.9"/>
<line x1="407.57" y1="826.1" x2="407.57" y2="828.4" stroke="#444" stroke-width="0.9"/>
<line x1="288.8" y1="706.00" x2="293.3" y2="706.00" stroke="#444" stroke-width="0.9"/>
<line x1="413.40" y1="826.1" x2="413.40" y2="829.9" stroke="#444" stroke-width="0.9"/>
<text x="286.10" y="708.70" font-size="7.6" text-anchor="end" font-weight="normal" fill="#111" >100</text>
<text x="413.40" y="840.10" font-size="7.6" text-anchor="middle" font-weight="normal" fill="#111" >100</text>
<line x1="296.80" y1="822.90" x2="413.40" y2="706.00" stroke="#d8c8cc" stroke-width="0.7"/>
<polyline points="296.80,822.55 297.97,820.56 299.25,816.47 299.25,801.27 300.76,800.46 301.11,791.69 303.21,789.23 304.85,786.89 305.08,763.98 307.18,762.35 311.26,761.76 313.59,758.02 314.41,753.70 317.67,753.23 320.82,750.89 321.64,746.91 324.08,743.64 325.13,738.03 325.60,729.26 328.05,728.80 331.20,728.09 334.46,724.47 338.43,720.38 342.39,719.56 347.99,717.57 360.11,716.87 366.29,714.77 371.31,713.25 380.87,711.14 390.55,710.79 396.96,709.97 403.26,709.16 409.67,706.35 413.40,706.00" fill="none" stroke="#3c3ca8" stroke-width="1.05"/>
<text x="353.30" y="686.20" font-size="10.65" text-anchor="middle" font-weight="normal" fill="#111" >Early OA vs. control</text>
<text x="328.80" y="735.20" font-size="8.0" text-anchor="start" font-weight="normal" fill="#111" >Sensitivity: 79.86</text>
<text x="328.80" y="744.90" font-size="8.0" text-anchor="start" font-weight="normal" fill="#111" >Specificity: 75.25</text>
<text x="320.80" y="817.70" font-size="8.0" text-anchor="start" font-weight="normal" fill="#111" xml:space="preserve">AUC:&#160;&#160;&#160;0.811 (0.756 to 0.858)</text>
<text x="358.30" y="852.90" font-size="10.4" text-anchor="middle" font-weight="normal" fill="#111" letter-spacing="0.12" stroke="#111" stroke-width="0.12">100 <tspan fill="#111" stroke="none">–</tspan> Specificity</text>
<text transform="translate(268.4,762) rotate(-90)" font-size="10.4" text-anchor="middle" fill="#111">Sensitivity</text>
<line x1="504.0" y1="704.90" x2="504.0" y2="827.9" stroke="#444" stroke-width="1.2"/>
<line x1="503.4" y1="827.3" x2="627.50" y2="827.3" stroke="#444" stroke-width="1.2"/>
<line x1="499.5" y1="823.30" x2="504.0" y2="823.30" stroke="#444" stroke-width="0.9"/>
<line x1="508.30" y1="827.3" x2="508.30" y2="831.0999999999999" stroke="#444" stroke-width="0.9"/>
<text x="496.80" y="826.00" font-size="7.6" text-anchor="end" font-weight="normal" fill="#111" >0</text>
<text x="508.30" y="841.30" font-size="7.6" text-anchor="middle" font-weight="normal" fill="#111" >0</text>
<line x1="501.0" y1="817.65" x2="504.0" y2="817.65" stroke="#444" stroke-width="0.9"/>
<line x1="513.91" y1="827.3" x2="513.91" y2="829.5999999999999" stroke="#444" stroke-width="0.9"/>
<line x1="501.0" y1="812.01" x2="504.0" y2="812.01" stroke="#444" stroke-width="0.9"/>
<line x1="519.52" y1="827.3" x2="519.52" y2="829.5999999999999" stroke="#444" stroke-width="0.9"/>
<line x1="501.0" y1="806.37" x2="504.0" y2="806.37" stroke="#444" stroke-width="0.9"/>
<line x1="525.13" y1="827.3" x2="525.13" y2="829.5999999999999" stroke="#444" stroke-width="0.9"/>
<line x1="499.5" y1="800.72" x2="504.0" y2="800.72" stroke="#444" stroke-width="0.9"/>
<line x1="530.74" y1="827.3" x2="530.74" y2="831.0999999999999" stroke="#444" stroke-width="0.9"/>
<text x="496.80" y="803.42" font-size="7.6" text-anchor="end" font-weight="normal" fill="#111" >20</text>
<text x="530.74" y="841.30" font-size="7.6" text-anchor="middle" font-weight="normal" fill="#111" >20</text>
<line x1="501.0" y1="795.07" x2="504.0" y2="795.07" stroke="#444" stroke-width="0.9"/>
<line x1="536.35" y1="827.3" x2="536.35" y2="829.5999999999999" stroke="#444" stroke-width="0.9"/>
<line x1="501.0" y1="789.43" x2="504.0" y2="789.43" stroke="#444" stroke-width="0.9"/>
<line x1="541.96" y1="827.3" x2="541.96" y2="829.5999999999999" stroke="#444" stroke-width="0.9"/>
<line x1="501.0" y1="783.78" x2="504.0" y2="783.78" stroke="#444" stroke-width="0.9"/>
<line x1="547.57" y1="827.3" x2="547.57" y2="829.5999999999999" stroke="#444" stroke-width="0.9"/>
<line x1="499.5" y1="778.14" x2="504.0" y2="778.14" stroke="#444" stroke-width="0.9"/>
<line x1="553.18" y1="827.3" x2="553.18" y2="831.0999999999999" stroke="#444" stroke-width="0.9"/>
<text x="496.80" y="780.84" font-size="7.6" text-anchor="end" font-weight="normal" fill="#111" >40</text>
<text x="553.18" y="841.30" font-size="7.6" text-anchor="middle" font-weight="normal" fill="#111" >40</text>
<line x1="501.0" y1="772.50" x2="504.0" y2="772.50" stroke="#444" stroke-width="0.9"/>
<line x1="558.79" y1="827.3" x2="558.79" y2="829.5999999999999" stroke="#444" stroke-width="0.9"/>
<line x1="501.0" y1="766.85" x2="504.0" y2="766.85" stroke="#444" stroke-width="0.9"/>
<line x1="564.40" y1="827.3" x2="564.40" y2="829.5999999999999" stroke="#444" stroke-width="0.9"/>
<line x1="501.0" y1="761.20" x2="504.0" y2="761.20" stroke="#444" stroke-width="0.9"/>
<line x1="570.01" y1="827.3" x2="570.01" y2="829.5999999999999" stroke="#444" stroke-width="0.9"/>
<line x1="499.5" y1="755.56" x2="504.0" y2="755.56" stroke="#444" stroke-width="0.9"/>
<line x1="575.62" y1="827.3" x2="575.62" y2="831.0999999999999" stroke="#444" stroke-width="0.9"/>
<text x="496.80" y="758.26" font-size="7.6" text-anchor="end" font-weight="normal" fill="#111" >60</text>
<text x="575.62" y="841.30" font-size="7.6" text-anchor="middle" font-weight="normal" fill="#111" >60</text>
<line x1="501.0" y1="749.91" x2="504.0" y2="749.91" stroke="#444" stroke-width="0.9"/>
<line x1="581.23" y1="827.3" x2="581.23" y2="829.5999999999999" stroke="#444" stroke-width="0.9"/>
<line x1="501.0" y1="744.27" x2="504.0" y2="744.27" stroke="#444" stroke-width="0.9"/>
<line x1="586.84" y1="827.3" x2="586.84" y2="829.5999999999999" stroke="#444" stroke-width="0.9"/>
<line x1="501.0" y1="738.62" x2="504.0" y2="738.62" stroke="#444" stroke-width="0.9"/>
<line x1="592.45" y1="827.3" x2="592.45" y2="829.5999999999999" stroke="#444" stroke-width="0.9"/>
<line x1="499.5" y1="732.98" x2="504.0" y2="732.98" stroke="#444" stroke-width="0.9"/>
<line x1="598.06" y1="827.3" x2="598.06" y2="831.0999999999999" stroke="#444" stroke-width="0.9"/>
<text x="496.80" y="735.68" font-size="7.6" text-anchor="end" font-weight="normal" fill="#111" >80</text>
<text x="598.06" y="841.30" font-size="7.6" text-anchor="middle" font-weight="normal" fill="#111" >80</text>
<line x1="501.0" y1="727.33" x2="504.0" y2="727.33" stroke="#444" stroke-width="0.9"/>
<line x1="603.67" y1="827.3" x2="603.67" y2="829.5999999999999" stroke="#444" stroke-width="0.9"/>
<line x1="501.0" y1="721.69" x2="504.0" y2="721.69" stroke="#444" stroke-width="0.9"/>
<line x1="609.28" y1="827.3" x2="609.28" y2="829.5999999999999" stroke="#444" stroke-width="0.9"/>
<line x1="501.0" y1="716.04" x2="504.0" y2="716.04" stroke="#444" stroke-width="0.9"/>
<line x1="614.89" y1="827.3" x2="614.89" y2="829.5999999999999" stroke="#444" stroke-width="0.9"/>
<line x1="499.5" y1="710.40" x2="504.0" y2="710.40" stroke="#444" stroke-width="0.9"/>
<line x1="620.50" y1="827.3" x2="620.50" y2="831.0999999999999" stroke="#444" stroke-width="0.9"/>
<text x="496.80" y="713.10" font-size="7.6" text-anchor="end" font-weight="normal" fill="#111" >100</text>
<text x="620.50" y="841.30" font-size="7.6" text-anchor="middle" font-weight="normal" fill="#111" >100</text>
<line x1="508.30" y1="823.30" x2="620.50" y2="710.40" stroke="#d8c8cc" stroke-width="0.7"/>
<polyline points="508.30,823.30 508.75,815.28 510.43,812.12 511.22,804.11 514.36,796.09 516.04,795.30 517.61,792.82 520.75,792.03 522.44,788.08 523.22,781.30 526.36,780.85 529.62,779.27 531.19,773.62 534.44,771.25 542.30,769.67 544.09,765.61 547.12,762.45 548.80,756.01 551.27,753.64 556.88,751.27 564.06,750.48 567.32,748.00 570.46,746.42 574.50,745.17 576.07,741.33 580.11,739.98 588.97,738.40 590.54,736.03 594.58,735.58 596.94,732.87 599.29,727.22 602.55,725.98 605.80,725.64 607.37,721.58 609.73,716.04 612.20,715.25 617.02,711.98 620.50,710.40" fill="none" stroke="#3c3ca8" stroke-width="1.05"/>
<text x="565.80" y="687.50" font-size="10.65" text-anchor="middle" font-weight="normal" fill="#111" >Terminal OA vs. early OA</text>
<text x="533.60" y="725.70" font-size="8.0" text-anchor="start" font-weight="normal" fill="#111" >Sensitivity: 37.14</text>
<text x="533.60" y="735.40" font-size="8.0" text-anchor="start" font-weight="normal" fill="#111" >Specificity: 86.81</text>
<text x="532.00" y="817.60" font-size="8.0" text-anchor="start" font-weight="normal" fill="#111" xml:space="preserve">AUC:&#160;&#160;&#160;0.620 (0.556 to 0.680)</text>
<text x="570.80" y="855.00" font-size="10.4" text-anchor="middle" font-weight="normal" fill="#111" letter-spacing="0.12" stroke="#111" stroke-width="0.0">100 <tspan fill="#111" stroke="none">–</tspan> Specificity</text>
<text transform="translate(477.7,764.5) rotate(-90)" font-size="10.4" text-anchor="middle" fill="#111">Sensitivity</text>
</svg></body></html>
